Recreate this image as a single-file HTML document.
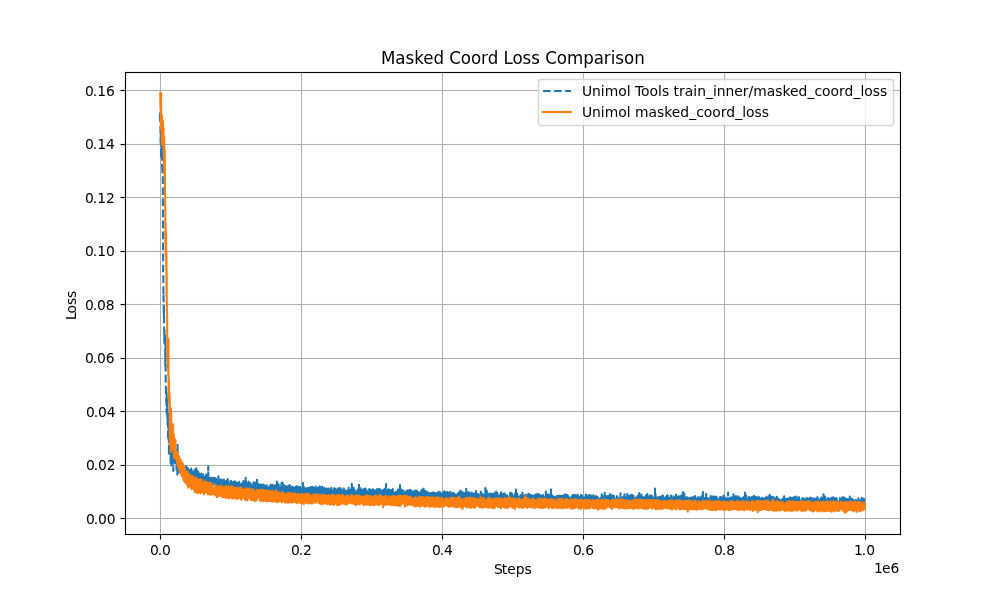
<!DOCTYPE html>
<html lang="en"><head><meta charset="utf-8"><title>Masked Coord Loss Comparison</title>
<style>
html,body{margin:0;padding:0;background:#fff;}
body{width:1000px;height:600px;overflow:hidden;}
svg{display:block;}
text{font-family:"DejaVu Sans","Liberation Sans",sans-serif;font-size:13.889px;fill:#000;white-space:pre;}
.t{font-size:16.667px;}
.g{stroke:#b0b0b0;stroke-width:1.111;fill:none;}
.k{stroke:#000;stroke-width:1.111;fill:none;}
</style></head><body>
<svg width="1000" height="600" viewBox="0 0 1000 600">
<rect x="0" y="0" width="1000" height="600" fill="#fff"/>
<defs><clipPath id="ax"><rect x="125" y="72" width="775" height="462"/></clipPath></defs>
<g fill="#b0b0b0">
<rect x="159.9445" y="72" width="1.111" height="462"/>
<rect x="300.9445" y="72" width="1.111" height="462"/>
<rect x="441.9445" y="72" width="1.111" height="462"/>
<rect x="582.9445" y="72" width="1.111" height="462"/>
<rect x="723.9445" y="72" width="1.111" height="462"/>
<rect x="864.9445" y="72" width="1.111" height="462"/>
<rect x="125" y="89.9445" width="775" height="1.111"/>
<rect x="125" y="143.9445" width="775" height="1.111"/>
<rect x="125" y="196.9445" width="775" height="1.111"/>
<rect x="125" y="250.9445" width="775" height="1.111"/>
<rect x="125" y="303.9445" width="775" height="1.111"/>
<rect x="125" y="357.9445" width="775" height="1.111"/>
<rect x="125" y="410.9445" width="775" height="1.111"/>
<rect x="125" y="464.9445" width="775" height="1.111"/>
<rect x="125" y="517.9445" width="775" height="1.111"/>
</g>
<g clip-path="url(#ax)" fill="none" stroke-width="2.083" stroke-linejoin="round">
<path d="M159.93 120.21L160.07 112.03L160.21 118.19L160.35 124.75L160.49 126.59L160.63 142.78L160.77 138.25L160.91 132.25L161.06 158.65L161.20 155.63L161.34 134.45L161.48 134.28L161.62 136.51L161.76 157.40L161.90 139.61L162.04 164.91L162.18 165.20L162.32 170.87L162.46 174.18L162.61 169.06L162.75 163.80L162.89 200.37L163.03 229.57L163.17 274.56L163.31 274.31L163.45 299.70L163.59 292.83L163.73 311.58L163.87 317.47L164.02 305.87L164.16 327.86L164.30 342.86L164.44 329.22L164.58 341.45L164.72 342.99L164.86 340.52L165.00 334.60L165.14 336.56L165.28 366.11L165.43 360.44L165.57 346.00L165.71 380.45L165.85 383.06L165.99 393.39L166.13 388.15L166.27 400.86L166.41 402.07L166.55 412.48L166.69 393.06L166.83 406.48L166.98 399.28L167.12 402.50L167.26 416.93L167.40 403.88L167.54 413.65L167.68 425.89L167.82 423.90L167.96 415.98L168.10 440.10L168.24 430.26L168.39 424.50L168.53 434.53L168.67 440.01L168.81 414.04L168.95 455.24L169.09 431.42L169.23 431.52L169.37 431.55L169.51 443.04L169.65 427.83L169.80 445.41L169.94 452.75L170.08 449.38L170.22 445.57L170.36 445.50L170.50 430.77L170.64 463.58L170.78 442.54L170.92 439.41L171.06 458.10L171.20 449.33L171.35 454.32L171.49 458.60L171.63 431.64L171.77 467.24L171.91 447.01L172.05 452.99L172.19 457.54L172.33 446.25L172.47 453.95L172.61 441.94L172.76 447.46L172.90 456.28L173.04 455.70L173.18 454.82L173.32 470.97L173.46 453.06L173.60 458.28L173.74 461.22L173.88 450.93L174.02 453.14L174.17 456.54L174.31 455.03L174.45 460.07L174.59 458.54L174.73 451.25L174.87 456.47L175.01 461.68L175.15 456.39L175.29 460.63L175.43 462.82L175.57 463.25L175.72 457.81L175.86 459.27L176.00 461.26L176.14 459.79L176.28 464.73L176.42 464.38L176.56 469.80L176.70 449.18L176.84 464.91L176.98 461.70L177.13 466.11L177.27 465.29L177.41 474.63L177.55 444.80L177.69 460.62L177.83 461.53L177.97 459.59L178.11 461.49L178.25 465.35L178.39 469.05L178.54 464.85L178.68 461.65L178.82 455.45L178.96 470.01L179.10 465.58L179.24 463.40L179.38 472.46L179.52 468.50L179.66 462.70L179.80 465.33L179.94 465.59L180.09 464.56L180.23 468.21L180.37 468.49L180.51 468.67L180.65 469.49L180.79 464.97L180.93 472.20L181.07 464.40L181.21 469.09L181.35 469.05L181.50 471.09L181.64 469.76L181.78 473.48L181.92 475.51L182.06 470.95L182.20 470.28L182.34 472.99L182.48 470.54L182.62 467.70L182.76 467.83L182.91 471.44L183.05 468.93L183.19 467.93L183.33 470.70L183.47 474.70L183.61 476.22L183.75 464.84L183.89 471.99L184.03 467.42L184.17 477.96L184.31 474.48L184.46 477.89L184.60 469.05L184.74 469.64L184.88 476.64L185.02 471.84L185.16 466.51L185.30 471.21L185.44 465.07L185.58 470.92L185.72 475.26L185.87 470.84L186.01 472.83L186.15 471.48L186.29 477.29L186.43 466.60L186.57 471.33L186.71 468.41L186.85 470.66L186.99 472.15L187.13 470.34L187.28 467.90L187.42 475.93L187.56 472.90L187.70 467.64L187.84 468.22L187.98 472.69L188.12 471.54L188.26 473.13L188.40 470.04L188.54 474.52L188.68 471.88L188.83 468.68L188.97 474.16L189.11 474.98L189.25 472.86L189.39 474.21L189.53 476.21L189.67 470.01L189.81 476.26L189.95 473.30L190.09 473.33L190.24 473.28L190.38 469.17L190.52 476.74L190.66 472.83L190.80 476.68L190.94 478.06L191.08 475.53L191.22 468.66L191.36 472.31L191.50 468.38L191.65 477.09L191.79 472.64L191.93 471.80L192.07 470.92L192.21 472.85L192.35 474.28L192.49 472.35L192.63 470.88L192.77 476.04L192.91 473.10L193.06 474.89L193.20 476.23L193.34 472.23L193.48 474.84L193.62 473.65L193.76 476.03L193.90 479.20L194.04 476.15L194.18 480.30L194.32 474.12L194.46 477.42L194.61 477.86L194.75 469.58L194.89 478.09L195.03 473.31L195.17 471.43L195.31 477.37L195.45 472.33L195.59 471.16L195.73 472.89L195.87 473.85L196.02 472.59L196.16 473.38L196.30 478.78L196.44 468.30L196.58 476.79L196.72 479.22L196.86 473.84L197.00 477.24L197.14 477.26L197.28 481.08L197.43 475.42L197.57 472.59L197.71 471.39L197.85 472.90L197.99 480.62L198.13 474.61L198.27 472.13L198.41 474.44L198.55 477.96L198.69 478.62L198.83 473.36L198.98 474.42L199.12 476.93L199.26 478.06L199.40 476.67L199.54 480.67L199.68 477.57L199.82 481.69L199.96 477.27L200.10 481.56L200.24 475.07L200.39 481.37L200.53 481.63L200.67 481.79L200.81 481.67L200.95 474.07L201.09 475.04L201.23 478.05L201.37 475.58L201.51 473.48L201.65 480.52L201.80 475.23L201.94 481.05L202.08 476.10L202.22 482.55L202.36 480.82L202.50 480.94L202.64 474.41L202.78 479.93L202.92 478.01L203.06 480.27L203.20 474.52L203.35 479.06L203.49 477.25L203.63 482.19L203.77 476.16L203.91 482.40L204.05 476.66L204.19 475.84L204.33 480.79L204.47 478.38L204.61 475.57L204.76 477.08L204.90 477.85L205.04 482.93L205.18 483.29L205.32 481.59L205.46 484.28L205.60 477.96L205.74 478.94L205.88 480.09L206.02 474.89L206.17 477.15L206.31 475.62L206.45 474.60L206.59 477.97L206.73 484.04L206.87 476.66L207.01 475.12L207.15 477.44L207.29 484.32L207.43 478.79L207.57 480.25L207.72 481.48L207.86 477.73L208.00 484.18L208.14 483.84L208.28 466.30L208.42 481.14L208.56 478.60L208.70 481.66L208.84 482.46L208.98 481.08L209.13 484.33L209.27 481.40L209.41 478.28L209.55 483.50L209.69 482.32L209.83 478.26L209.97 483.28L210.11 483.94L210.25 485.02L210.39 485.73L210.54 482.05L210.68 481.25L210.82 480.67L210.96 476.16L211.10 476.06L211.24 485.00L211.38 477.42L211.52 480.59L211.66 482.90L211.80 485.00L211.94 476.80L212.09 485.59L212.23 482.24L212.37 478.25L212.51 483.26L212.65 484.04L212.79 478.30L212.93 481.36L213.07 481.63L213.21 482.57L213.35 480.49L213.50 482.23L213.64 481.10L213.78 477.93L213.92 480.03L214.06 482.37L214.20 479.19L214.34 485.56L214.48 479.67L214.62 485.48L214.76 477.81L214.91 479.30L215.05 481.55L215.19 483.58L215.33 484.36L215.47 481.83L215.61 481.81L215.75 485.17L215.89 479.32L216.03 485.74L216.17 480.32L216.31 478.67L216.46 480.70L216.60 481.87L216.74 483.61L216.88 480.25L217.02 485.87L217.16 481.26L217.30 484.78L217.44 484.09L217.58 481.21L217.72 480.10L217.87 485.61L218.01 485.30L218.15 480.95L218.29 482.75L218.43 476.28L218.57 485.29L218.71 484.36L218.85 479.59L218.99 479.01L219.13 480.56L219.28 486.10L219.42 486.27L219.56 485.83L219.70 480.47L219.84 484.67L219.98 487.91L220.12 482.76L220.26 484.36L220.40 481.68L220.54 486.26L220.68 484.12L220.83 478.37L220.97 482.63L221.11 484.47L221.25 478.37L221.39 486.96L221.53 482.16L221.67 481.39L221.81 484.95L221.95 489.33L222.09 484.27L222.24 489.82L222.38 483.44L222.52 479.52L222.66 486.15L222.80 479.26L222.94 485.83L223.08 486.55L223.22 487.64L223.36 484.13L223.50 479.61L223.65 488.14L223.79 482.55L223.93 479.25L224.07 485.72L224.21 486.73L224.35 485.27L224.49 488.52L224.63 482.82L224.77 482.13L224.91 484.34L225.06 487.43L225.20 481.63L225.34 481.05L225.48 485.93L225.62 479.93L225.76 478.80L225.90 482.38L226.04 488.61L226.18 486.75L226.32 484.47L226.46 487.13L226.61 481.34L226.75 488.19L226.89 480.80L227.03 485.31L227.17 486.66L227.31 482.67L227.45 488.62L227.59 483.16L227.73 479.03L227.87 490.02L228.02 483.21L228.16 485.79L228.30 485.64L228.44 484.50L228.58 482.24L228.72 481.56L228.86 484.56L229.00 487.28L229.14 483.55L229.28 486.12L229.43 488.55L229.57 487.81L229.71 489.24L229.85 485.16L229.99 483.21L230.13 483.59L230.27 488.10L230.41 488.32L230.55 485.67L230.69 482.16L230.83 483.78L230.98 480.73L231.12 491.03L231.26 489.53L231.40 487.11L231.54 482.36L231.68 489.00L231.82 482.61L231.96 482.92L232.10 487.39L232.24 484.29L232.39 490.65L232.53 482.46L232.67 488.67L232.81 482.31L232.95 484.16L233.09 483.50L233.23 481.89L233.37 487.19L233.51 482.37L233.65 482.25L233.80 490.06L233.94 487.65L234.08 483.18L234.22 485.10L234.36 486.12L234.50 483.80L234.64 485.50L234.78 483.89L234.92 484.39L235.06 481.20L235.20 483.12L235.35 488.66L235.49 482.44L235.63 490.44L235.77 489.51L235.91 484.73L236.05 484.47L236.19 485.91L236.33 484.82L236.47 488.07L236.61 482.78L236.76 489.17L236.90 486.43L237.04 481.78L237.18 487.12L237.32 484.46L237.46 484.78L237.60 483.06L237.74 488.71L237.88 481.83L238.02 486.66L238.17 484.01L238.31 482.52L238.45 490.52L238.59 486.66L238.73 490.38L238.87 482.56L239.01 481.83L239.15 486.08L239.29 481.73L239.43 483.20L239.57 485.28L239.72 489.57L239.86 487.75L240.00 488.27L240.14 486.51L240.28 483.52L240.42 492.16L240.56 490.64L240.70 490.11L240.84 485.22L240.98 489.24L241.13 484.00L241.27 488.21L241.41 487.81L241.55 484.08L241.69 486.57L241.83 488.28L241.97 487.96L242.11 486.29L242.25 489.94L242.39 488.44L242.54 482.72L242.68 483.24L242.82 486.39L242.96 487.29L243.10 488.24L243.24 491.07L243.38 490.06L243.52 481.15L243.66 486.85L243.80 492.77L243.94 490.05L244.09 485.48L244.23 481.90L244.37 485.28L244.51 485.66L244.65 487.70L244.79 484.94L244.93 489.51L245.07 489.48L245.21 486.75L245.35 485.28L245.50 484.62L245.64 477.75L245.78 489.68L245.92 485.79L246.06 480.97L246.20 487.42L246.34 484.40L246.48 490.62L246.62 484.72L246.76 489.03L246.91 490.22L247.05 483.40L247.19 486.08L247.33 485.03L247.47 488.04L247.61 490.34L247.75 485.65L247.89 490.13L248.03 485.53L248.17 484.81L248.31 491.55L248.46 486.95L248.60 481.48L248.74 482.94L248.88 491.08L249.02 487.02L249.16 491.60L249.30 485.13L249.44 488.12L249.58 492.61L249.72 488.80L249.87 492.11L250.01 484.90L250.15 484.28L250.29 484.85L250.43 483.10L250.57 484.19L250.71 483.79L250.85 487.94L250.99 485.88L251.13 485.21L251.28 488.39L251.42 485.04L251.56 484.50L251.70 492.35L251.84 490.14L251.98 484.92L252.12 490.73L252.26 492.16L252.40 489.08L252.54 487.55L252.68 488.32L252.83 492.78L252.97 483.98L253.11 483.00L253.25 483.84L253.39 490.13L253.53 482.38L253.67 492.59L253.81 490.66L253.95 487.18L254.09 486.67L254.24 485.07L254.38 488.80L254.52 489.29L254.66 487.27L254.80 489.89L254.94 485.10L255.08 487.21L255.22 482.57L255.36 487.62L255.50 486.19L255.65 493.37L255.79 483.33L255.93 483.89L256.07 484.43L256.21 489.51L256.35 484.87L256.49 492.69L256.63 489.50L256.77 487.71L256.91 485.92L257.05 479.80L257.20 486.74L257.34 491.61L257.48 492.30L257.62 487.33L257.76 491.53L257.90 487.96L258.04 483.73L258.18 483.80L258.32 493.06L258.46 490.18L258.61 485.71L258.75 485.31L258.89 490.18L259.03 486.84L259.17 488.07L259.31 486.35L259.45 489.64L259.59 488.08L259.73 482.94L259.87 488.20L260.02 491.31L260.16 489.89L260.30 489.09L260.44 485.14L260.58 486.69L260.72 486.55L260.86 488.22L261.00 482.71L261.14 489.22L261.28 486.97L261.43 491.99L261.57 484.51L261.71 484.40L261.85 488.06L261.99 484.58L262.13 487.61L262.27 489.96L262.41 485.24L262.55 492.81L262.69 491.52L262.83 488.77L262.98 489.72L263.12 486.65L263.26 484.59L263.40 485.20L263.54 492.35L263.68 486.04L263.82 490.00L263.96 491.01L264.10 486.67L264.24 491.73L264.39 485.19L264.53 491.99L264.67 489.37L264.81 486.93L264.95 486.00L265.09 491.18L265.23 491.46L265.37 489.36L265.51 488.04L265.65 490.72L265.80 491.84L265.94 487.73L266.08 488.26L266.22 488.93L266.36 492.83L266.50 489.69L266.64 489.53L266.78 485.30L266.92 488.26L267.06 493.63L267.20 488.74L267.35 487.06L267.49 490.39L267.63 487.84L267.77 491.67L267.91 492.87L268.05 488.13L268.19 488.78L268.33 492.80L268.47 487.86L268.61 491.35L268.76 489.89L268.90 488.76L269.04 487.37L269.18 488.18L269.32 494.07L269.46 486.72L269.60 494.12L269.74 490.87L269.88 493.27L270.02 491.99L270.17 491.30L270.31 484.99L270.45 488.38L270.59 493.72L270.73 490.59L270.87 490.36L271.01 488.07L271.15 487.66L271.29 491.84L271.43 485.76L271.57 489.91L271.72 485.58L271.86 490.66L272.00 484.79L272.14 484.69L272.28 486.57L272.42 489.11L272.56 492.29L272.70 486.88L272.84 488.10L272.98 487.50L273.13 487.80L273.27 494.17L273.41 489.26L273.55 491.78L273.69 491.18L273.83 486.49L273.97 488.67L274.11 485.47L274.25 495.61L274.39 488.79L274.54 486.36L274.68 495.07L274.82 490.72L274.96 492.94L275.10 494.14L275.24 489.17L275.38 489.96L275.52 487.27L275.66 493.99L275.80 485.51L275.94 490.20L276.09 484.89L276.23 488.12L276.37 485.44L276.51 490.64L276.65 494.89L276.79 487.33L276.93 481.50L277.07 489.13L277.21 486.22L277.35 488.02L277.50 490.72L277.64 490.29L277.78 486.44L277.92 490.14L278.06 492.12L278.20 493.58L278.34 493.61L278.48 487.31L278.62 484.41L278.76 490.34L278.91 493.98L279.05 488.26L279.19 493.07L279.33 489.13L279.47 495.22L279.61 490.59L279.75 491.97L279.89 494.28L280.03 491.49L280.17 494.51L280.31 488.39L280.46 487.52L280.60 491.80L280.74 485.76L280.88 487.88L281.02 493.46L281.16 492.80L281.30 491.00L281.44 483.09L281.58 495.03L281.72 494.53L281.87 491.61L282.01 492.77L282.15 492.30L282.29 489.50L282.43 488.70L282.57 482.50L282.71 493.38L282.85 485.04L282.99 492.91L283.13 487.90L283.28 493.36L283.42 487.54L283.56 486.51L283.70 492.66L283.84 485.67L283.98 487.33L284.12 485.17L284.26 493.27L284.40 493.29L284.54 485.62L284.68 485.78L284.83 485.99L284.97 495.35L285.11 492.23L285.25 486.09L285.39 494.57L285.53 486.18L285.67 491.25L285.81 493.66L285.95 488.99L286.09 484.71L286.24 494.73L286.38 491.40L286.52 491.67L286.66 487.33L286.80 496.34L286.94 490.06L287.08 491.86L287.22 486.58L287.36 489.97L287.50 494.68L287.65 487.23L287.79 487.30L287.93 492.28L288.07 492.84L288.21 488.85L288.35 493.74L288.49 487.49L288.63 488.48L288.77 489.58L288.91 486.31L289.05 490.05L289.20 491.81L289.34 485.04L289.48 487.90L289.62 494.18L289.76 493.06L289.90 493.10L290.04 489.94L290.18 487.99L290.32 495.45L290.46 486.38L290.61 494.44L290.75 490.51L290.89 485.72L291.03 491.75L291.17 493.98L291.31 496.33L291.45 490.11L291.59 492.70L291.73 494.76L291.87 493.17L292.02 490.61L292.16 490.15L292.30 490.87L292.44 489.46L292.58 493.40L292.72 486.89L292.86 490.64L293.00 492.42L293.14 492.75L293.28 489.76L293.43 495.46L293.57 494.89L293.71 490.93L293.85 494.46L293.99 493.80L294.13 492.64L294.27 487.47L294.41 488.78L294.55 491.77L294.69 488.15L294.83 495.80L294.98 487.52L295.12 490.38L295.26 495.68L295.40 489.35L295.54 490.91L295.68 496.18L295.82 495.37L295.96 495.31L296.10 485.92L296.24 495.05L296.39 492.10L296.53 487.62L296.67 484.84L296.81 489.08L296.95 497.63L297.09 487.60L297.23 488.62L297.37 490.23L297.51 491.88L297.65 487.42L297.80 493.21L297.94 493.88L298.08 491.20L298.22 495.25L298.36 491.87L298.50 491.84L298.64 487.19L298.78 487.09L298.92 493.73L299.06 495.12L299.20 488.39L299.35 491.12L299.49 488.19L299.63 486.89L299.77 490.54L299.91 492.20L300.05 494.49L300.19 495.81L300.33 487.24L300.47 492.29L300.61 491.61L300.76 492.66L300.90 493.05L301.04 490.50L301.18 488.27L301.32 497.79L301.46 494.69L301.60 488.71L301.74 488.12L301.88 490.41L302.02 488.97L302.17 494.69L302.31 495.49L302.45 493.32L302.59 492.21L302.73 493.21L302.87 487.98L303.01 483.00L303.15 492.16L303.29 492.82L303.43 493.60L303.57 496.33L303.72 486.44L303.86 494.58L304.00 493.12L304.14 486.97L304.28 487.22L304.42 492.56L304.56 490.88L304.70 489.86L304.84 494.96L304.98 490.12L305.13 489.75L305.27 496.26L305.41 493.09L305.55 489.19L305.69 490.59L305.83 493.48L305.97 489.84L306.11 496.17L306.25 488.20L306.39 490.99L306.54 489.80L306.68 495.10L306.82 492.64L306.96 495.48L307.10 493.37L307.24 496.59L307.38 492.08L307.52 491.91L307.66 493.47L307.80 496.57L307.94 489.31L308.09 487.80L308.23 494.37L308.37 493.04L308.51 492.54L308.65 496.75L308.79 496.46L308.93 488.86L309.07 490.28L309.21 491.70L309.35 493.89L309.50 494.67L309.64 487.71L309.78 496.76L309.92 493.88L310.06 492.47L310.20 488.79L310.34 493.34L310.48 487.22L310.62 491.43L310.76 493.87L310.91 490.34L311.05 492.31L311.19 487.25L311.33 493.63L311.47 487.35L311.61 495.75L311.75 487.04L311.89 495.53L312.03 496.13L312.17 490.77L312.31 496.58L312.46 486.68L312.60 491.38L312.74 492.58L312.88 497.02L313.02 494.60L313.16 493.25L313.30 487.66L313.44 489.43L313.58 491.76L313.72 492.07L313.87 487.90L314.01 491.80L314.15 494.13L314.29 488.42L314.43 492.22L314.57 492.22L314.71 490.29L314.85 488.24L314.99 489.58L315.13 496.41L315.28 495.12L315.42 490.59L315.56 486.44L315.70 492.62L315.84 487.74L315.98 494.18L316.12 495.78L316.26 493.89L316.40 494.06L316.54 496.87L316.68 495.33L316.83 488.74L316.97 491.58L317.11 497.00L317.25 496.17L317.39 487.99L317.53 491.95L317.67 496.68L317.81 496.52L317.95 487.75L318.09 489.20L318.24 488.24L318.38 487.76L318.52 488.57L318.66 487.37L318.80 496.31L318.94 494.50L319.08 492.96L319.22 494.26L319.36 496.50L319.50 486.53L319.65 492.09L319.79 489.29L319.93 496.77L320.07 492.73L320.21 494.29L320.35 486.99L320.49 490.23L320.63 488.17L320.77 489.57L320.91 489.93L321.05 491.30L321.20 489.95L321.34 492.99L321.48 488.73L321.62 494.51L321.76 487.33L321.90 495.27L322.04 493.44L322.18 493.18L322.32 486.52L322.46 495.60L322.61 497.51L322.75 488.68L322.89 492.15L323.03 494.85L323.17 495.96L323.31 492.23L323.45 496.65L323.59 497.45L323.73 493.40L323.87 497.46L324.02 489.66L324.16 490.19L324.30 488.16L324.44 496.23L324.58 496.37L324.72 490.37L324.86 489.27L325.00 488.40L325.14 495.25L325.28 495.31L325.42 489.81L325.57 488.71L325.71 489.19L325.85 493.60L325.99 494.68L326.13 492.66L326.27 488.55L326.41 494.21L326.55 492.74L326.69 497.07L326.83 491.14L326.98 496.92L327.12 494.79L327.26 497.05L327.40 492.90L327.54 494.26L327.68 495.41L327.82 494.47L327.96 497.24L328.10 488.51L328.24 495.33L328.39 489.06L328.53 490.93L328.67 488.20L328.81 490.01L328.95 496.83L329.09 489.57L329.23 491.06L329.37 496.83L329.51 493.46L329.65 493.46L329.80 487.84L329.94 493.40L330.08 489.65L330.22 498.69L330.36 495.58L330.50 488.88L330.64 489.17L330.78 497.35L330.92 487.93L331.06 488.15L331.20 490.41L331.35 496.54L331.49 497.43L331.63 492.88L331.77 497.32L331.91 493.75L332.05 493.88L332.19 495.41L332.33 494.06L332.47 490.23L332.61 489.20L332.76 491.25L332.90 496.32L333.04 494.73L333.18 495.94L333.32 494.53L333.46 491.18L333.60 494.98L333.74 488.18L333.88 496.95L334.02 493.56L334.17 493.55L334.31 492.68L334.45 496.17L334.59 495.38L334.73 496.03L334.87 492.79L335.01 497.44L335.15 491.41L335.29 492.68L335.43 493.79L335.57 488.19L335.72 488.03L335.86 495.90L336.00 491.30L336.14 493.27L336.28 491.50L336.42 491.93L336.56 491.46L336.70 490.08L336.84 497.43L336.98 489.33L337.13 496.01L337.27 490.94L337.41 494.44L337.55 494.62L337.69 495.24L337.83 496.70L337.97 492.37L338.11 494.37L338.25 488.36L338.39 493.61L338.54 495.38L338.68 490.31L338.82 487.24L338.96 494.48L339.10 493.85L339.24 496.07L339.38 488.53L339.52 495.03L339.66 491.44L339.80 495.36L339.94 492.53L340.09 491.92L340.23 488.08L340.37 497.74L340.51 488.57L340.65 491.73L340.79 488.29L340.93 492.30L341.07 496.67L341.21 490.14L341.35 490.42L341.50 498.12L341.64 496.27L341.78 490.61L341.92 496.81L342.06 491.61L342.20 497.64L342.34 489.18L342.48 489.78L342.62 496.11L342.76 497.36L342.91 496.55L343.05 497.10L343.19 494.42L343.33 491.53L343.47 492.40L343.61 487.08L343.75 488.69L343.89 496.87L344.03 491.63L344.17 489.00L344.31 497.14L344.46 488.61L344.60 494.14L344.74 492.24L344.88 490.77L345.02 489.47L345.16 494.32L345.30 493.34L345.44 491.65L345.58 499.09L345.72 497.99L345.87 495.45L346.01 490.46L346.15 489.96L346.29 491.41L346.43 491.55L346.57 490.56L346.71 496.74L346.85 498.85L346.99 490.89L347.13 488.65L347.28 493.25L347.42 497.32L347.56 493.03L347.70 496.58L347.84 494.51L347.98 490.76L348.12 495.82L348.26 498.88L348.40 496.17L348.54 489.94L348.68 487.88L348.83 489.90L348.97 491.60L349.11 490.66L349.25 494.69L349.39 491.05L349.53 489.85L349.67 492.56L349.81 493.56L349.95 493.74L350.09 497.05L350.24 492.08L350.38 493.45L350.52 489.81L350.66 491.19L350.80 491.95L350.94 493.79L351.08 497.42L351.22 491.70L351.36 495.39L351.50 491.55L351.65 491.88L351.79 483.76L351.93 496.14L352.07 491.44L352.21 496.81L352.35 494.58L352.49 496.17L352.63 496.50L352.77 490.65L352.91 495.01L353.05 496.30L353.20 490.22L353.34 494.05L353.48 487.58L353.62 493.18L353.76 488.55L353.90 491.81L354.04 490.90L354.18 494.04L354.32 493.06L354.46 489.58L354.61 490.23L354.75 498.55L354.89 496.21L355.03 492.82L355.17 491.66L355.31 496.14L355.45 495.74L355.59 498.17L355.73 490.58L355.87 490.34L356.02 492.47L356.16 491.99L356.30 493.36L356.44 493.37L356.58 493.11L356.72 494.78L356.86 493.23L357.00 495.63L357.14 491.77L357.28 493.23L357.42 492.62L357.57 489.90L357.71 497.21L357.85 494.14L357.99 495.06L358.13 492.50L358.27 494.39L358.41 493.60L358.55 491.25L358.69 495.60L358.83 490.34L358.98 483.00L359.12 490.79L359.26 492.79L359.40 492.61L359.54 492.80L359.68 493.21L359.82 499.30L359.96 496.93L360.10 490.68L360.24 491.80L360.39 497.24L360.53 488.22L360.67 490.94L360.81 494.03L360.95 490.20L361.09 493.68L361.23 490.76L361.37 491.00L361.51 490.45L361.65 496.01L361.80 490.38L361.94 491.97L362.08 493.10L362.22 491.48L362.36 492.72L362.50 496.87L362.64 495.76L362.78 496.36L362.92 498.64L363.06 496.68L363.20 492.47L363.35 489.34L363.49 493.78L363.63 496.40L363.77 490.76L363.91 497.17L364.05 495.45L364.19 498.50L364.33 489.77L364.47 489.06L364.61 497.76L364.76 493.04L364.90 491.58L365.04 499.26L365.18 495.65L365.32 488.45L365.46 492.39L365.60 496.66L365.74 487.69L365.88 496.01L366.02 492.78L366.17 492.64L366.31 490.68L366.45 491.20L366.59 490.37L366.73 494.67L366.87 499.05L367.01 498.83L367.15 493.72L367.29 497.17L367.43 496.52L367.57 491.76L367.72 498.17L367.86 495.81L368.00 496.79L368.14 497.81L368.28 490.38L368.42 490.72L368.56 496.77L368.70 491.95L368.84 493.48L368.98 493.85L369.13 497.55L369.27 488.97L369.41 494.20L369.55 496.04L369.69 490.53L369.83 493.67L369.97 498.43L370.11 498.03L370.25 490.21L370.39 490.81L370.54 491.48L370.68 489.76L370.82 491.55L370.96 492.18L371.10 494.05L371.24 492.21L371.38 496.96L371.52 490.53L371.66 489.98L371.80 491.76L371.94 495.77L372.09 492.55L372.23 491.02L372.37 491.50L372.51 490.42L372.65 491.47L372.79 492.70L372.93 489.22L373.07 493.07L373.21 490.86L373.35 489.65L373.50 498.93L373.64 492.22L373.78 493.47L373.92 498.30L374.06 493.11L374.20 497.46L374.34 498.09L374.48 495.07L374.62 495.16L374.76 490.40L374.91 491.30L375.05 493.44L375.19 497.10L375.33 497.16L375.47 490.53L375.61 495.36L375.75 491.13L375.89 492.96L376.03 494.36L376.17 499.89L376.31 493.21L376.46 497.34L376.60 495.17L376.74 491.02L376.88 489.22L377.02 491.31L377.16 495.42L377.30 497.54L377.44 493.91L377.58 491.12L377.72 495.76L377.87 494.94L378.01 494.56L378.15 489.16L378.29 492.37L378.43 488.91L378.57 496.87L378.71 493.92L378.85 491.64L378.99 495.01L379.13 492.16L379.28 490.11L379.42 494.54L379.56 490.94L379.70 490.49L379.84 499.15L379.98 489.54L380.12 499.23L380.26 489.38L380.40 495.50L380.54 489.71L380.68 496.68L380.83 492.94L380.97 494.26L381.11 499.53L381.25 498.66L381.39 491.83L381.53 496.42L381.67 497.26L381.81 491.89L381.95 494.64L382.09 491.77L382.24 496.90L382.38 499.69L382.52 492.15L382.66 497.66L382.80 494.21L382.94 490.29L383.08 492.79L383.22 493.36L383.36 489.73L383.50 499.34L383.65 494.73L383.79 498.51L383.93 497.26L384.07 496.09L384.21 494.49L384.35 490.20L384.49 491.54L384.63 493.56L384.77 488.82L384.91 491.50L385.05 494.59L385.20 489.77L385.34 494.58L385.48 489.92L385.62 489.83L385.76 491.81L385.90 493.76L386.04 484.00L386.18 500.00L386.32 492.49L386.46 499.62L386.61 494.90L386.75 498.08L386.89 496.13L387.03 490.27L387.17 495.29L387.31 492.38L387.45 496.12L387.59 497.80L387.73 496.00L387.87 498.53L388.02 495.73L388.16 498.71L388.30 489.41L388.44 496.66L388.58 496.07L388.72 491.66L388.86 499.62L389.00 491.22L389.14 489.90L389.28 491.80L389.42 495.16L389.57 496.78L389.71 491.84L389.85 494.96L389.99 493.77L390.13 490.74L390.27 496.16L390.41 491.82L390.55 491.74L390.69 493.85L390.83 490.40L390.98 492.92L391.12 498.70L391.26 493.70L391.40 499.28L391.54 492.44L391.68 490.62L391.82 490.01L391.96 494.15L392.10 489.45L392.24 493.57L392.39 498.03L392.53 494.68L392.67 493.77L392.81 489.03L392.95 495.15L393.09 490.70L393.23 496.65L393.37 498.52L393.51 490.92L393.65 494.75L393.80 492.77L393.94 494.68L394.08 494.38L394.22 491.58L394.36 497.89L394.50 491.94L394.64 497.22L394.78 497.66L394.92 493.44L395.06 495.03L395.20 498.77L395.35 499.34L395.49 492.52L395.63 493.07L395.77 492.12L395.91 500.04L396.05 494.85L396.19 494.08L396.33 494.55L396.47 495.39L396.61 499.92L396.76 489.37L396.90 497.33L397.04 494.51L397.18 494.21L397.32 495.29L397.46 498.32L397.60 494.45L397.74 491.27L397.88 498.97L398.02 497.19L398.17 489.53L398.31 499.00L398.45 493.16L398.59 498.80L398.73 494.97L398.87 497.82L399.01 489.91L399.15 496.32L399.29 494.30L399.43 497.40L399.57 498.47L399.72 493.02L399.86 501.22L400.00 485.00L400.14 490.04L400.28 498.01L400.42 490.43L400.56 498.32L400.70 498.57L400.84 493.82L400.98 490.66L401.13 491.95L401.27 497.54L401.41 498.01L401.55 489.43L401.69 493.13L401.83 497.01L401.97 493.93L402.11 492.51L402.25 492.48L402.39 496.56L402.54 496.91L402.68 491.06L402.82 494.42L402.96 496.25L403.10 495.20L403.24 495.74L403.38 490.61L403.52 493.92L403.66 492.16L403.80 498.51L403.94 496.69L404.09 495.42L404.23 497.76L404.37 493.24L404.51 495.71L404.65 494.62L404.79 497.82L404.93 499.22L405.07 499.20L405.21 499.36L405.35 492.48L405.50 494.45L405.64 492.04L405.78 494.17L405.92 491.62L406.06 499.02L406.20 492.63L406.34 494.53L406.48 492.01L406.62 490.93L406.76 492.95L406.91 494.65L407.05 495.53L407.19 497.78L407.33 493.86L407.47 490.35L407.61 497.14L407.75 498.92L407.89 497.66L408.03 495.22L408.17 496.35L408.31 497.99L408.46 491.04L408.60 491.50L408.74 499.67L408.88 494.48L409.02 490.25L409.16 495.50L409.30 494.36L409.44 492.96L409.58 494.00L409.72 494.95L409.87 492.29L410.01 501.06L410.15 500.17L410.29 489.84L410.43 494.96L410.57 492.32L410.71 490.24L410.85 493.79L410.99 494.52L411.13 492.36L411.28 498.71L411.42 495.21L411.56 494.37L411.70 492.80L411.84 494.52L411.98 499.35L412.12 495.44L412.26 494.06L412.40 491.74L412.54 497.51L412.68 491.21L412.83 495.14L412.97 495.22L413.11 493.40L413.25 495.50L413.39 496.58L413.53 497.84L413.67 493.08L413.81 492.19L413.95 493.70L414.09 492.40L414.24 490.86L414.38 493.13L414.52 491.97L414.66 497.37L414.80 493.37L414.94 490.49L415.08 494.54L415.22 498.35L415.36 498.82L415.50 495.60L415.65 499.41L415.79 501.56L415.93 494.14L416.07 490.83L416.21 491.43L416.35 499.30L416.49 497.23L416.63 495.61L416.77 500.32L416.91 490.73L417.05 498.41L417.20 499.89L417.34 494.79L417.48 493.61L417.62 496.03L417.76 496.02L417.90 494.82L418.04 495.79L418.18 492.89L418.32 499.55L418.46 493.35L418.61 495.38L418.75 499.43L418.89 493.35L419.03 494.97L419.17 495.58L419.31 494.93L419.45 492.20L419.59 494.93L419.73 493.47L419.87 495.64L420.02 500.64L420.16 494.78L420.30 496.98L420.44 494.67L420.58 494.32L420.72 496.45L420.86 494.09L421.00 491.98L421.14 494.69L421.28 491.63L421.42 496.67L421.57 494.07L421.71 489.73L421.85 499.65L421.99 496.22L422.13 491.01L422.27 493.52L422.41 493.50L422.55 498.82L422.69 497.06L422.83 498.37L422.98 495.53L423.12 492.99L423.26 496.56L423.40 493.64L423.54 487.22L423.68 494.06L423.82 500.73L423.96 491.96L424.10 491.90L424.24 499.78L424.39 500.31L424.53 501.40L424.67 491.88L424.81 493.84L424.95 494.60L425.09 490.98L425.23 494.81L425.37 497.89L425.51 496.67L425.65 491.16L425.79 500.04L425.94 495.10L426.08 499.49L426.22 497.06L426.36 491.48L426.50 495.71L426.64 495.74L426.78 500.13L426.92 499.15L427.06 494.42L427.20 498.47L427.35 500.01L427.49 492.59L427.63 494.90L427.77 500.12L427.91 497.68L428.05 501.59L428.19 493.57L428.33 492.56L428.47 492.66L428.61 497.03L428.76 502.07L428.90 499.96L429.04 495.54L429.18 497.34L429.32 495.95L429.46 494.66L429.60 497.42L429.74 502.31L429.88 496.00L430.02 491.86L430.17 493.69L430.31 493.96L430.45 495.17L430.59 492.93L430.73 496.90L430.87 500.97L431.01 497.73L431.15 497.20L431.29 493.09L431.43 498.07L431.57 497.13L431.72 499.14L431.86 495.79L432.00 497.26L432.14 497.44L432.28 493.94L432.42 492.44L432.56 494.84L432.70 491.72L432.84 495.00L432.98 496.71L433.13 494.96L433.27 500.54L433.41 493.45L433.55 492.59L433.69 493.27L433.83 495.32L433.97 494.15L434.11 499.30L434.25 495.50L434.39 499.59L434.54 492.83L434.68 501.69L434.82 499.99L434.96 497.92L435.10 494.78L435.24 497.33L435.38 491.92L435.52 495.90L435.66 501.58L435.80 498.83L435.94 499.38L436.09 493.76L436.23 495.63L436.37 499.16L436.51 495.93L436.65 500.01L436.79 496.41L436.93 499.03L437.07 499.41L437.21 501.43L437.35 496.76L437.50 498.50L437.64 493.11L437.78 493.04L437.92 500.91L438.06 493.42L438.20 496.32L438.34 497.94L438.48 493.71L438.62 491.88L438.76 492.11L438.91 493.97L439.05 498.41L439.19 499.63L439.33 499.89L439.47 498.73L439.61 496.99L439.75 495.72L439.89 498.17L440.03 496.75L440.17 491.43L440.31 496.27L440.46 495.41L440.60 496.06L440.74 500.63L440.88 493.89L441.02 497.83L441.16 496.39L441.30 499.11L441.44 496.60L441.58 493.48L441.72 500.95L441.87 499.50L442.01 501.43L442.15 497.88L442.29 495.77L442.43 499.19L442.57 497.34L442.71 493.39L442.85 498.35L442.99 500.56L443.13 499.20L443.28 492.36L443.42 496.58L443.56 500.90L443.70 494.65L443.84 496.96L443.98 500.00L444.12 501.75L444.26 494.56L444.40 492.70L444.54 491.31L444.68 492.17L444.83 501.92L444.97 495.44L445.11 498.11L445.25 498.44L445.39 500.45L445.53 501.32L445.67 500.09L445.81 492.64L445.95 493.72L446.09 495.85L446.24 492.63L446.38 495.20L446.52 501.84L446.66 499.10L446.80 498.42L446.94 495.69L447.08 495.32L447.22 500.60L447.36 492.10L447.50 493.75L447.65 499.91L447.79 496.25L447.93 498.25L448.07 501.03L448.21 499.64L448.35 501.22L448.49 493.07L448.63 492.70L448.77 501.36L448.91 497.27L449.05 499.40L449.20 493.32L449.34 498.48L449.48 493.09L449.62 494.94L449.76 500.92L449.90 500.72L450.04 499.68L450.18 500.47L450.32 491.98L450.46 492.89L450.61 495.28L450.75 495.12L450.89 496.71L451.03 495.66L451.17 496.96L451.31 500.99L451.45 501.16L451.59 500.58L451.73 499.60L451.87 493.01L452.02 494.26L452.16 499.01L452.30 495.48L452.44 493.82L452.58 498.37L452.72 494.57L452.86 500.23L453.00 499.27L453.14 499.58L453.28 499.69L453.42 499.77L453.57 494.24L453.71 497.60L453.85 492.92L453.99 495.19L454.13 500.67L454.27 497.48L454.41 497.52L454.55 498.43L454.69 494.48L454.83 495.23L454.98 498.28L455.12 500.10L455.26 495.07L455.40 498.84L455.54 498.71L455.68 494.88L455.82 502.22L455.96 501.46L456.10 495.06L456.24 499.06L456.39 503.20L456.53 494.65L456.67 498.33L456.81 499.10L456.95 494.65L457.09 500.95L457.23 499.56L457.37 495.08L457.51 495.18L457.65 495.77L457.79 496.28L457.94 493.78L458.08 493.99L458.22 497.75L458.36 495.47L458.50 494.68L458.64 492.66L458.78 494.11L458.92 500.03L459.06 497.21L459.20 499.11L459.35 499.16L459.49 494.27L459.63 495.30L459.77 493.19L459.91 496.62L460.05 500.81L460.19 499.81L460.33 488.29L460.47 499.34L460.61 496.56L460.76 495.72L460.90 498.83L461.04 498.85L461.18 496.05L461.32 495.35L461.46 498.52L461.60 496.91L461.74 497.94L461.88 493.81L462.02 500.69L462.17 492.09L462.31 498.33L462.45 500.64L462.59 500.49L462.73 493.62L462.87 496.37L463.01 498.07L463.15 495.37L463.29 494.35L463.43 494.31L463.57 493.30L463.72 492.83L463.86 496.36L464.00 498.80L464.14 497.22L464.28 496.62L464.42 495.28L464.56 496.56L464.70 493.87L464.84 493.22L464.98 499.87L465.13 497.35L465.27 496.84L465.41 496.49L465.55 496.38L465.69 498.15L465.83 497.46L465.97 496.25L466.11 499.60L466.25 488.81L466.39 501.50L466.54 497.19L466.68 494.31L466.82 495.28L466.96 501.57L467.10 501.44L467.24 494.51L467.38 496.02L467.52 495.66L467.66 500.36L467.80 498.12L467.94 497.23L468.09 495.67L468.23 492.37L468.37 498.07L468.51 502.08L468.65 494.82L468.79 503.85L468.93 492.38L469.07 496.31L469.21 492.54L469.35 492.68L469.50 499.05L469.64 497.77L469.78 495.69L469.92 498.43L470.06 493.97L470.20 501.29L470.34 495.70L470.48 502.38L470.62 496.53L470.76 501.85L470.91 494.19L471.05 498.89L471.19 494.61L471.33 496.90L471.47 492.49L471.61 495.52L471.75 496.04L471.89 494.34L472.03 494.10L472.17 494.26L472.31 497.57L472.46 498.97L472.60 497.19L472.74 501.47L472.88 497.76L473.02 497.53L473.16 495.34L473.30 493.64L473.44 498.54L473.58 499.31L473.72 501.97L473.87 492.80L474.01 500.87L474.15 493.46L474.29 502.42L474.43 500.59L474.57 500.31L474.71 494.75L474.85 500.45L474.99 502.11L475.13 496.36L475.28 493.69L475.42 501.31L475.56 495.49L475.70 500.63L475.84 493.22L475.98 490.00L476.12 500.58L476.26 503.18L476.40 499.15L476.54 501.97L476.68 502.31L476.83 501.85L476.97 496.64L477.11 499.23L477.25 499.93L477.39 495.00L477.53 497.34L477.67 492.86L477.81 496.50L477.95 500.72L478.09 501.27L478.24 501.95L478.38 497.32L478.52 499.36L478.66 498.75L478.80 501.62L478.94 495.11L479.08 503.29L479.22 496.95L479.36 500.45L479.50 501.23L479.65 500.69L479.79 498.03L479.93 501.22L480.07 501.15L480.21 495.79L480.35 496.05L480.49 494.18L480.63 499.98L480.77 491.49L480.91 494.38L481.05 494.63L481.20 498.63L481.34 501.12L481.48 501.96L481.62 499.48L481.76 499.22L481.90 493.74L482.04 496.57L482.18 498.58L482.32 494.01L482.46 493.11L482.61 499.13L482.75 498.30L482.89 501.75L483.03 494.36L483.17 501.74L483.31 500.93L483.45 496.02L483.59 496.05L483.73 501.70L483.87 496.58L484.02 501.12L484.16 500.67L484.30 496.39L484.44 500.46L484.58 501.14L484.72 497.63L484.86 501.45L485.00 494.97L485.14 498.11L485.28 488.05L485.42 499.71L485.57 500.27L485.71 489.81L485.85 495.08L485.99 495.38L486.13 497.44L486.27 499.01L486.41 496.08L486.55 497.28L486.69 493.12L486.83 491.07L486.98 497.60L487.12 501.79L487.26 500.42L487.40 499.26L487.54 493.83L487.68 498.26L487.82 495.55L487.96 495.78L488.10 501.67L488.24 495.06L488.39 493.08L488.53 495.48L488.67 495.84L488.81 500.82L488.95 494.03L489.09 498.43L489.23 498.29L489.37 498.77L489.51 493.45L489.65 497.32L489.79 499.46L489.94 500.49L490.08 499.87L490.22 501.83L490.36 494.47L490.50 501.17L490.64 493.93L490.78 498.27L490.92 497.44L491.06 501.76L491.20 499.43L491.35 499.41L491.49 493.11L491.63 495.29L491.77 493.86L491.91 498.87L492.05 498.34L492.19 497.14L492.33 501.43L492.47 493.97L492.61 500.05L492.76 494.39L492.90 500.37L493.04 493.78L493.18 502.08L493.32 502.02L493.46 497.55L493.60 493.56L493.74 496.35L493.88 502.50L494.02 501.10L494.16 494.98L494.31 495.96L494.45 493.91L494.59 497.41L494.73 498.10L494.87 495.08L495.01 493.00L495.15 501.43L495.29 502.75L495.43 493.46L495.57 496.46L495.72 494.03L495.86 498.13L496.00 498.08L496.14 491.55L496.28 499.30L496.42 499.82L496.56 501.52L496.70 495.77L496.84 497.20L496.98 500.02L497.13 501.93L497.27 496.27L497.41 492.95L497.55 499.85L497.69 498.71L497.83 497.08L497.97 497.49L498.11 499.76L498.25 498.82L498.39 496.64L498.54 503.09L498.68 500.31L498.82 496.27L498.96 502.47L499.10 498.81L499.24 499.90L499.38 499.16L499.52 502.91L499.66 497.94L499.80 496.16L499.94 500.16L500.09 494.56L500.23 494.91L500.37 495.70L500.51 498.41L500.65 502.99L500.79 495.56L500.93 495.98L501.07 492.38L501.21 498.77L501.35 499.69L501.50 495.67L501.64 501.80L501.78 494.67L501.92 501.91L502.06 500.65L502.20 501.72L502.34 496.79L502.48 501.81L502.62 498.60L502.76 499.58L502.91 493.93L503.05 498.80L503.19 495.12L503.33 495.98L503.47 499.17L503.61 497.13L503.75 495.14L503.89 493.44L504.03 497.29L504.17 500.34L504.31 499.24L504.46 493.38L504.60 497.28L504.74 495.77L504.88 493.60L505.02 493.89L505.16 501.18L505.30 494.85L505.44 501.69L505.58 496.05L505.72 495.40L505.87 502.45L506.01 502.52L506.15 495.50L506.29 492.81L506.43 493.58L506.57 497.45L506.71 500.64L506.85 498.03L506.99 495.22L507.13 502.55L507.28 495.92L507.42 502.75L507.56 497.18L507.70 498.46L507.84 494.97L507.98 502.59L508.12 500.83L508.26 501.95L508.40 496.68L508.54 498.84L508.68 495.70L508.83 496.59L508.97 496.57L509.11 499.97L509.25 500.78L509.39 497.90L509.53 499.97L509.67 502.09L509.81 500.87L509.95 498.79L510.09 493.57L510.24 503.50L510.38 492.53L510.52 502.37L510.66 496.31L510.80 494.47L510.94 500.91L511.08 493.11L511.22 495.11L511.36 501.22L511.50 502.83L511.65 500.37L511.79 499.69L511.93 494.62L512.07 493.87L512.21 501.33L512.35 501.68L512.49 501.98L512.63 501.69L512.77 500.06L512.91 499.56L513.05 498.15L513.20 496.25L513.34 498.22L513.48 499.91L513.62 503.82L513.76 502.97L513.90 498.80L514.04 501.21L514.18 502.78L514.32 501.98L514.46 498.88L514.61 496.09L514.75 500.55L514.89 493.76L515.03 496.65L515.17 498.46L515.31 496.21L515.45 503.73L515.59 501.61L515.73 499.49L515.87 498.44L516.02 489.50L516.16 498.12L516.30 496.45L516.44 502.34L516.58 495.42L516.72 499.29L516.86 501.47L517.00 493.24L517.14 493.68L517.28 495.74L517.42 494.62L517.57 497.39L517.71 502.82L517.85 499.16L517.99 501.52L518.13 500.65L518.27 499.32L518.41 496.28L518.55 500.59L518.69 496.50L518.83 503.28L518.98 496.64L519.12 501.79L519.26 503.14L519.40 498.57L519.54 495.68L519.68 501.09L519.82 500.76L519.96 502.69L520.10 499.91L520.24 500.45L520.39 496.47L520.53 495.91L520.67 495.13L520.81 495.14L520.95 502.21L521.09 500.43L521.23 498.86L521.37 492.66L521.51 493.33L521.65 498.43L521.79 497.98L521.94 503.50L522.08 499.20L522.22 502.40L522.36 498.13L522.50 492.56L522.64 500.18L522.78 497.76L522.92 493.89L523.06 494.50L523.20 497.49L523.35 500.62L523.49 502.25L523.63 496.32L523.77 496.26L523.91 498.77L524.05 497.99L524.19 498.38L524.33 499.44L524.47 499.25L524.61 500.65L524.76 495.70L524.90 502.24L525.04 500.03L525.18 503.99L525.32 494.80L525.46 499.73L525.60 494.64L525.74 501.10L525.88 501.23L526.02 499.62L526.16 495.52L526.31 498.98L526.45 499.69L526.59 501.81L526.73 501.18L526.87 498.77L527.01 500.45L527.15 500.43L527.29 498.40L527.43 496.07L527.57 503.32L527.72 496.44L527.86 498.01L528.00 498.22L528.14 494.37L528.28 499.31L528.42 494.03L528.56 499.36L528.70 501.02L528.84 497.78L528.98 494.13L529.13 498.84L529.27 495.88L529.41 502.36L529.55 497.73L529.69 499.59L529.83 497.30L529.97 494.36L530.11 499.56L530.25 503.83L530.39 496.74L530.54 494.71L530.68 498.44L530.82 503.79L530.96 498.91L531.10 495.34L531.24 497.23L531.38 501.39L531.52 500.40L531.66 495.50L531.80 497.28L531.94 502.81L532.09 496.58L532.23 502.01L532.37 499.92L532.51 499.72L532.65 496.67L532.79 495.86L532.93 498.52L533.07 495.59L533.21 499.43L533.35 499.50L533.50 495.53L533.64 493.70L533.78 499.81L533.92 504.62L534.06 501.55L534.20 494.64L534.34 502.32L534.48 497.55L534.62 500.78L534.76 501.26L534.91 495.02L535.05 498.24L535.19 497.02L535.33 495.42L535.47 494.43L535.61 500.37L535.75 501.45L535.89 501.29L536.03 502.92L536.17 496.42L536.31 498.47L536.46 498.50L536.60 500.07L536.74 503.93L536.88 497.86L537.02 495.73L537.16 497.81L537.30 501.46L537.44 493.72L537.58 496.70L537.72 502.55L537.87 503.75L538.01 495.81L538.15 494.17L538.29 497.53L538.43 499.75L538.57 494.85L538.71 504.30L538.85 502.41L538.99 496.98L539.13 497.53L539.28 500.12L539.42 494.60L539.56 497.41L539.70 498.52L539.84 496.47L539.98 500.26L540.12 500.95L540.26 497.97L540.40 498.00L540.54 501.25L540.68 495.72L540.83 493.72L540.97 497.34L541.11 501.21L541.25 499.03L541.39 499.19L541.53 498.26L541.67 499.27L541.81 496.33L541.95 503.17L542.09 499.20L542.24 498.69L542.38 497.57L542.52 501.06L542.66 499.61L542.80 495.91L542.94 498.53L543.08 495.01L543.22 497.12L543.36 499.64L543.50 498.37L543.65 498.81L543.79 497.65L543.93 503.86L544.07 496.96L544.21 504.84L544.35 496.99L544.49 501.94L544.63 500.83L544.77 501.51L544.91 497.18L545.05 503.46L545.20 501.06L545.34 498.77L545.48 500.79L545.62 501.59L545.76 491.53L545.90 495.69L546.04 495.01L546.18 496.36L546.32 495.88L546.46 497.71L546.61 495.02L546.75 500.69L546.89 502.31L547.03 497.51L547.17 495.70L547.31 496.92L547.45 499.66L547.59 502.70L547.73 499.37L547.87 494.41L548.02 499.05L548.16 502.97L548.30 496.23L548.44 499.49L548.58 496.22L548.72 499.92L548.86 503.50L549.00 498.57L549.14 504.30L549.28 503.03L549.42 500.32L549.57 498.40L549.71 504.51L549.85 496.13L549.99 494.88L550.13 496.37L550.27 498.16L550.41 502.01L550.55 503.85L550.69 496.59L550.83 497.58L550.98 489.50L551.12 498.66L551.26 496.13L551.40 496.60L551.54 503.14L551.68 497.34L551.82 496.75L551.96 497.81L552.10 504.76L552.24 499.48L552.39 495.50L552.53 503.42L552.67 498.53L552.81 497.77L552.95 494.65L553.09 500.30L553.23 500.32L553.37 499.87L553.51 497.53L553.65 503.76L553.79 498.00L553.94 501.18L554.08 502.85L554.22 498.41L554.36 495.08L554.50 498.96L554.64 497.99L554.78 499.39L554.92 495.79L555.06 501.59L555.20 496.76L555.35 498.06L555.49 504.71L555.63 498.09L555.77 503.64L555.91 499.34L556.05 502.24L556.19 502.10L556.33 498.43L556.47 502.09L556.61 498.84L556.76 495.96L556.90 499.64L557.04 503.48L557.18 500.69L557.32 502.50L557.46 504.85L557.60 498.21L557.74 504.06L557.88 501.62L558.02 503.16L558.16 499.00L558.31 502.07L558.45 495.83L558.59 499.27L558.73 500.11L558.87 496.08L559.01 499.47L559.15 500.16L559.29 501.90L559.43 495.89L559.57 498.27L559.72 496.77L559.86 497.15L560.00 500.38L560.14 503.39L560.28 499.19L560.42 498.33L560.56 499.27L560.70 497.77L560.84 503.69L560.98 498.93L561.13 495.74L561.27 503.68L561.41 499.41L561.55 498.72L561.69 501.62L561.83 499.41L561.97 498.87L562.11 497.41L562.25 503.51L562.39 495.72L562.53 496.24L562.68 498.47L562.82 498.16L562.96 495.12L563.10 497.65L563.24 501.07L563.38 497.57L563.52 496.81L563.66 498.83L563.80 504.27L563.94 501.62L564.09 495.12L564.23 498.82L564.37 496.51L564.51 496.30L564.65 496.69L564.79 502.02L564.93 501.55L565.07 498.16L565.21 496.58L565.35 503.80L565.50 494.31L565.64 496.17L565.78 498.11L565.92 502.76L566.06 503.60L566.20 500.21L566.34 500.65L566.48 497.73L566.62 501.47L566.76 504.74L566.91 498.89L567.05 495.44L567.19 497.33L567.33 499.99L567.47 494.95L567.61 503.81L567.75 500.14L567.89 502.32L568.03 501.17L568.17 496.11L568.31 503.25L568.46 498.17L568.60 499.46L568.74 496.94L568.88 499.84L569.02 498.85L569.16 503.63L569.30 501.66L569.44 499.02L569.58 499.23L569.72 500.22L569.87 502.43L570.01 503.71L570.15 503.29L570.29 497.36L570.43 499.82L570.57 498.30L570.71 498.56L570.85 499.80L570.99 501.36L571.13 502.45L571.28 502.70L571.42 499.44L571.56 496.55L571.70 501.44L571.84 500.36L571.98 499.90L572.12 503.65L572.26 497.99L572.40 499.22L572.54 495.29L572.68 496.40L572.83 495.12L572.97 499.96L573.11 504.82L573.25 504.65L573.39 495.24L573.53 498.68L573.67 496.09L573.81 497.29L573.95 503.51L574.09 500.15L574.24 502.54L574.38 494.89L574.52 502.84L574.66 500.95L574.80 502.89L574.94 502.22L575.08 495.41L575.22 501.75L575.36 501.38L575.50 498.98L575.65 499.00L575.79 498.77L575.93 503.04L576.07 495.54L576.21 499.28L576.35 498.65L576.49 503.90L576.63 498.44L576.77 503.32L576.91 501.59L577.05 500.90L577.20 503.41L577.34 496.57L577.48 501.41L577.62 503.16L577.76 494.86L577.90 502.19L578.04 503.46L578.18 503.41L578.32 504.93L578.46 496.64L578.61 498.58L578.75 504.39L578.89 500.12L579.03 504.03L579.17 501.71L579.31 500.13L579.45 497.26L579.59 502.83L579.73 503.42L579.87 496.71L580.02 503.19L580.16 500.43L580.30 503.89L580.44 500.31L580.58 502.48L580.72 499.90L580.86 496.43L581.00 495.09L581.14 502.52L581.28 504.79L581.42 498.04L581.57 502.48L581.71 505.25L581.85 504.13L581.99 501.99L582.13 498.21L582.27 495.74L582.41 500.62L582.55 496.32L582.69 499.58L582.83 501.32L582.98 501.86L583.12 502.34L583.26 500.99L583.40 500.18L583.54 504.44L583.68 498.65L583.82 498.30L583.96 501.63L584.10 496.57L584.24 495.99L584.39 499.28L584.53 500.09L584.67 500.37L584.81 500.40L584.95 499.69L585.09 498.01L585.23 495.71L585.37 500.38L585.51 503.73L585.65 505.19L585.79 494.52L585.94 495.47L586.08 501.98L586.22 502.91L586.36 495.25L586.50 502.13L586.64 498.72L586.78 498.96L586.92 500.95L587.06 497.86L587.20 500.04L587.35 498.12L587.49 498.22L587.63 504.10L587.77 497.22L587.91 500.00L588.05 498.62L588.19 497.16L588.33 500.85L588.47 498.89L588.61 499.25L588.76 495.26L588.90 503.11L589.04 501.81L589.18 499.40L589.32 500.45L589.46 497.23L589.60 505.06L589.74 501.71L589.88 498.90L590.02 495.13L590.16 504.23L590.31 503.01L590.45 497.62L590.59 503.60L590.73 495.24L590.87 496.03L591.01 501.33L591.15 497.78L591.29 498.47L591.43 497.15L591.57 502.44L591.72 497.89L591.86 498.01L592.00 499.34L592.14 503.22L592.28 500.38L592.42 500.95L592.56 497.51L592.70 504.97L592.84 499.69L592.98 504.04L593.13 495.61L593.27 501.41L593.41 495.28L593.55 501.90L593.69 504.41L593.83 502.51L593.97 496.96L594.11 505.18L594.25 499.46L594.39 496.51L594.53 502.96L594.68 505.32L594.82 505.27L594.96 501.12L595.10 500.37L595.24 496.65L595.38 499.52L595.52 496.12L595.66 495.18L595.80 502.65L595.94 496.10L596.09 500.19L596.23 500.04L596.37 500.94L596.51 497.29L596.65 500.46L596.79 496.59L596.93 502.84L597.07 499.06L597.21 495.40L597.35 502.78L597.50 502.28L597.64 499.18L597.78 497.37L597.92 499.21L598.06 504.40L598.20 501.39L598.34 500.14L598.48 498.94L598.62 500.13L598.76 501.89L598.91 503.82L599.05 500.12L599.19 501.69L599.33 504.26L599.47 504.12L599.61 502.37L599.75 500.40L599.89 498.11L600.03 497.87L600.17 498.49L600.31 497.95L600.46 500.31L600.60 500.42L600.74 503.40L600.88 504.21L601.02 500.15L601.16 501.68L601.30 502.53L601.44 497.60L601.58 504.30L601.72 494.36L601.87 502.36L602.01 498.16L602.15 501.92L602.29 499.02L602.43 495.73L602.57 499.21L602.71 501.69L602.85 503.69L602.99 504.19L603.13 498.83L603.28 497.63L603.42 504.99L603.56 500.07L603.70 498.12L603.84 497.73L603.98 499.04L604.12 501.47L604.26 503.37L604.40 497.44L604.54 503.74L604.68 492.90L604.83 498.48L604.97 501.56L605.11 499.05L605.25 500.95L605.39 501.45L605.53 499.41L605.67 502.01L605.81 504.93L605.95 496.96L606.09 499.59L606.24 496.18L606.38 498.97L606.52 500.74L606.66 496.49L606.80 505.53L606.94 496.85L607.08 501.94L607.22 502.59L607.36 505.02L607.50 500.09L607.65 505.68L607.79 503.84L607.93 496.00L608.07 503.18L608.21 501.52L608.35 501.69L608.49 501.16L608.63 500.74L608.77 497.20L608.91 502.73L609.05 500.95L609.20 498.86L609.34 500.55L609.48 495.48L609.62 504.47L609.76 500.58L609.90 502.43L610.04 494.10L610.18 495.96L610.32 505.67L610.46 498.92L610.61 501.88L610.75 496.17L610.89 503.69L611.03 503.92L611.17 504.49L611.31 497.80L611.45 499.67L611.59 504.77L611.73 497.38L611.87 505.52L612.02 495.30L612.16 504.09L612.30 498.16L612.44 505.98L612.58 496.61L612.72 498.52L612.86 504.54L613.00 495.86L613.14 506.48L613.28 499.10L613.42 497.49L613.57 503.28L613.71 501.88L613.85 495.87L613.99 505.84L614.13 505.36L614.27 502.87L614.41 501.75L614.55 498.95L614.69 502.76L614.83 502.95L614.98 497.90L615.12 498.37L615.26 503.68L615.40 502.51L615.54 499.12L615.68 502.73L615.82 501.09L615.96 505.13L616.10 502.84L616.24 502.78L616.39 502.94L616.53 498.10L616.67 497.58L616.81 496.39L616.95 501.71L617.09 501.89L617.23 496.24L617.37 503.82L617.51 502.17L617.65 496.92L617.79 497.45L617.94 501.02L618.08 501.98L618.22 497.04L618.36 496.29L618.50 496.41L618.64 502.73L618.78 498.15L618.92 499.14L619.06 504.47L619.20 501.73L619.35 504.10L619.49 498.92L619.63 498.67L619.77 504.97L619.91 502.20L620.05 501.04L620.19 500.40L620.33 503.18L620.47 493.37L620.61 495.61L620.76 500.18L620.90 499.35L621.04 503.00L621.18 504.22L621.32 505.82L621.46 498.07L621.60 500.50L621.74 497.52L621.88 504.33L622.02 498.46L622.16 506.83L622.31 500.49L622.45 505.07L622.59 501.24L622.73 501.56L622.87 495.68L623.01 497.29L623.15 496.37L623.29 497.87L623.43 502.30L623.57 498.98L623.72 503.82L623.86 498.68L624.00 501.03L624.14 500.38L624.28 495.80L624.42 495.77L624.56 494.34L624.70 505.56L624.84 505.15L624.98 504.18L625.13 499.22L625.27 503.34L625.41 497.51L625.55 503.94L625.69 498.27L625.83 500.19L625.97 499.12L626.11 503.29L626.25 503.95L626.39 497.36L626.53 501.54L626.68 500.72L626.82 502.18L626.96 503.96L627.10 499.67L627.24 493.97L627.38 502.22L627.52 500.91L627.66 496.59L627.80 505.52L627.94 499.54L628.09 495.74L628.23 505.36L628.37 504.01L628.51 496.33L628.65 497.68L628.79 498.04L628.93 499.84L629.07 504.01L629.21 503.30L629.35 497.55L629.50 504.35L629.64 504.16L629.78 497.86L629.92 501.05L630.06 499.75L630.20 495.35L630.34 503.96L630.48 503.90L630.62 497.26L630.76 504.94L630.90 500.90L631.05 505.61L631.19 505.38L631.33 505.04L631.47 499.22L631.61 503.13L631.75 497.28L631.89 500.41L632.03 494.86L632.17 498.00L632.31 499.00L632.46 500.35L632.60 496.86L632.74 499.51L632.88 500.51L633.02 502.86L633.16 503.48L633.30 502.89L633.44 498.57L633.58 496.06L633.72 503.81L633.87 500.68L634.01 499.32L634.15 501.40L634.29 497.79L634.43 502.37L634.57 498.00L634.71 504.08L634.85 499.64L634.99 500.39L635.13 499.65L635.28 504.47L635.42 499.87L635.56 503.07L635.70 505.68L635.84 502.84L635.98 496.79L636.12 504.34L636.26 502.10L636.40 500.39L636.54 501.82L636.68 497.90L636.83 504.17L636.97 505.39L637.11 500.21L637.25 501.84L637.39 497.89L637.53 496.16L637.67 500.32L637.81 504.63L637.95 495.82L638.09 497.04L638.24 502.69L638.38 503.96L638.52 498.58L638.66 497.62L638.80 503.52L638.94 498.25L639.08 496.19L639.22 493.13L639.36 501.74L639.50 500.05L639.65 501.35L639.79 501.94L639.93 498.33L640.07 505.04L640.21 500.41L640.35 498.05L640.49 496.28L640.63 495.66L640.77 498.76L640.91 497.69L641.05 499.22L641.20 504.46L641.34 500.32L641.48 494.42L641.62 500.07L641.76 499.99L641.90 501.94L642.04 501.52L642.18 502.20L642.32 504.17L642.46 504.50L642.61 502.53L642.75 505.26L642.89 496.99L643.03 505.42L643.17 500.47L643.31 504.34L643.45 497.02L643.59 504.03L643.73 505.58L643.87 502.14L644.02 504.78L644.16 503.03L644.30 498.51L644.44 503.91L644.58 496.32L644.72 502.24L644.86 503.90L645.00 499.09L645.14 503.11L645.28 504.41L645.42 500.54L645.57 506.09L645.71 502.42L645.85 495.65L645.99 498.99L646.13 505.93L646.27 498.63L646.41 502.99L646.55 499.55L646.69 501.25L646.83 501.98L646.98 505.97L647.12 503.42L647.26 499.72L647.40 494.14L647.54 500.01L647.68 504.68L647.82 497.01L647.96 505.56L648.10 501.55L648.24 506.29L648.39 497.45L648.53 505.20L648.67 499.99L648.81 504.94L648.95 498.28L649.09 502.24L649.23 496.59L649.37 499.15L649.51 503.27L649.65 496.69L649.79 500.40L649.94 499.99L650.08 499.07L650.22 501.60L650.36 504.01L650.50 495.38L650.64 504.24L650.78 503.59L650.92 505.28L651.06 503.79L651.20 495.90L651.35 499.71L651.49 503.79L651.63 498.96L651.77 499.84L651.91 502.71L652.05 502.69L652.19 496.04L652.33 501.23L652.47 498.32L652.61 505.93L652.76 497.35L652.90 501.95L653.04 500.83L653.18 504.58L653.32 503.09L653.46 499.09L653.60 501.64L653.74 499.16L653.88 501.69L654.02 507.03L654.16 504.16L654.31 499.29L654.45 502.09L654.59 500.79L654.73 502.49L654.87 498.47L655.01 488.50L655.15 501.33L655.29 504.99L655.43 505.70L655.57 494.55L655.72 504.89L655.86 495.24L656.00 502.58L656.14 507.12L656.28 499.50L656.42 498.13L656.56 501.65L656.70 497.92L656.84 500.07L656.98 497.52L657.13 499.53L657.27 499.00L657.41 505.05L657.55 498.20L657.69 503.05L657.83 502.56L657.97 500.11L658.11 501.72L658.25 500.92L658.39 497.64L658.53 503.45L658.68 496.72L658.82 503.80L658.96 497.94L659.10 500.66L659.24 504.00L659.38 504.05L659.52 499.57L659.66 503.22L659.80 503.92L659.94 503.97L660.09 502.74L660.23 500.32L660.37 495.96L660.51 500.27L660.65 496.42L660.79 501.25L660.93 497.98L661.07 497.10L661.21 503.16L661.35 502.36L661.50 499.83L661.64 503.45L661.78 502.84L661.92 500.80L662.06 498.03L662.20 498.31L662.34 504.39L662.48 500.11L662.62 495.58L662.76 501.31L662.90 495.43L663.05 505.22L663.19 498.59L663.33 497.88L663.47 502.84L663.61 498.72L663.75 502.83L663.89 504.55L664.03 500.98L664.17 498.15L664.31 500.65L664.46 503.21L664.60 500.33L664.74 497.77L664.88 501.44L665.02 498.66L665.16 499.28L665.30 505.15L665.44 502.51L665.58 503.16L665.72 499.47L665.87 502.07L666.01 496.88L666.15 498.94L666.29 504.75L666.43 497.72L666.57 505.16L666.71 496.09L666.85 499.06L666.99 505.42L667.13 496.03L667.28 499.52L667.42 495.23L667.56 504.40L667.70 495.37L667.84 503.44L667.98 505.43L668.12 498.58L668.26 499.35L668.40 498.62L668.54 498.91L668.68 497.44L668.83 499.07L668.97 503.58L669.11 501.57L669.25 501.59L669.39 502.85L669.53 499.53L669.67 496.64L669.81 495.45L669.95 497.64L670.09 497.84L670.24 498.33L670.38 501.98L670.52 498.51L670.66 507.40L670.80 501.55L670.94 495.46L671.08 495.80L671.22 500.37L671.36 505.38L671.50 499.19L671.65 500.08L671.79 499.16L671.93 500.54L672.07 503.30L672.21 502.64L672.35 502.31L672.49 502.92L672.63 497.77L672.77 500.59L672.91 496.18L673.05 503.97L673.20 500.14L673.34 500.03L673.48 496.37L673.62 500.20L673.76 503.72L673.90 499.07L674.04 500.90L674.18 500.89L674.32 504.41L674.46 503.07L674.61 501.58L674.75 500.77L674.89 497.52L675.03 506.49L675.17 501.49L675.31 505.17L675.45 496.70L675.59 498.59L675.73 502.94L675.87 500.47L676.02 494.53L676.16 503.51L676.30 503.13L676.44 498.83L676.58 505.43L676.72 497.45L676.86 497.79L677.00 502.32L677.14 503.83L677.28 501.21L677.42 499.77L677.57 505.48L677.71 496.85L677.85 501.07L677.99 505.69L678.13 503.53L678.27 499.86L678.41 502.03L678.55 496.29L678.69 504.62L678.83 503.17L678.98 496.18L679.12 503.61L679.26 502.59L679.40 501.49L679.54 499.88L679.68 503.76L679.82 505.59L679.96 502.88L680.10 502.74L680.24 500.63L680.39 497.85L680.53 497.31L680.67 497.80L680.81 498.78L680.95 506.27L681.09 495.60L681.23 505.79L681.37 505.31L681.51 502.69L681.65 496.11L681.79 498.63L681.94 503.50L682.08 498.60L682.22 502.80L682.36 500.84L682.50 504.07L682.64 499.92L682.78 497.62L682.92 492.03L683.06 505.69L683.20 502.26L683.35 504.51L683.49 502.86L683.63 496.89L683.77 496.77L683.91 498.51L684.05 497.03L684.19 501.97L684.33 493.42L684.47 504.53L684.61 497.55L684.76 496.83L684.90 505.81L685.04 499.09L685.18 501.54L685.32 504.06L685.46 498.94L685.60 502.87L685.74 499.65L685.88 505.08L686.02 502.42L686.16 497.86L686.31 505.10L686.45 503.91L686.59 498.64L686.73 501.24L686.87 505.50L687.01 506.10L687.15 503.52L687.29 497.35L687.43 499.38L687.57 504.76L687.72 505.97L687.86 506.60L688.00 500.88L688.14 504.03L688.28 503.90L688.42 501.65L688.56 498.55L688.70 506.63L688.84 500.43L688.98 502.53L689.13 503.49L689.27 501.66L689.41 499.78L689.55 501.01L689.69 497.91L689.83 498.92L689.97 504.31L690.11 499.10L690.25 503.86L690.39 503.81L690.53 499.36L690.68 497.85L690.82 504.60L690.96 506.23L691.10 503.21L691.24 506.22L691.38 502.03L691.52 504.61L691.66 503.04L691.80 504.44L691.94 505.93L692.09 497.41L692.23 502.36L692.37 500.98L692.51 504.30L692.65 503.85L692.79 500.91L692.93 503.03L693.07 503.88L693.21 505.62L693.35 500.32L693.50 497.76L693.64 497.34L693.78 497.04L693.92 506.61L694.06 497.80L694.20 500.36L694.34 501.63L694.48 504.17L694.62 496.97L694.76 500.26L694.90 496.00L695.05 499.77L695.19 498.97L695.33 496.83L695.47 500.21L695.61 505.07L695.75 502.63L695.89 505.67L696.03 506.49L696.17 504.64L696.31 501.60L696.46 502.85L696.60 504.43L696.74 499.25L696.88 502.43L697.02 501.18L697.16 498.47L697.30 502.86L697.44 498.52L697.58 502.10L697.72 502.77L697.87 503.69L698.01 501.96L698.15 498.86L698.29 501.41L698.43 497.09L698.57 503.42L698.71 501.94L698.85 499.70L698.99 500.13L699.13 503.94L699.28 499.12L699.42 498.80L699.56 497.98L699.70 503.94L699.84 498.54L699.98 498.50L700.12 502.54L700.26 501.60L700.40 503.80L700.54 502.30L700.68 496.59L700.83 506.42L700.97 500.91L701.11 497.23L701.25 496.62L701.39 506.81L701.53 499.30L701.67 499.11L701.81 501.24L701.95 505.05L702.09 500.80L702.24 504.09L702.38 504.36L702.52 495.15L702.66 500.82L702.80 500.53L702.94 492.00L703.08 506.35L703.22 504.25L703.36 499.58L703.50 497.36L703.65 503.45L703.79 504.43L703.93 501.03L704.07 503.58L704.21 498.12L704.35 498.50L704.49 499.61L704.63 500.00L704.77 505.50L704.91 504.11L705.05 501.67L705.20 505.24L705.34 502.13L705.48 497.91L705.62 501.29L705.76 502.02L705.90 499.71L706.04 496.38L706.18 493.79L706.32 502.87L706.46 499.54L706.61 504.12L706.75 498.26L706.89 500.37L707.03 497.71L707.17 501.57L707.31 504.69L707.45 504.79L707.59 504.43L707.73 502.93L707.87 505.65L708.02 497.33L708.16 500.80L708.30 499.12L708.44 499.22L708.58 498.98L708.72 502.26L708.86 501.55L709.00 499.72L709.14 502.82L709.28 500.01L709.42 495.96L709.57 497.65L709.71 502.11L709.85 500.72L709.99 502.98L710.13 500.58L710.27 498.55L710.41 505.31L710.55 499.68L710.69 496.12L710.83 500.99L710.98 497.21L711.12 506.79L711.26 500.11L711.40 505.24L711.54 502.85L711.68 505.16L711.82 503.40L711.96 500.31L712.10 504.17L712.24 498.62L712.39 503.44L712.53 498.22L712.67 496.54L712.81 498.26L712.95 503.95L713.09 499.90L713.23 504.55L713.37 498.64L713.51 503.83L713.65 498.34L713.79 496.70L713.94 497.35L714.08 496.79L714.22 496.98L714.36 500.37L714.50 504.21L714.64 497.37L714.78 498.96L714.92 504.51L715.06 504.61L715.20 500.53L715.35 498.18L715.49 504.64L715.63 498.77L715.77 505.23L715.91 496.58L716.05 507.23L716.19 498.50L716.33 504.74L716.47 503.04L716.61 498.06L716.76 497.36L716.90 499.86L717.04 497.06L717.18 502.14L717.32 503.68L717.46 497.97L717.60 502.64L717.74 498.05L717.88 497.00L718.02 499.36L718.16 500.50L718.31 502.18L718.45 501.42L718.59 499.91L718.73 501.36L718.87 499.77L719.01 503.94L719.15 500.60L719.29 497.71L719.43 504.19L719.57 504.78L719.72 497.90L719.86 500.15L720.00 497.01L720.14 497.51L720.28 505.39L720.42 503.66L720.56 505.74L720.70 503.54L720.84 500.67L720.98 497.04L721.13 503.13L721.27 503.39L721.41 499.61L721.55 502.72L721.69 505.66L721.83 506.65L721.97 499.74L722.11 502.59L722.25 503.51L722.39 507.31L722.53 497.94L722.68 502.64L722.82 500.10L722.96 500.67L723.10 498.98L723.24 497.34L723.38 504.95L723.52 496.95L723.66 493.40L723.80 502.62L723.94 502.30L724.09 498.11L724.23 503.33L724.37 500.10L724.51 504.03L724.65 499.13L724.79 503.90L724.93 499.87L725.07 506.59L725.21 496.66L725.35 498.37L725.50 503.59L725.64 501.95L725.78 500.71L725.92 503.12L726.06 504.19L726.20 503.67L726.34 497.70L726.48 499.09L726.62 501.27L726.76 507.63L726.90 501.19L727.05 505.57L727.19 504.78L727.33 498.90L727.47 504.42L727.61 498.18L727.75 504.89L727.89 506.56L728.03 492.50L728.17 506.22L728.31 498.94L728.46 502.31L728.60 501.87L728.74 498.94L728.88 500.85L729.02 500.96L729.16 502.52L729.30 498.36L729.44 506.69L729.58 499.45L729.72 501.76L729.87 504.30L730.01 502.25L730.15 505.55L730.29 497.98L730.43 504.54L730.57 499.09L730.71 504.41L730.85 501.17L730.99 497.90L731.13 499.83L731.27 504.84L731.42 497.25L731.56 497.26L731.70 505.57L731.84 501.59L731.98 500.84L732.12 499.05L732.26 500.01L732.40 501.76L732.54 500.72L732.68 497.37L732.83 505.27L732.97 501.10L733.11 501.13L733.25 499.28L733.39 503.67L733.53 492.80L733.67 500.68L733.81 502.38L733.95 500.81L734.09 500.99L734.24 498.38L734.38 504.52L734.52 506.22L734.66 499.31L734.80 499.51L734.94 503.83L735.08 498.28L735.22 496.74L735.36 500.66L735.50 497.76L735.65 503.43L735.79 501.46L735.93 496.12L736.07 506.29L736.21 501.02L736.35 497.35L736.49 501.11L736.63 497.41L736.77 500.22L736.91 506.78L737.05 501.11L737.20 501.18L737.34 498.86L737.48 500.57L737.62 496.34L737.76 501.60L737.90 497.97L738.04 505.97L738.18 501.67L738.32 497.94L738.46 496.35L738.61 502.39L738.75 500.87L738.89 501.29L739.03 502.66L739.17 503.57L739.31 504.68L739.45 500.99L739.59 503.71L739.73 501.48L739.87 499.59L740.02 498.11L740.16 505.19L740.30 504.34L740.44 503.62L740.58 506.94L740.72 498.92L740.86 501.29L741.00 502.94L741.14 500.17L741.28 503.04L741.42 502.84L741.57 506.77L741.71 498.70L741.85 500.00L741.99 500.24L742.13 498.19L742.27 503.73L742.41 504.76L742.55 500.13L742.69 500.32L742.83 498.73L742.98 499.85L743.12 501.87L743.26 502.06L743.40 497.35L743.54 501.53L743.68 500.09L743.82 503.38L743.96 504.70L744.10 500.14L744.24 501.60L744.39 499.92L744.53 499.10L744.67 500.27L744.81 501.26L744.95 492.50L745.09 497.28L745.23 501.17L745.37 501.09L745.51 507.38L745.65 503.06L745.79 500.36L745.94 497.41L746.08 495.30L746.22 503.25L746.36 502.57L746.50 503.53L746.64 500.13L746.78 498.48L746.92 500.94L747.06 503.50L747.20 498.68L747.35 497.49L747.49 502.49L747.63 501.52L747.77 503.06L747.91 506.30L748.05 505.04L748.19 498.65L748.33 505.35L748.47 499.82L748.61 502.30L748.76 496.67L748.90 496.79L749.04 502.18L749.18 497.32L749.32 499.72L749.46 497.72L749.60 497.58L749.74 500.45L749.88 500.84L750.02 498.74L750.16 498.36L750.31 504.01L750.45 502.64L750.59 505.49L750.73 502.15L750.87 505.39L751.01 497.80L751.15 504.54L751.29 498.43L751.43 500.25L751.57 497.89L751.72 500.17L751.86 505.39L752.00 497.01L752.14 499.11L752.28 498.16L752.42 499.21L752.56 506.95L752.70 497.70L752.84 500.55L752.98 498.19L753.13 499.43L753.27 497.31L753.41 499.25L753.55 504.74L753.69 502.68L753.83 495.89L753.97 500.28L754.11 505.15L754.25 504.58L754.39 501.44L754.53 501.46L754.68 502.86L754.82 502.43L754.96 497.85L755.10 500.89L755.24 503.54L755.38 505.67L755.52 504.61L755.66 503.54L755.80 497.65L755.94 499.49L756.09 496.77L756.23 505.61L756.37 500.92L756.51 506.66L756.65 502.10L756.79 504.18L756.93 506.45L757.07 498.62L757.21 497.67L757.35 504.34L757.50 501.11L757.64 500.40L757.78 501.29L757.92 504.71L758.06 500.55L758.20 507.13L758.34 508.00L758.48 502.69L758.62 504.11L758.76 501.50L758.90 496.99L759.05 501.45L759.19 504.54L759.33 500.84L759.47 499.13L759.61 499.07L759.75 505.53L759.89 503.34L760.03 499.03L760.17 506.66L760.31 507.76L760.46 506.97L760.60 506.86L760.74 498.81L760.88 504.75L761.02 507.40L761.16 502.53L761.30 505.23L761.44 506.07L761.58 498.70L761.72 498.35L761.87 497.92L762.01 503.96L762.15 503.11L762.29 502.13L762.43 500.91L762.57 508.65L762.71 499.63L762.85 499.01L762.99 502.96L763.13 506.24L763.27 498.19L763.42 502.91L763.56 500.52L763.70 498.86L763.84 506.59L763.98 504.61L764.12 507.26L764.26 504.26L764.40 505.74L764.54 501.54L764.68 501.88L764.83 506.10L764.97 498.25L765.11 505.95L765.25 503.68L765.39 501.38L765.53 506.89L765.67 505.21L765.81 506.07L765.95 502.87L766.09 497.14L766.24 497.79L766.38 499.93L766.52 501.98L766.66 496.45L766.80 506.16L766.94 498.93L767.08 499.26L767.22 505.12L767.36 497.80L767.50 501.55L767.65 504.96L767.79 499.65L767.93 503.53L768.07 499.61L768.21 505.20L768.35 501.73L768.49 503.21L768.63 506.08L768.77 498.61L768.91 504.45L769.05 500.68L769.20 496.56L769.34 495.38L769.48 498.44L769.62 500.31L769.76 498.10L769.90 495.08L770.04 499.91L770.18 506.09L770.32 505.92L770.46 504.47L770.61 504.43L770.75 498.67L770.89 497.05L771.03 499.43L771.17 503.94L771.31 504.51L771.45 498.48L771.59 502.90L771.73 505.88L771.87 503.74L772.02 501.63L772.16 504.88L772.30 496.87L772.44 498.63L772.58 499.63L772.72 506.41L772.86 506.63L773.00 498.49L773.14 504.74L773.28 497.60L773.42 497.20L773.57 504.96L773.71 503.93L773.85 497.61L773.99 504.98L774.13 497.53L774.27 499.44L774.41 501.02L774.55 500.26L774.69 506.95L774.83 506.11L774.98 503.11L775.12 504.89L775.26 499.02L775.40 502.63L775.54 503.58L775.68 500.17L775.82 504.97L775.96 502.48L776.10 501.54L776.24 500.91L776.39 500.24L776.53 504.82L776.67 495.76L776.81 498.27L776.95 507.37L777.09 499.37L777.23 501.50L777.37 500.48L777.51 505.24L777.65 504.41L777.79 504.51L777.94 503.86L778.08 498.65L778.22 504.76L778.36 500.92L778.50 504.19L778.64 497.57L778.78 507.07L778.92 504.05L779.06 505.92L779.20 503.27L779.35 500.36L779.49 502.29L779.63 499.77L779.77 501.15L779.91 504.99L780.05 505.10L780.19 507.82L780.33 501.88L780.47 502.25L780.61 504.90L780.76 501.81L780.90 504.59L781.04 502.72L781.18 506.84L781.32 503.27L781.46 504.27L781.60 500.15L781.74 505.97L781.88 505.85L782.02 500.37L782.16 497.37L782.31 500.17L782.45 499.33L782.59 504.71L782.73 499.93L782.87 504.80L783.01 498.50L783.15 503.65L783.29 505.97L783.43 504.38L783.57 498.28L783.72 502.04L783.86 506.65L784.00 506.19L784.14 496.35L784.28 503.56L784.42 504.36L784.56 498.80L784.70 498.47L784.84 505.17L784.98 504.59L785.13 499.27L785.27 506.36L785.41 504.63L785.55 501.03L785.69 502.78L785.83 503.15L785.97 501.73L786.11 501.66L786.25 507.13L786.39 499.92L786.53 504.62L786.68 507.26L786.82 502.64L786.96 497.45L787.10 498.36L787.24 505.40L787.38 508.22L787.52 498.50L787.66 505.53L787.80 507.10L787.94 504.15L788.09 502.59L788.23 501.49L788.37 505.15L788.51 505.17L788.65 500.27L788.79 501.37L788.93 500.74L789.07 506.50L789.21 498.57L789.35 503.86L789.50 502.98L789.64 503.91L789.78 497.74L789.92 497.33L790.06 505.03L790.20 504.32L790.34 505.40L790.48 496.86L790.62 498.52L790.76 504.05L790.90 503.99L791.05 505.51L791.19 497.94L791.33 498.03L791.47 500.96L791.61 504.45L791.75 503.24L791.89 502.97L792.03 505.85L792.17 498.80L792.31 497.73L792.46 505.10L792.60 502.50L792.74 503.44L792.88 502.76L793.02 505.81L793.16 498.04L793.30 504.85L793.44 500.09L793.58 500.86L793.72 506.83L793.87 499.59L794.01 504.76L794.15 496.87L794.29 504.59L794.43 496.82L794.57 501.17L794.71 498.59L794.85 500.00L794.99 499.85L795.13 500.33L795.27 503.46L795.42 500.02L795.56 501.58L795.70 499.88L795.84 496.62L795.98 500.99L796.12 503.23L796.26 505.74L796.40 500.85L796.54 507.06L796.68 499.49L796.83 506.23L796.97 503.73L797.11 506.62L797.25 502.40L797.39 502.38L797.53 501.79L797.67 505.69L797.81 502.02L797.95 507.31L798.09 504.98L798.24 497.41L798.38 500.13L798.52 502.37L798.66 507.31L798.80 497.09L798.94 502.20L799.08 497.37L799.22 506.13L799.36 499.14L799.50 504.55L799.64 506.90L799.79 504.43L799.93 504.83L800.07 503.70L800.21 501.13L800.35 500.15L800.49 500.24L800.63 505.54L800.77 503.04L800.91 501.88L801.05 505.33L801.20 503.41L801.34 503.19L801.48 501.09L801.62 501.57L801.76 504.51L801.90 499.46L802.04 498.88L802.18 503.38L802.32 506.88L802.46 497.02L802.61 505.34L802.75 505.03L802.89 507.03L803.03 498.04L803.17 507.69L803.31 502.56L803.45 503.61L803.59 498.47L803.73 501.88L803.87 504.85L804.02 504.63L804.16 508.18L804.30 500.63L804.44 499.57L804.58 500.68L804.72 499.44L804.86 505.85L805.00 502.14L805.14 501.61L805.28 507.77L805.42 501.08L805.57 502.32L805.71 506.04L805.85 503.98L805.99 502.95L806.13 500.47L806.27 498.51L806.41 503.68L806.55 505.93L806.69 504.05L806.83 505.54L806.98 502.07L807.12 498.81L807.26 498.08L807.40 499.28L807.54 498.44L807.68 500.17L807.82 500.07L807.96 504.59L808.10 502.07L808.24 499.59L808.39 497.22L808.53 506.15L808.67 501.30L808.81 506.30L808.95 507.20L809.09 498.78L809.23 500.68L809.37 507.52L809.51 498.55L809.65 504.34L809.79 500.67L809.94 500.44L810.08 497.67L810.22 498.82L810.36 500.91L810.50 497.66L810.64 499.62L810.78 498.17L810.92 497.95L811.06 502.53L811.20 498.08L811.35 498.89L811.49 505.06L811.63 505.84L811.77 498.88L811.91 505.30L812.05 500.36L812.19 504.44L812.33 501.58L812.47 498.99L812.61 507.68L812.76 500.37L812.90 496.31L813.04 508.19L813.18 508.04L813.32 505.39L813.46 498.70L813.60 501.69L813.74 501.47L813.88 506.22L814.02 505.27L814.16 504.03L814.31 501.78L814.45 506.02L814.59 500.99L814.73 505.99L814.87 504.69L815.01 497.32L815.15 506.60L815.29 506.51L815.43 499.86L815.57 504.10L815.72 498.98L815.86 503.01L816.00 500.32L816.14 505.15L816.28 502.05L816.42 503.35L816.56 499.56L816.70 504.82L816.84 501.36L816.98 501.58L817.13 502.91L817.27 502.13L817.41 497.14L817.55 507.99L817.69 505.94L817.83 503.71L817.97 498.73L818.11 503.32L818.25 506.14L818.39 505.97L818.53 497.21L818.68 507.53L818.82 505.28L818.96 500.67L819.10 500.20L819.24 506.29L819.38 504.14L819.52 504.70L819.66 502.56L819.80 507.09L819.94 505.89L820.09 500.40L820.23 500.30L820.37 504.64L820.51 500.80L820.65 502.65L820.79 496.79L820.93 496.29L821.07 504.96L821.21 500.44L821.35 497.45L821.50 502.55L821.64 501.93L821.78 506.91L821.92 505.14L822.06 505.59L822.20 508.31L822.34 506.47L822.48 497.53L822.62 501.05L822.76 502.36L822.90 501.32L823.05 504.81L823.19 499.58L823.33 507.49L823.47 494.19L823.61 501.48L823.75 504.82L823.89 503.54L824.03 503.04L824.17 502.51L824.31 503.79L824.46 505.54L824.60 505.47L824.74 501.18L824.88 503.47L825.02 507.12L825.16 496.52L825.30 505.87L825.44 505.84L825.58 500.58L825.72 506.76L825.87 506.63L826.01 503.18L826.15 503.92L826.29 500.75L826.43 501.89L826.57 507.25L826.71 501.21L826.85 503.15L826.99 501.58L827.13 500.48L827.27 496.89L827.42 498.08L827.56 505.85L827.70 504.20L827.84 499.83L827.98 498.14L828.12 500.97L828.26 506.53L828.40 499.67L828.54 504.55L828.68 497.99L828.83 500.98L828.97 504.13L829.11 508.11L829.25 502.52L829.39 498.90L829.53 501.98L829.67 499.42L829.81 501.75L829.95 506.85L830.09 505.92L830.24 504.71L830.38 502.27L830.52 499.61L830.66 501.94L830.80 498.97L830.94 498.78L831.08 499.66L831.22 499.74L831.36 507.29L831.50 497.79L831.64 502.80L831.79 498.18L831.93 498.74L832.07 502.51L832.21 504.61L832.35 498.58L832.49 502.59L832.63 506.19L832.77 504.64L832.91 502.26L833.05 497.26L833.20 506.69L833.34 505.41L833.48 506.22L833.62 498.73L833.76 500.96L833.90 503.59L834.04 498.01L834.18 503.40L834.32 498.45L834.46 503.62L834.61 499.79L834.75 505.71L834.89 498.11L835.03 507.39L835.17 507.76L835.31 504.33L835.45 506.96L835.59 503.53L835.73 500.10L835.87 501.54L836.02 498.62L836.16 502.41L836.30 504.73L836.44 501.84L836.58 503.76L836.72 498.49L836.86 500.95L837.00 504.40L837.14 500.21L837.28 505.28L837.42 503.14L837.57 505.86L837.71 504.84L837.85 505.18L837.99 503.54L838.13 501.81L838.27 502.38L838.41 502.11L838.55 505.04L838.69 504.75L838.83 501.92L838.98 503.12L839.12 500.40L839.26 502.84L839.40 501.83L839.54 506.06L839.68 504.93L839.82 500.97L839.96 498.04L840.10 499.19L840.24 507.58L840.39 505.99L840.53 503.82L840.67 505.01L840.81 501.32L840.95 503.80L841.09 507.43L841.23 503.75L841.37 504.65L841.51 500.18L841.65 499.17L841.79 506.50L841.94 503.00L842.08 505.75L842.22 505.36L842.36 505.54L842.50 497.11L842.64 501.02L842.78 506.79L842.92 501.00L843.06 500.58L843.20 505.40L843.35 503.75L843.49 505.50L843.63 500.42L843.77 506.91L843.91 499.01L844.05 506.55L844.19 507.21L844.33 507.54L844.47 497.50L844.61 506.03L844.76 499.79L844.90 501.53L845.04 506.01L845.18 504.47L845.32 498.76L845.46 506.13L845.60 499.31L845.74 507.35L845.88 508.26L846.02 499.24L846.16 500.44L846.31 500.21L846.45 501.17L846.59 503.69L846.73 499.07L846.87 506.27L847.01 498.07L847.15 504.26L847.29 506.93L847.43 503.27L847.57 501.00L847.72 499.25L847.86 504.81L848.00 503.86L848.14 506.24L848.28 503.54L848.42 505.69L848.56 501.57L848.70 500.66L848.84 505.93L848.98 504.67L849.13 507.53L849.27 505.93L849.41 497.28L849.55 505.27L849.69 499.05L849.83 496.63L849.97 501.30L850.11 501.84L850.25 507.70L850.39 499.30L850.53 500.43L850.68 507.88L850.82 502.88L850.96 498.30L851.10 503.86L851.24 504.05L851.38 506.35L851.52 504.95L851.66 501.98L851.80 508.18L851.94 498.85L852.09 506.92L852.23 503.43L852.37 499.88L852.51 508.10L852.65 507.55L852.79 505.84L852.93 500.28L853.07 500.41L853.21 504.66L853.35 503.21L853.50 500.58L853.64 499.99L853.78 503.11L853.92 500.17L854.06 504.20L854.20 504.20L854.34 502.62L854.48 508.57L854.62 501.45L854.76 505.33L854.90 506.64L855.05 506.98L855.19 500.15L855.33 501.24L855.47 504.12L855.61 500.48L855.75 503.74L855.89 503.71L856.03 505.34L856.17 501.22L856.31 504.36L856.46 506.34L856.60 508.07L856.74 502.35L856.88 500.82L857.02 503.31L857.16 507.75L857.30 501.92L857.44 499.55L857.58 503.46L857.72 503.34L857.87 500.17L858.01 504.28L858.15 507.65L858.29 501.20L858.43 498.29L858.57 501.85L858.71 499.69L858.85 503.68L858.99 504.21L859.13 503.10L859.27 505.57L859.42 507.33L859.56 506.96L859.70 503.69L859.84 503.75L859.98 505.92L860.12 501.50L860.26 504.13L860.40 505.43L860.54 506.74L860.68 500.18L860.83 501.93L860.97 502.43L861.11 503.94L861.25 508.02L861.39 501.04L861.53 498.12L861.67 500.83L861.81 503.93L861.95 502.60L862.09 499.84L862.24 507.38L862.38 505.71L862.52 507.23L862.66 502.23L862.80 501.13L862.94 506.05L863.08 503.84L863.22 507.16L863.36 497.96L863.50 497.15L863.64 499.51L863.79 504.24L863.93 504.71L864.07 503.40L864.21 506.31L864.35 505.19L864.49 499.57L864.63 501.00L864.77 504.51" stroke="#1f77b4" stroke-dasharray="7.708 3.333" stroke-linecap="butt"/>
<path d="M160.23 92.95L160.34 98.96L160.46 107.27L160.58 99.46L160.70 110.53L160.81 117.35L160.93 129.18L161.05 92.95L161.17 116.91L161.28 124.18L161.40 128.06L161.52 114.12L161.64 123.00L161.75 140.28L161.87 127.87L161.99 144.82L162.11 115.93L162.22 121.55L162.34 129.41L162.46 120.96L162.58 137.24L162.69 122.41L162.81 136.81L162.93 121.40L163.05 128.62L163.16 139.97L163.28 144.47L163.40 131.82L163.52 128.44L163.63 148.89L163.75 135.87L163.87 151.80L163.98 164.03L164.10 159.81L164.22 137.07L164.34 172.84L164.45 174.18L164.57 154.26L164.69 158.96L164.81 150.02L164.92 175.99L165.04 185.58L165.16 204.66L165.28 206.64L165.39 243.77L165.51 232.53L165.63 223.59L165.75 255.08L165.86 231.50L165.98 231.86L166.10 234.67L166.22 269.33L166.33 259.04L166.45 251.87L166.57 296.55L166.69 269.52L166.80 303.87L166.92 303.70L167.04 314.61L167.16 313.94L167.27 345.53L167.39 352.23L167.51 362.24L167.63 346.37L167.74 354.77L167.86 367.17L167.98 363.18L168.09 358.91L168.21 365.69L168.33 375.84L168.45 338.99L168.56 374.47L168.68 397.59L168.80 390.60L168.92 399.57L169.03 380.28L169.15 404.01L169.27 396.68L169.39 395.73L169.50 392.91L169.62 395.74L169.74 399.98L169.86 444.45L169.97 408.88L170.09 435.88L170.21 419.56L170.33 418.71L170.44 416.76L170.56 410.66L170.68 412.44L170.80 452.19L170.91 408.34L171.03 443.70L171.15 412.35L171.27 413.69L171.38 442.55L171.50 442.29L171.62 443.32L171.73 439.61L171.85 449.58L171.97 427.02L172.09 431.11L172.20 441.59L172.32 437.19L172.44 424.78L172.56 445.07L172.67 447.31L172.79 437.44L172.91 442.94L173.03 448.12L173.14 424.36L173.26 437.30L173.38 435.51L173.50 441.70L173.61 434.06L173.73 434.49L173.85 446.08L173.97 458.23L174.08 436.74L174.20 457.37L174.32 453.24L174.44 453.96L174.55 456.47L174.67 445.29L174.79 455.95L174.91 439.34L175.02 444.48L175.14 452.08L175.26 455.23L175.38 442.63L175.49 440.10L175.61 454.28L175.73 454.02L175.84 456.72L175.96 452.81L176.08 452.45L176.20 460.09L176.31 454.95L176.43 455.26L176.55 460.42L176.67 458.98L176.78 457.66L176.90 454.83L177.02 461.81L177.14 456.26L177.25 463.87L177.37 451.56L177.49 457.08L177.61 459.13L177.72 466.05L177.84 455.98L177.96 463.43L178.08 463.11L178.19 463.67L178.31 462.61L178.43 467.64L178.55 459.57L178.66 460.53L178.78 458.06L178.90 456.13L179.02 458.84L179.13 469.60L179.25 469.13L179.37 457.75L179.48 465.67L179.60 464.00L179.72 466.77L179.84 467.35L179.95 461.92L180.07 472.58L180.19 465.19L180.31 467.93L180.42 468.43L180.54 461.57L180.66 459.77L180.78 466.71L180.89 471.64L181.01 472.42L181.13 471.94L181.25 462.96L181.36 474.47L181.48 473.48L181.60 475.17L181.72 469.52L181.83 476.34L181.95 462.41L182.07 462.57L182.19 462.82L182.30 466.88L182.42 466.89L182.54 465.88L182.66 472.22L182.77 463.42L182.89 473.91L183.01 466.45L183.13 474.89L183.24 464.80L183.36 469.75L183.48 479.93L183.59 473.38L183.71 477.62L183.83 475.90L183.95 475.13L184.06 468.71L184.18 475.25L184.30 466.98L184.42 479.75L184.53 481.98L184.65 479.94L184.77 468.09L184.89 473.02L185.00 471.99L185.12 469.69L185.24 477.96L185.36 480.63L185.47 471.63L185.59 482.39L185.71 481.60L185.83 471.29L185.94 481.28L186.06 483.31L186.18 473.38L186.30 478.36L186.41 479.86L186.53 479.53L186.65 471.89L186.77 481.22L186.88 480.06L187.00 484.20L187.12 483.18L187.23 477.05L187.35 482.38L187.47 485.48L187.59 485.56L187.70 474.35L187.82 471.83L187.94 482.27L188.06 475.39L188.17 481.14L188.29 487.62L188.41 478.27L188.53 476.41L188.64 479.45L188.76 483.20L188.88 474.29L189.00 479.36L189.11 475.45L189.23 483.53L189.35 486.73L189.47 479.88L189.58 479.36L189.70 481.80L189.82 477.97L189.94 477.91L190.05 479.36L190.17 482.11L190.29 475.02L190.41 486.22L190.52 482.75L190.64 479.19L190.76 475.68L190.88 486.31L190.99 476.25L191.11 476.59L191.23 476.60L191.34 476.52L191.46 489.15L191.58 479.06L191.70 479.71L191.81 487.70L191.93 484.75L192.05 477.59L192.17 482.14L192.28 488.57L192.40 480.88L192.52 486.79L192.64 476.20L192.75 486.54L192.87 488.28L192.99 488.31L193.11 486.41L193.22 481.73L193.34 476.43L193.46 483.51L193.58 488.47L193.69 478.82L193.81 480.45L193.93 484.32L194.05 488.11L194.16 489.90L194.28 477.83L194.40 478.92L194.52 488.74L194.63 486.36L194.75 487.70L194.87 492.30L194.98 491.10L195.10 490.16L195.22 488.62L195.34 483.23L195.45 487.30L195.57 480.47L195.69 488.04L195.81 489.35L195.92 487.61L196.04 482.32L196.16 483.08L196.28 483.88L196.39 477.61L196.51 492.55L196.63 485.99L196.75 483.26L196.86 485.70L196.98 488.86L197.10 483.86L197.22 490.53L197.33 491.48L197.45 483.72L197.57 480.37L197.69 489.63L197.80 493.21L197.92 480.39L198.04 488.48L198.16 490.52L198.27 492.00L198.39 479.99L198.51 479.92L198.63 492.61L198.74 480.31L198.86 480.93L198.98 487.72L199.09 485.56L199.21 489.67L199.33 481.06L199.45 491.57L199.56 482.24L199.68 489.91L199.80 480.05L199.92 485.24L200.03 479.01L200.15 483.63L200.27 483.54L200.39 488.96L200.50 485.43L200.62 480.39L200.74 493.24L200.86 492.11L200.97 492.90L201.09 483.08L201.21 485.10L201.33 482.56L201.44 481.80L201.56 479.64L201.68 486.32L201.80 481.47L201.91 481.73L202.03 492.06L202.15 486.34L202.27 482.65L202.38 489.05L202.50 483.57L202.62 487.26L202.73 483.27L202.85 486.78L202.97 488.54L203.09 488.26L203.20 485.90L203.32 491.21L203.44 491.72L203.56 483.11L203.67 482.70L203.79 482.25L203.91 494.48L204.03 492.59L204.14 483.28L204.26 493.37L204.38 483.07L204.50 487.40L204.61 487.47L204.73 492.78L204.85 481.39L204.97 485.12L205.08 488.99L205.20 481.57L205.32 483.81L205.44 487.45L205.55 492.31L205.67 490.61L205.79 491.89L205.91 490.81L206.02 490.31L206.14 492.08L206.26 490.20L206.38 491.01L206.49 484.88L206.61 483.05L206.73 491.59L206.84 483.26L206.96 492.62L207.08 488.39L207.20 485.66L207.31 493.22L207.43 482.85L207.55 487.78L207.67 482.36L207.78 494.26L207.90 489.04L208.02 491.89L208.14 484.82L208.25 491.86L208.37 490.92L208.49 490.01L208.61 494.27L208.72 487.36L208.84 487.37L208.96 490.84L209.08 492.33L209.19 486.66L209.31 490.61L209.43 484.94L209.55 488.66L209.66 491.45L209.78 482.85L209.90 491.08L210.02 482.56L210.13 494.50L210.25 488.59L210.37 487.64L210.48 491.03L210.60 489.29L210.72 491.40L210.84 483.20L210.95 489.58L211.07 489.53L211.19 494.68L211.31 484.02L211.42 488.46L211.54 491.11L211.66 489.55L211.78 483.74L211.89 490.06L212.01 485.43L212.13 485.75L212.25 494.13L212.36 485.55L212.48 488.39L212.60 493.06L212.72 491.89L212.83 489.82L212.95 493.29L213.07 489.26L213.19 493.56L213.30 494.08L213.42 491.46L213.54 491.26L213.66 489.02L213.77 491.23L213.89 488.21L214.01 492.83L214.13 487.78L214.24 489.16L214.36 492.82L214.48 489.96L214.59 487.53L214.71 494.48L214.83 488.55L214.95 494.37L215.06 495.43L215.18 489.44L215.30 492.48L215.42 484.43L215.53 489.69L215.65 494.93L215.77 491.58L215.89 491.09L216.00 492.47L216.12 492.92L216.24 490.68L216.36 489.16L216.47 486.44L216.59 487.97L216.71 488.61L216.83 490.73L216.94 497.26L217.06 489.10L217.18 490.42L217.30 489.79L217.41 491.59L217.53 496.39L217.65 495.91L217.77 489.58L217.88 487.46L218.00 496.04L218.12 490.47L218.23 493.73L218.35 486.12L218.47 494.99L218.59 489.06L218.70 491.25L218.82 487.28L218.94 490.63L219.06 496.13L219.17 495.62L219.29 490.66L219.41 494.24L219.53 490.48L219.64 489.50L219.76 492.42L219.88 487.85L220.00 489.20L220.11 494.39L220.23 494.91L220.35 486.03L220.47 494.17L220.58 495.32L220.70 490.92L220.82 485.75L220.94 494.49L221.05 488.52L221.17 493.25L221.29 490.48L221.41 493.03L221.52 489.06L221.64 491.45L221.76 492.69L221.88 493.18L221.99 487.93L222.11 497.22L222.23 488.73L222.34 489.47L222.46 488.41L222.58 486.56L222.70 490.66L222.81 495.59L222.93 493.57L223.05 488.24L223.17 487.40L223.28 489.68L223.40 495.01L223.52 492.38L223.64 497.04L223.75 494.03L223.87 493.36L223.99 495.16L224.11 495.11L224.22 490.29L224.34 488.60L224.46 491.07L224.58 491.39L224.69 487.73L224.81 491.02L224.93 493.52L225.05 487.78L225.16 487.59L225.28 488.19L225.40 489.36L225.52 497.95L225.63 486.28L225.75 487.82L225.87 488.07L225.98 491.70L226.10 486.08L226.22 491.74L226.34 487.82L226.45 488.97L226.57 496.21L226.69 488.95L226.81 493.53L226.92 491.46L227.04 489.41L227.16 495.92L227.28 487.78L227.39 497.38L227.51 496.96L227.63 494.23L227.75 486.70L227.86 493.91L227.98 493.84L228.10 495.27L228.22 488.44L228.33 498.23L228.45 497.36L228.57 488.13L228.69 490.15L228.80 486.41L228.92 496.85L229.04 497.46L229.16 498.38L229.27 493.50L229.39 494.61L229.51 493.81L229.63 493.50L229.74 497.32L229.86 494.11L229.98 489.93L230.09 492.90L230.21 487.48L230.33 495.17L230.45 494.50L230.56 492.26L230.68 496.71L230.80 495.31L230.92 491.03L231.03 486.43L231.15 487.59L231.27 488.30L231.39 489.99L231.50 491.29L231.62 498.17L231.74 490.32L231.86 497.53L231.97 494.75L232.09 496.47L232.21 491.70L232.33 486.42L232.44 496.45L232.56 490.00L232.68 488.42L232.80 495.68L232.91 494.73L233.03 489.77L233.15 490.07L233.27 498.67L233.38 489.23L233.50 495.27L233.62 488.28L233.73 496.13L233.85 488.00L233.97 493.43L234.09 487.44L234.20 493.34L234.32 497.25L234.44 488.30L234.56 489.83L234.67 496.28L234.79 494.65L234.91 490.47L235.03 495.02L235.14 492.43L235.26 497.81L235.38 490.84L235.50 496.26L235.61 494.60L235.73 495.75L235.85 491.66L235.97 495.89L236.08 496.00L236.20 491.72L236.32 487.51L236.44 499.33L236.55 495.85L236.67 489.75L236.79 496.53L236.91 490.54L237.02 490.93L237.14 497.83L237.26 492.55L237.38 490.28L237.49 490.38L237.61 488.07L237.73 490.27L237.84 490.86L237.96 489.91L238.08 488.35L238.20 492.67L238.31 489.37L238.43 496.04L238.55 498.35L238.67 490.36L238.78 494.57L238.90 493.19L239.02 488.48L239.14 489.16L239.25 497.45L239.37 492.97L239.49 497.55L239.61 488.53L239.72 494.65L239.84 497.49L239.96 497.66L240.08 487.59L240.19 494.22L240.31 492.12L240.43 496.63L240.55 488.50L240.66 491.01L240.78 496.71L240.90 492.87L241.02 493.05L241.13 499.66L241.25 491.84L241.37 487.86L241.48 492.36L241.60 489.24L241.72 488.52L241.84 494.54L241.95 499.00L242.07 494.46L242.19 495.07L242.31 491.06L242.42 494.53L242.54 496.84L242.66 495.05L242.78 497.11L242.89 494.14L243.01 490.63L243.13 494.95L243.25 494.03L243.36 489.65L243.48 495.02L243.60 497.25L243.72 489.86L243.83 494.03L243.95 496.08L244.07 492.49L244.19 491.62L244.30 492.42L244.42 494.53L244.54 496.23L244.66 494.66L244.77 489.24L244.89 497.29L245.01 499.64L245.13 489.22L245.24 491.47L245.36 489.61L245.48 498.40L245.59 498.54L245.71 488.21L245.83 492.19L245.95 490.81L246.06 494.23L246.18 499.60L246.30 488.94L246.42 490.52L246.53 493.80L246.65 496.20L246.77 497.19L246.89 493.42L247.00 490.25L247.12 491.84L247.24 500.35L247.36 497.01L247.47 490.22L247.59 498.32L247.71 491.64L247.83 497.61L247.94 488.77L248.06 498.43L248.18 490.07L248.30 493.71L248.41 496.52L248.53 494.77L248.65 490.26L248.77 490.40L248.88 492.36L249.00 489.43L249.12 490.81L249.23 489.76L249.35 494.12L249.47 493.04L249.59 495.63L249.70 491.75L249.82 488.65L249.94 492.94L250.06 497.46L250.17 492.28L250.29 493.00L250.41 497.42L250.53 493.22L250.64 499.75L250.76 499.91L250.88 492.17L251.00 496.69L251.11 492.10L251.23 490.42L251.35 493.49L251.47 495.31L251.58 499.89L251.70 490.42L251.82 497.20L251.94 494.52L252.05 490.24L252.17 500.13L252.29 497.22L252.41 490.33L252.52 499.37L252.64 490.32L252.76 489.30L252.88 493.22L252.99 500.03L253.11 489.06L253.23 499.60L253.34 496.52L253.46 489.96L253.58 495.00L253.70 494.00L253.81 495.65L253.93 498.23L254.05 497.20L254.17 500.58L254.28 491.10L254.40 498.53L254.52 493.77L254.64 498.33L254.75 498.72L254.87 500.99L254.99 492.42L255.11 494.26L255.22 499.79L255.34 499.71L255.46 493.61L255.58 500.14L255.69 493.98L255.81 494.17L255.93 497.23L256.05 494.46L256.16 494.18L256.28 494.08L256.40 494.21L256.52 490.61L256.63 490.11L256.75 500.29L256.87 496.41L256.98 497.19L257.10 498.45L257.22 491.87L257.34 491.82L257.45 492.79L257.57 493.21L257.69 498.09L257.81 493.71L257.92 493.66L258.04 496.81L258.16 491.81L258.28 490.36L258.39 497.29L258.51 497.45L258.63 492.47L258.75 496.96L258.86 490.41L258.98 494.12L259.10 495.78L259.22 492.54L259.33 494.00L259.45 496.53L259.57 496.69L259.69 491.41L259.80 497.29L259.92 490.30L260.04 500.64L260.16 492.82L260.27 492.82L260.39 491.94L260.51 501.11L260.63 493.10L260.74 496.49L260.86 500.98L260.98 500.48L261.09 490.57L261.21 496.28L261.33 497.11L261.45 497.69L261.56 493.87L261.68 493.35L261.80 489.58L261.92 490.35L262.03 496.35L262.15 490.78L262.27 492.53L262.39 494.01L262.50 491.04L262.62 490.29L262.74 499.96L262.86 495.54L262.97 492.17L263.09 498.26L263.21 490.34L263.33 492.70L263.44 501.49L263.56 500.39L263.68 497.23L263.80 491.03L263.91 493.36L264.03 490.03L264.15 492.81L264.27 490.31L264.38 491.44L264.50 497.45L264.62 491.22L264.73 492.19L264.85 500.08L264.97 493.81L265.09 494.29L265.20 491.01L265.32 499.36L265.44 498.00L265.56 496.40L265.67 496.62L265.79 491.00L265.91 492.87L266.03 496.40L266.14 501.24L266.26 499.15L266.38 497.08L266.50 495.99L266.61 490.57L266.73 499.72L266.85 491.41L266.97 492.15L267.08 497.93L267.20 499.74L267.32 498.65L267.44 495.32L267.55 492.43L267.67 490.96L267.79 500.33L267.91 501.22L268.02 492.92L268.14 500.20L268.26 495.09L268.38 494.20L268.49 496.07L268.61 490.79L268.73 495.32L268.84 493.05L268.96 498.27L269.08 495.99L269.20 500.63L269.31 500.28L269.43 494.20L269.55 494.01L269.67 500.92L269.78 496.59L269.90 491.64L270.02 491.65L270.14 501.08L270.25 496.67L270.37 491.45L270.49 496.91L270.61 496.90L270.72 495.31L270.84 501.22L270.96 501.04L271.08 491.53L271.19 492.82L271.31 495.23L271.43 500.47L271.55 497.82L271.66 498.70L271.78 496.99L271.90 493.20L272.02 500.02L272.13 491.00L272.25 499.55L272.37 493.21L272.48 495.75L272.60 501.63L272.72 497.29L272.84 491.85L272.95 495.61L273.07 498.01L273.19 491.47L273.31 493.45L273.42 491.17L273.54 497.07L273.66 495.08L273.78 497.16L273.89 494.51L274.01 498.11L274.13 493.07L274.25 501.47L274.36 500.96L274.48 496.63L274.60 497.18L274.72 500.84L274.83 494.09L274.95 499.95L275.07 494.31L275.19 499.99L275.30 494.68L275.42 497.70L275.54 501.14L275.66 491.47L275.77 498.86L275.89 497.10L276.01 495.63L276.13 495.01L276.24 490.37L276.36 494.46L276.48 498.33L276.59 491.93L276.71 499.12L276.83 502.01L276.95 502.20L277.06 500.96L277.18 500.08L277.30 493.24L277.42 501.98L277.53 494.03L277.65 500.58L277.77 501.16L277.89 498.02L278.00 497.33L278.12 493.69L278.24 497.42L278.36 495.38L278.47 493.07L278.59 492.85L278.71 499.98L278.83 501.63L278.94 493.03L279.06 492.20L279.18 494.61L279.30 493.47L279.41 493.55L279.53 497.56L279.65 495.95L279.77 496.43L279.88 493.69L280.00 499.02L280.12 494.15L280.23 495.78L280.35 496.64L280.47 500.69L280.59 494.23L280.70 498.87L280.82 495.10L280.94 501.16L281.06 496.28L281.17 496.90L281.29 500.52L281.41 498.77L281.53 492.99L281.64 493.43L281.76 502.35L281.88 492.72L282.00 495.01L282.11 501.90L282.23 491.89L282.35 493.51L282.47 494.62L282.58 493.08L282.70 496.06L282.82 498.63L282.94 494.70L283.05 493.09L283.17 500.84L283.29 500.49L283.41 498.14L283.52 493.87L283.64 497.86L283.76 498.23L283.88 496.73L283.99 500.85L284.11 495.39L284.23 497.37L284.34 493.59L284.46 498.07L284.58 500.13L284.70 500.37L284.81 495.00L284.93 502.78L285.05 499.79L285.17 497.21L285.28 496.44L285.40 500.71L285.52 494.76L285.64 498.76L285.75 500.07L285.87 497.18L285.99 501.41L286.11 497.43L286.22 496.86L286.34 494.70L286.46 501.81L286.58 495.54L286.69 499.59L286.81 496.72L286.93 502.27L287.05 502.65L287.16 492.94L287.28 502.07L287.40 498.88L287.52 493.40L287.63 497.62L287.75 493.59L287.87 498.20L287.98 494.31L288.10 496.45L288.22 495.11L288.34 499.01L288.45 500.93L288.57 502.66L288.69 496.18L288.81 498.51L288.92 492.77L289.04 496.00L289.16 502.32L289.28 493.97L289.39 501.78L289.51 499.41L289.63 495.90L289.75 500.77L289.86 495.45L289.98 501.83L290.10 493.50L290.22 493.52L290.33 499.76L290.45 497.56L290.57 494.76L290.69 498.43L290.80 495.48L290.92 498.83L291.04 500.80L291.16 501.13L291.27 493.60L291.39 499.36L291.51 502.71L291.63 497.87L291.74 500.34L291.86 493.75L291.98 501.90L292.09 498.65L292.21 501.80L292.33 500.79L292.45 501.22L292.56 494.04L292.68 500.02L292.80 494.81L292.92 495.46L293.03 496.23L293.15 498.53L293.27 499.52L293.39 502.12L293.50 493.43L293.62 494.65L293.74 496.27L293.86 500.81L293.97 498.57L294.09 497.67L294.21 500.87L294.33 499.43L294.44 496.27L294.56 493.84L294.68 497.95L294.80 501.43L294.91 498.64L295.03 493.88L295.15 497.29L295.27 497.30L295.38 498.64L295.50 499.11L295.62 502.23L295.73 495.91L295.85 497.70L295.97 499.15L296.09 502.22L296.20 500.19L296.32 497.25L296.44 501.34L296.56 498.37L296.67 503.11L296.79 496.60L296.91 494.66L297.03 501.34L297.14 496.22L297.26 501.15L297.38 499.50L297.50 498.52L297.61 494.30L297.73 500.71L297.85 494.22L297.97 502.53L298.08 502.30L298.20 496.10L298.32 494.45L298.44 501.85L298.55 497.69L298.67 494.31L298.79 496.57L298.91 494.96L299.02 498.06L299.14 499.75L299.26 502.37L299.38 500.87L299.49 495.09L299.61 498.07L299.73 498.25L299.84 502.49L299.96 494.30L300.08 497.76L300.20 502.22L300.31 497.04L300.43 495.83L300.55 498.76L300.67 496.90L300.78 502.86L300.90 494.37L301.02 495.16L301.14 494.88L301.25 499.91L301.37 496.19L301.49 502.14L301.61 501.90L301.72 503.04L301.84 496.19L301.96 493.97L302.08 497.22L302.19 503.15L302.31 500.89L302.43 494.14L302.55 500.47L302.66 502.57L302.78 503.12L302.90 500.44L303.02 501.41L303.13 501.62L303.25 496.16L303.37 494.51L303.48 500.36L303.60 495.27L303.72 496.42L303.84 503.93L303.95 498.94L304.07 498.14L304.19 502.94L304.31 496.59L304.42 503.45L304.54 503.22L304.66 496.92L304.78 496.96L304.89 494.99L305.01 502.28L305.13 495.62L305.25 494.26L305.36 502.00L305.48 499.65L305.60 500.55L305.72 501.03L305.83 493.62L305.95 494.75L306.07 498.44L306.19 494.69L306.30 498.58L306.42 501.54L306.54 499.68L306.66 499.90L306.77 493.95L306.89 496.70L307.01 502.98L307.13 494.69L307.24 499.21L307.36 494.30L307.48 502.29L307.59 495.13L307.71 497.82L307.83 499.28L307.95 500.63L308.06 502.97L308.18 501.05L308.30 497.31L308.42 494.19L308.53 500.72L308.65 503.41L308.77 493.54L308.89 501.87L309.00 496.10L309.12 498.38L309.24 499.66L309.36 499.54L309.47 503.10L309.59 500.31L309.71 497.45L309.83 501.44L309.94 498.44L310.06 497.90L310.18 497.59L310.30 499.25L310.41 496.72L310.53 496.16L310.65 495.49L310.77 498.64L310.88 496.73L311.00 502.51L311.12 502.24L311.23 497.24L311.35 500.12L311.47 503.36L311.59 497.38L311.70 499.82L311.82 498.48L311.94 500.33L312.06 503.26L312.17 495.65L312.29 503.52L312.41 500.57L312.53 501.92L312.64 499.86L312.76 502.19L312.88 496.85L313.00 500.75L313.11 496.54L313.23 498.84L313.35 500.81L313.47 495.69L313.58 494.60L313.70 501.99L313.82 502.45L313.94 500.52L314.05 497.62L314.17 500.91L314.29 494.58L314.41 500.57L314.52 499.30L314.64 499.93L314.76 498.57L314.88 495.87L314.99 501.30L315.11 498.56L315.23 501.23L315.34 497.85L315.46 494.73L315.58 498.80L315.70 500.17L315.81 502.78L315.93 502.64L316.05 494.36L316.17 501.28L316.28 496.36L316.40 500.46L316.52 497.57L316.64 497.04L316.75 498.92L316.87 500.41L316.99 500.68L317.11 499.81L317.22 500.95L317.34 497.50L317.46 500.44L317.58 497.45L317.69 500.10L317.81 498.69L317.93 499.75L318.05 494.39L318.16 499.44L318.28 496.67L318.40 497.80L318.52 494.92L318.63 500.13L318.75 503.10L318.87 497.63L318.98 495.96L319.10 500.03L319.22 496.05L319.34 502.56L319.45 494.92L319.57 497.50L319.69 499.19L319.81 495.81L319.92 497.09L320.04 497.31L320.16 501.01L320.28 503.64L320.39 497.73L320.51 502.51L320.63 495.77L320.75 500.04L320.86 498.00L320.98 497.20L321.10 502.36L321.22 502.11L321.33 495.37L321.45 496.95L321.57 501.95L321.69 503.70L321.80 500.50L321.92 502.50L322.04 504.30L322.16 501.53L322.27 500.29L322.39 496.32L322.51 497.51L322.63 499.92L322.74 503.72L322.86 497.64L322.98 497.90L323.09 494.50L323.21 501.69L323.33 498.46L323.45 502.19L323.56 496.88L323.68 500.73L323.80 500.87L323.92 496.86L324.03 496.33L324.15 497.81L324.27 501.65L324.39 495.16L324.50 494.90L324.62 499.09L324.74 496.43L324.86 501.29L324.97 501.69L325.09 503.62L325.21 502.77L325.33 500.59L325.44 495.82L325.56 502.37L325.68 501.83L325.80 501.69L325.91 500.73L326.03 502.67L326.15 497.34L326.27 500.95L326.38 499.54L326.50 497.99L326.62 497.66L326.73 495.73L326.85 499.25L326.97 498.16L327.09 499.03L327.20 502.34L327.32 501.08L327.44 500.82L327.56 504.13L327.67 496.50L327.79 498.42L327.91 495.82L328.03 498.15L328.14 503.36L328.26 494.92L328.38 501.53L328.50 502.49L328.61 499.46L328.73 502.34L328.85 498.84L328.97 498.15L329.08 499.21L329.20 496.72L329.32 497.56L329.44 497.74L329.55 504.35L329.67 497.75L329.79 497.28L329.91 503.96L330.02 495.86L330.14 504.55L330.26 503.44L330.38 500.37L330.49 498.02L330.61 496.37L330.73 495.87L330.84 496.01L330.96 498.28L331.08 498.61L331.20 503.91L331.31 500.10L331.43 504.08L331.55 501.70L331.67 496.49L331.78 499.82L331.90 496.05L332.02 494.83L332.14 504.30L332.25 498.22L332.37 496.86L332.49 495.60L332.61 501.01L332.72 499.60L332.84 494.78L332.96 502.03L333.08 497.23L333.19 502.26L333.31 499.66L333.43 500.21L333.55 499.77L333.66 501.16L333.78 504.87L333.90 502.19L334.02 495.17L334.13 498.79L334.25 497.34L334.37 496.30L334.48 496.28L334.60 497.09L334.72 503.94L334.84 501.44L334.95 503.04L335.07 501.64L335.19 497.69L335.31 498.24L335.42 499.12L335.54 497.86L335.66 498.41L335.78 502.22L335.89 495.77L336.01 496.56L336.13 499.57L336.25 501.94L336.36 500.63L336.48 502.28L336.60 495.78L336.72 496.82L336.83 497.79L336.95 497.20L337.07 501.56L337.19 505.24L337.30 500.99L337.42 495.12L337.54 498.24L337.66 502.72L337.77 503.84L337.89 499.93L338.01 498.05L338.13 497.87L338.24 500.39L338.36 503.34L338.48 498.48L338.59 496.50L338.71 494.74L338.83 496.40L338.95 503.41L339.06 500.58L339.18 504.86L339.30 495.94L339.42 498.47L339.53 502.21L339.65 501.50L339.77 495.84L339.89 499.42L340.00 500.88L340.12 502.11L340.24 499.19L340.36 496.96L340.47 504.21L340.59 499.49L340.71 502.37L340.83 499.89L340.94 496.05L341.06 497.17L341.18 495.59L341.30 496.59L341.41 496.99L341.53 498.30L341.65 498.01L341.77 498.84L341.88 503.15L342.00 494.67L342.12 495.63L342.23 502.64L342.35 500.80L342.47 499.10L342.59 497.60L342.70 500.16L342.82 497.27L342.94 502.97L343.06 503.04L343.17 498.30L343.29 495.64L343.41 503.27L343.53 497.37L343.64 502.03L343.76 503.57L343.88 502.96L344.00 502.51L344.11 500.23L344.23 503.82L344.35 499.92L344.47 497.79L344.58 499.98L344.70 499.34L344.82 502.21L344.94 502.93L345.05 496.83L345.17 496.76L345.29 498.04L345.41 498.22L345.52 504.40L345.64 503.82L345.76 504.52L345.88 502.20L345.99 502.00L346.11 497.89L346.23 499.44L346.34 495.75L346.46 502.73L346.58 497.32L346.70 495.91L346.81 498.26L346.93 497.77L347.05 501.83L347.17 495.67L347.28 497.43L347.40 504.11L347.52 503.34L347.64 501.54L347.75 500.33L347.87 497.11L347.99 503.23L348.11 501.80L348.22 499.95L348.34 496.24L348.46 497.08L348.58 498.86L348.69 498.41L348.81 495.90L348.93 498.94L349.05 499.47L349.16 498.34L349.28 498.82L349.40 498.38L349.52 497.95L349.63 500.75L349.75 500.35L349.87 496.79L349.98 502.46L350.10 500.46L350.22 499.17L350.34 502.39L350.45 502.39L350.57 503.14L350.69 502.28L350.81 502.09L350.92 501.50L351.04 496.29L351.16 502.20L351.28 497.23L351.39 497.87L351.51 496.36L351.63 498.94L351.75 495.05L351.86 501.31L351.98 502.51L352.10 502.34L352.22 496.69L352.33 501.48L352.45 503.48L352.57 495.67L352.69 497.30L352.80 497.95L352.92 499.97L353.04 497.03L353.16 500.54L353.27 498.24L353.39 500.94L353.51 500.38L353.63 502.18L353.74 497.30L353.86 501.50L353.98 502.13L354.09 502.32L354.21 496.22L354.33 504.24L354.45 500.40L354.56 497.87L354.68 499.68L354.80 500.23L354.92 500.60L355.03 497.49L355.15 498.13L355.27 499.35L355.39 502.44L355.50 499.19L355.62 495.89L355.74 500.72L355.86 497.41L355.97 495.41L356.09 505.14L356.21 498.08L356.33 499.90L356.44 498.41L356.56 496.29L356.68 503.37L356.80 503.80L356.91 497.39L357.03 499.38L357.15 499.33L357.27 496.56L357.38 501.42L357.50 502.71L357.62 502.19L357.73 501.73L357.85 495.44L357.97 497.84L358.09 500.24L358.20 501.94L358.32 499.22L358.44 500.04L358.56 503.77L358.67 495.66L358.79 497.79L358.91 497.96L359.03 504.42L359.14 497.56L359.26 495.79L359.38 499.92L359.50 501.66L359.61 497.09L359.73 503.87L359.85 496.59L359.97 501.90L360.08 496.83L360.20 503.87L360.32 496.90L360.44 502.69L360.55 503.73L360.67 497.99L360.79 496.50L360.91 500.62L361.02 500.56L361.14 499.76L361.26 502.22L361.38 499.87L361.49 500.30L361.61 499.82L361.73 499.17L361.84 498.88L361.96 496.88L362.08 497.34L362.20 498.29L362.31 498.12L362.43 502.85L362.55 496.86L362.67 497.31L362.78 500.06L362.90 498.62L363.02 497.90L363.14 498.66L363.25 499.73L363.37 501.54L363.49 505.15L363.61 503.49L363.72 500.52L363.84 499.52L363.96 499.61L364.08 497.82L364.19 504.47L364.31 496.37L364.43 497.09L364.55 501.76L364.66 502.29L364.78 497.34L364.90 504.44L365.02 498.96L365.13 500.70L365.25 496.51L365.37 503.93L365.48 496.56L365.60 499.82L365.72 504.00L365.84 504.67L365.95 503.70L366.07 503.68L366.19 497.98L366.31 495.38L366.42 500.01L366.54 496.16L366.66 504.59L366.78 495.56L366.89 499.42L367.01 497.18L367.13 495.47L367.25 500.28L367.36 496.12L367.48 503.46L367.60 502.29L367.72 499.33L367.83 504.14L367.95 502.91L368.07 498.16L368.19 503.83L368.30 504.03L368.42 501.42L368.54 498.70L368.66 504.18L368.77 504.37L368.89 499.05L369.01 495.98L369.13 504.64L369.24 502.13L369.36 497.49L369.48 500.59L369.59 498.37L369.71 504.14L369.83 498.48L369.95 497.86L370.06 496.24L370.18 498.40L370.30 505.18L370.42 497.59L370.53 500.16L370.65 504.60L370.77 496.31L370.89 498.36L371.00 504.08L371.12 496.25L371.24 504.88L371.36 503.48L371.47 497.46L371.59 501.13L371.71 500.47L371.83 501.79L371.94 498.23L372.06 499.41L372.18 497.96L372.30 498.36L372.41 497.57L372.53 504.77L372.65 503.69L372.77 499.33L372.88 502.99L373.00 500.01L373.12 498.02L373.23 499.02L373.35 504.87L373.47 498.62L373.59 501.06L373.70 505.17L373.82 498.71L373.94 503.02L374.06 496.03L374.17 502.19L374.29 504.34L374.41 503.30L374.53 504.61L374.64 502.62L374.76 504.82L374.88 498.08L375.00 500.63L375.11 498.11L375.23 496.46L375.35 500.01L375.47 502.49L375.58 503.57L375.70 495.29L375.82 504.21L375.94 497.75L376.05 499.07L376.17 504.09L376.29 503.76L376.41 502.47L376.52 498.95L376.64 500.03L376.76 503.89L376.88 498.83L376.99 502.72L377.11 503.29L377.23 500.51L377.34 503.64L377.46 498.61L377.58 502.62L377.70 501.07L377.81 498.91L377.93 500.28L378.05 501.66L378.17 500.62L378.28 496.69L378.40 505.33L378.52 504.79L378.64 495.59L378.75 504.97L378.87 500.18L378.99 497.29L379.11 503.26L379.22 499.57L379.34 502.58L379.46 503.68L379.58 500.94L379.69 495.56L379.81 503.19L379.93 502.39L380.05 504.47L380.16 498.17L380.28 503.60L380.40 503.93L380.52 499.35L380.63 499.93L380.75 498.94L380.87 495.60L380.98 498.10L381.10 498.96L381.22 496.88L381.34 502.67L381.45 499.88L381.57 501.63L381.69 498.26L381.81 498.33L381.92 502.78L382.04 500.45L382.16 500.64L382.28 500.25L382.39 501.16L382.51 504.17L382.63 498.30L382.75 501.01L382.86 502.37L382.98 496.71L383.10 507.16L383.22 500.49L383.33 498.26L383.45 503.46L383.57 503.67L383.69 501.49L383.80 504.72L383.92 497.22L384.04 500.61L384.16 502.95L384.27 504.61L384.39 502.13L384.51 501.30L384.63 499.38L384.74 501.83L384.86 501.23L384.98 504.14L385.09 503.88L385.21 502.77L385.33 505.08L385.45 495.75L385.56 503.10L385.68 500.47L385.80 502.46L385.92 498.26L386.03 500.33L386.15 503.61L386.27 495.92L386.39 498.59L386.50 499.89L386.62 503.57L386.74 498.89L386.86 503.37L386.97 498.19L387.09 498.59L387.21 501.31L387.33 502.09L387.44 504.29L387.56 504.55L387.68 498.22L387.80 502.27L387.91 501.57L388.03 499.91L388.15 503.53L388.27 504.25L388.38 499.76L388.50 504.26L388.62 497.66L388.73 497.73L388.85 503.48L388.97 498.10L389.09 500.87L389.20 500.29L389.32 496.66L389.44 503.01L389.56 502.47L389.67 497.29L389.79 498.15L389.91 503.23L390.03 504.72L390.14 504.25L390.26 500.60L390.38 499.14L390.50 500.00L390.61 496.77L390.73 499.83L390.85 497.73L390.97 497.35L391.08 500.01L391.20 496.50L391.32 499.93L391.44 502.27L391.55 501.57L391.67 505.11L391.79 504.23L391.91 501.83L392.02 504.48L392.14 500.39L392.26 503.67L392.38 498.10L392.49 501.12L392.61 504.83L392.73 501.66L392.84 500.68L392.96 503.92L393.08 498.75L393.20 503.73L393.31 495.87L393.43 498.37L393.55 497.60L393.67 498.17L393.78 505.16L393.90 496.75L394.02 499.23L394.14 501.83L394.25 502.37L394.37 504.93L394.49 499.54L394.61 497.33L394.72 504.59L394.84 496.49L394.96 496.58L395.08 497.61L395.19 500.59L395.31 505.15L395.43 503.00L395.55 500.94L395.66 500.61L395.78 502.81L395.90 501.82L396.02 499.10L396.13 497.05L396.25 496.90L396.37 503.44L396.48 502.37L396.60 504.11L396.72 496.51L396.84 504.24L396.95 499.85L397.07 505.39L397.19 501.34L397.31 500.86L397.42 503.66L397.54 501.72L397.66 501.64L397.78 496.57L397.89 501.22L398.01 499.08L398.13 496.75L398.25 496.97L398.36 500.54L398.48 498.87L398.60 504.26L398.72 497.36L398.83 495.68L398.95 505.80L399.07 498.89L399.19 500.90L399.30 498.24L399.42 498.17L399.54 499.31L399.66 503.09L399.77 496.37L399.89 504.19L400.01 506.14L400.13 501.49L400.24 499.24L400.36 497.99L400.48 497.43L400.59 498.58L400.71 503.65L400.83 495.77L400.95 503.51L401.06 502.07L401.18 496.12L401.30 496.51L401.42 502.91L401.53 502.25L401.65 499.05L401.77 504.22L401.89 497.06L402.00 500.14L402.12 497.09L402.24 501.95L402.36 496.85L402.47 497.45L402.59 503.36L402.71 500.47L402.83 502.56L402.94 503.14L403.06 501.30L403.18 497.64L403.30 502.93L403.41 495.92L403.53 498.63L403.65 499.90L403.77 496.86L403.88 497.07L404.00 502.36L404.12 503.12L404.23 499.28L404.35 499.68L404.47 497.84L404.59 500.63L404.70 501.22L404.82 504.71L404.94 495.90L405.06 506.81L405.17 505.81L405.29 499.67L405.41 502.74L405.53 503.70L405.64 502.38L405.76 498.66L405.88 501.93L406.00 504.37L406.11 496.54L406.23 501.11L406.35 495.79L406.47 503.64L406.58 503.82L406.70 496.15L406.82 503.61L406.94 502.84L407.05 497.42L407.17 501.01L407.29 502.23L407.41 498.92L407.52 500.98L407.64 505.44L407.76 501.80L407.88 500.55L407.99 496.46L408.11 497.27L408.23 504.45L408.34 503.57L408.46 504.03L408.58 502.18L408.70 501.92L408.81 501.75L408.93 502.91L409.05 499.52L409.17 501.30L409.28 500.07L409.40 502.84L409.52 498.39L409.64 496.73L409.75 497.09L409.87 498.30L409.99 504.28L410.11 502.90L410.22 503.64L410.34 500.71L410.46 496.74L410.58 501.09L410.69 504.90L410.81 501.46L410.93 502.04L411.05 500.25L411.16 497.85L411.28 502.57L411.40 500.88L411.52 499.42L411.63 498.50L411.75 502.73L411.87 499.62L411.98 501.53L412.10 498.56L412.22 503.62L412.34 499.79L412.45 500.18L412.57 504.97L412.69 503.07L412.81 503.91L412.92 499.79L413.04 504.04L413.16 499.64L413.28 505.65L413.39 505.00L413.51 502.39L413.63 504.46L413.75 501.08L413.86 503.49L413.98 497.95L414.10 504.94L414.22 504.03L414.33 497.81L414.45 498.85L414.57 501.92L414.69 503.67L414.80 497.90L414.92 505.64L415.04 499.74L415.16 506.48L415.27 503.97L415.39 501.38L415.51 499.68L415.63 497.18L415.74 497.62L415.86 502.11L415.98 504.20L416.09 504.69L416.21 500.66L416.33 505.87L416.45 499.11L416.56 505.32L416.68 504.59L416.80 497.94L416.92 505.14L417.03 503.44L417.15 503.13L417.27 505.25L417.39 501.83L417.50 501.50L417.62 499.92L417.74 505.01L417.86 506.05L417.97 498.21L418.09 503.37L418.21 499.24L418.33 498.94L418.44 498.83L418.56 501.87L418.68 499.35L418.80 498.38L418.91 497.72L419.03 499.38L419.15 503.82L419.27 496.59L419.38 500.97L419.50 505.15L419.62 497.56L419.73 499.32L419.85 505.33L419.97 506.72L420.09 504.67L420.20 498.09L420.32 503.67L420.44 501.48L420.56 498.32L420.67 501.25L420.79 505.36L420.91 504.76L421.03 500.73L421.14 497.00L421.26 505.13L421.38 505.56L421.50 501.21L421.61 498.66L421.73 501.73L421.85 502.86L421.97 501.11L422.08 500.03L422.20 498.19L422.32 499.75L422.44 497.09L422.55 498.71L422.67 505.78L422.79 496.95L422.91 503.71L423.02 504.32L423.14 500.63L423.26 502.68L423.38 498.41L423.49 502.97L423.61 503.69L423.73 503.83L423.84 501.13L423.96 506.00L424.08 504.86L424.20 502.29L424.31 502.78L424.43 498.89L424.55 505.37L424.67 502.96L424.78 506.24L424.90 498.27L425.02 506.67L425.14 497.84L425.25 502.46L425.37 498.02L425.49 498.69L425.61 504.55L425.72 497.08L425.84 499.79L425.96 498.30L426.08 505.51L426.19 497.97L426.31 500.18L426.43 505.03L426.55 503.43L426.66 503.78L426.78 506.12L426.90 497.39L427.02 502.96L427.13 504.52L427.25 503.99L427.37 503.47L427.48 497.53L427.60 497.43L427.72 504.32L427.84 502.21L427.95 499.31L428.07 497.07L428.19 502.21L428.31 497.70L428.42 504.57L428.54 499.68L428.66 504.66L428.78 497.74L428.89 501.73L429.01 497.87L429.13 504.96L429.25 502.38L429.36 498.95L429.48 507.11L429.60 503.58L429.72 500.20L429.83 505.55L429.95 500.48L430.07 506.02L430.19 500.20L430.30 506.10L430.42 497.51L430.54 505.38L430.66 500.48L430.77 501.12L430.89 503.15L431.01 497.90L431.13 498.73L431.24 497.86L431.36 503.93L431.48 498.53L431.59 500.91L431.71 500.13L431.83 499.70L431.95 506.33L432.06 502.43L432.18 502.45L432.30 503.85L432.42 505.48L432.53 499.38L432.65 497.47L432.77 501.76L432.89 498.80L433.00 497.58L433.12 506.00L433.24 503.62L433.36 501.40L433.47 498.59L433.59 504.37L433.71 502.56L433.83 498.65L433.94 506.97L434.06 506.73L434.18 506.44L434.30 504.72L434.41 502.48L434.53 500.24L434.65 503.79L434.77 498.16L434.88 502.96L435.00 497.86L435.12 497.86L435.23 503.93L435.35 500.86L435.47 504.02L435.59 505.42L435.70 506.27L435.82 502.65L435.94 505.32L436.06 503.71L436.17 506.63L436.29 506.14L436.41 497.63L436.53 499.45L436.64 501.06L436.76 499.70L436.88 499.48L437.00 506.03L437.11 497.10L437.23 498.29L437.35 504.50L437.47 499.59L437.58 499.50L437.70 506.47L437.82 505.09L437.94 501.93L438.05 498.09L438.17 500.08L438.29 506.85L438.41 504.91L438.52 498.25L438.64 504.38L438.76 501.86L438.88 504.39L438.99 499.99L439.11 498.49L439.23 497.85L439.34 500.92L439.46 505.89L439.58 506.17L439.70 504.08L439.81 504.46L439.93 499.33L440.05 500.43L440.17 506.34L440.28 507.08L440.40 501.77L440.52 504.61L440.64 506.33L440.75 506.84L440.87 500.41L440.99 503.66L441.11 501.35L441.22 502.27L441.34 502.36L441.46 499.81L441.58 497.56L441.69 504.48L441.81 504.61L441.93 505.28L442.05 499.44L442.16 499.62L442.28 503.59L442.40 506.33L442.52 501.98L442.63 499.50L442.75 503.27L442.87 506.68L442.98 506.10L443.10 506.58L443.22 501.78L443.34 499.90L443.45 505.27L443.57 505.16L443.69 504.76L443.81 501.55L443.92 500.53L444.04 499.46L444.16 506.13L444.28 506.17L444.39 501.54L444.51 505.71L444.63 500.96L444.75 501.66L444.86 503.11L444.98 499.36L445.10 500.94L445.22 500.03L445.33 500.70L445.45 502.46L445.57 498.46L445.69 504.86L445.80 499.03L445.92 502.03L446.04 504.19L446.16 498.98L446.27 501.25L446.39 503.11L446.51 502.64L446.63 505.28L446.74 505.22L446.86 498.20L446.98 505.42L447.09 502.94L447.21 504.02L447.33 499.10L447.45 502.71L447.56 504.70L447.68 505.83L447.80 505.47L447.92 499.82L448.03 506.26L448.15 502.91L448.27 504.20L448.39 505.89L448.50 501.67L448.62 506.71L448.74 506.18L448.86 505.71L448.97 501.04L449.09 502.92L449.21 498.99L449.33 505.35L449.44 506.58L449.56 499.16L449.68 504.67L449.80 504.35L449.91 498.24L450.03 505.98L450.15 501.96L450.27 500.61L450.38 497.92L450.50 504.77L450.62 500.19L450.73 502.49L450.85 498.98L450.97 503.58L451.09 501.50L451.20 506.08L451.32 503.68L451.44 504.86L451.56 499.72L451.67 497.98L451.79 506.10L451.91 506.41L452.03 504.52L452.14 506.55L452.26 504.25L452.38 504.33L452.50 501.48L452.61 501.02L452.73 502.36L452.85 499.60L452.97 502.04L453.08 503.01L453.20 497.60L453.32 501.35L453.44 500.34L453.55 503.35L453.67 505.09L453.79 503.51L453.91 503.81L454.02 503.74L454.14 500.48L454.26 501.42L454.38 505.95L454.49 506.52L454.61 499.29L454.73 497.99L454.84 507.18L454.96 505.98L455.08 503.77L455.20 505.52L455.31 503.07L455.43 506.55L455.55 499.95L455.67 501.45L455.78 504.49L455.90 499.97L456.02 504.88L456.14 500.13L456.25 505.09L456.37 505.66L456.49 502.18L456.61 507.06L456.72 503.73L456.84 505.48L456.96 497.97L457.08 498.87L457.19 505.12L457.31 507.23L457.43 503.90L457.55 507.20L457.66 497.86L457.78 506.33L457.90 506.03L458.02 504.33L458.13 502.45L458.25 504.40L458.37 500.19L458.48 504.53L458.60 504.64L458.72 503.08L458.84 500.64L458.95 496.66L459.07 499.73L459.19 505.44L459.31 499.81L459.42 498.52L459.54 500.06L459.66 503.04L459.78 503.69L459.89 506.55L460.01 506.19L460.13 507.21L460.25 505.97L460.36 499.93L460.48 498.90L460.60 507.11L460.72 499.99L460.83 503.79L460.95 500.55L461.07 505.58L461.19 500.12L461.30 502.23L461.42 499.63L461.54 506.54L461.66 503.68L461.77 503.66L461.89 500.76L462.01 499.12L462.13 506.19L462.24 505.59L462.36 504.40L462.48 508.92L462.59 503.42L462.71 499.79L462.83 503.92L462.95 500.76L463.06 502.63L463.18 502.57L463.30 503.38L463.42 506.97L463.53 505.75L463.65 501.76L463.77 505.70L463.89 506.33L464.00 505.65L464.12 502.53L464.24 506.08L464.36 502.05L464.47 498.71L464.59 500.26L464.71 504.25L464.83 501.41L464.94 502.38L465.06 501.53L465.18 499.49L465.30 498.50L465.41 498.25L465.53 504.39L465.65 500.83L465.77 501.96L465.88 506.41L466.00 503.96L466.12 505.49L466.23 504.88L466.35 506.96L466.47 498.64L466.59 502.26L466.70 507.55L466.82 502.06L466.94 506.84L467.06 499.02L467.17 497.82L467.29 505.88L467.41 502.15L467.53 502.73L467.64 506.40L467.76 499.79L467.88 507.03L468.00 501.49L468.11 500.77L468.23 499.51L468.35 502.73L468.47 502.47L468.58 506.58L468.70 497.67L468.82 498.40L468.94 498.96L469.05 503.54L469.17 504.89L469.29 502.78L469.41 504.85L469.52 504.42L469.64 498.01L469.76 499.70L469.88 507.79L469.99 501.50L470.11 506.65L470.23 502.97L470.34 499.47L470.46 497.53L470.58 500.07L470.70 500.55L470.81 502.40L470.93 502.70L471.05 503.22L471.17 502.65L471.28 498.79L471.40 500.67L471.52 507.61L471.64 498.68L471.75 504.64L471.87 503.25L471.99 505.13L472.11 501.19L472.22 501.78L472.34 503.02L472.46 506.77L472.58 500.78L472.69 498.65L472.81 498.22L472.93 506.79L473.05 501.13L473.16 499.25L473.28 503.65L473.40 506.50L473.52 502.91L473.63 499.12L473.75 502.18L473.87 500.39L473.98 498.35L474.10 507.77L474.22 502.65L474.34 498.78L474.45 506.40L474.57 507.05L474.69 505.97L474.81 500.76L474.92 499.73L475.04 503.19L475.16 503.52L475.28 507.06L475.39 507.32L475.51 506.80L475.63 501.46L475.75 503.96L475.86 499.41L475.98 502.96L476.10 498.69L476.22 499.23L476.33 499.36L476.45 500.77L476.57 500.78L476.69 504.69L476.80 498.88L476.92 498.92L477.04 503.94L477.16 504.35L477.27 504.66L477.39 505.12L477.51 504.20L477.63 503.18L477.74 505.75L477.86 498.94L477.98 499.74L478.09 505.53L478.21 499.74L478.33 502.84L478.45 500.73L478.56 501.69L478.68 506.00L478.80 504.55L478.92 502.54L479.03 500.47L479.15 505.58L479.27 504.30L479.39 502.65L479.50 505.77L479.62 504.94L479.74 507.54L479.86 504.86L479.97 506.29L480.09 503.70L480.21 504.56L480.33 506.22L480.44 496.65L480.56 501.77L480.68 503.83L480.80 498.72L480.91 505.90L481.03 504.70L481.15 506.64L481.27 501.85L481.38 502.43L481.50 507.14L481.62 502.47L481.73 505.98L481.85 502.03L481.97 501.05L482.09 500.03L482.20 500.10L482.32 502.43L482.44 499.95L482.56 505.99L482.67 508.02L482.79 498.81L482.91 498.57L483.03 497.91L483.14 506.86L483.26 498.67L483.38 504.36L483.50 500.84L483.61 500.06L483.73 500.46L483.85 504.34L483.97 498.40L484.08 506.10L484.20 503.67L484.32 500.35L484.44 499.43L484.55 504.01L484.67 504.43L484.79 500.91L484.91 501.06L485.02 502.38L485.14 506.85L485.26 503.43L485.38 506.04L485.49 504.79L485.61 503.28L485.73 502.62L485.84 504.55L485.96 502.86L486.08 505.54L486.20 500.61L486.31 501.07L486.43 506.41L486.55 502.09L486.67 506.14L486.78 507.38L486.90 503.29L487.02 499.35L487.14 504.63L487.25 504.66L487.37 501.11L487.49 507.21L487.61 502.42L487.72 498.87L487.84 498.97L487.96 499.97L488.08 504.04L488.19 505.64L488.31 498.66L488.43 497.81L488.55 504.00L488.66 501.68L488.78 501.65L488.90 506.08L489.02 506.35L489.13 507.62L489.25 505.67L489.37 497.86L489.48 499.02L489.60 503.44L489.72 506.83L489.84 498.76L489.95 502.93L490.07 502.75L490.19 501.31L490.31 500.49L490.42 500.90L490.54 500.75L490.66 499.56L490.78 503.10L490.89 502.67L491.01 503.99L491.13 504.19L491.25 507.56L491.36 501.62L491.48 506.12L491.60 501.54L491.72 503.74L491.83 505.60L491.95 501.47L492.07 502.50L492.19 503.93L492.30 499.39L492.42 503.20L492.54 498.93L492.66 500.89L492.77 504.51L492.89 507.02L493.01 508.20L493.13 500.90L493.24 499.99L493.36 503.27L493.48 501.76L493.59 501.65L493.71 504.69L493.83 504.48L493.95 503.30L494.06 504.54L494.18 503.74L494.30 504.72L494.42 507.30L494.53 506.93L494.65 507.93L494.77 506.48L494.89 498.83L495.00 502.29L495.12 505.57L495.24 501.19L495.36 504.46L495.47 498.58L495.59 500.03L495.71 502.61L495.83 499.92L495.94 502.85L496.06 500.43L496.18 506.31L496.30 501.46L496.41 501.92L496.53 505.59L496.65 504.00L496.77 499.51L496.88 499.97L497.00 503.76L497.12 499.91L497.23 500.12L497.35 504.43L497.47 502.43L497.59 500.99L497.70 503.68L497.82 504.52L497.94 498.05L498.06 500.86L498.17 501.23L498.29 506.92L498.41 498.80L498.53 501.32L498.64 500.44L498.76 505.33L498.88 506.44L499.00 498.48L499.11 506.66L499.23 504.56L499.35 500.22L499.47 507.24L499.58 500.51L499.70 506.72L499.82 499.34L499.94 502.31L500.05 502.86L500.17 506.78L500.29 506.18L500.41 503.03L500.52 498.65L500.64 501.80L500.76 501.60L500.88 508.38L500.99 504.72L501.11 501.97L501.23 502.26L501.34 505.69L501.46 499.35L501.58 505.86L501.70 505.03L501.81 502.28L501.93 505.34L502.05 502.26L502.17 500.20L502.28 502.57L502.40 498.72L502.52 498.70L502.64 502.34L502.75 505.90L502.87 500.72L502.99 502.88L503.11 506.83L503.22 506.30L503.34 507.16L503.46 504.39L503.58 504.14L503.69 503.36L503.81 504.09L503.93 502.65L504.05 501.81L504.16 500.68L504.28 498.65L504.40 502.07L504.52 505.45L504.63 503.59L504.75 500.32L504.87 505.73L504.98 498.69L505.10 507.73L505.22 504.94L505.34 503.35L505.45 502.00L505.57 506.35L505.69 498.11L505.81 498.45L505.92 502.78L506.04 501.34L506.16 501.56L506.28 503.46L506.39 498.94L506.51 507.45L506.63 504.22L506.75 498.79L506.86 504.68L506.98 504.00L507.10 504.19L507.22 504.89L507.33 507.88L507.45 499.44L507.57 508.17L507.69 503.31L507.80 500.38L507.92 501.85L508.04 501.59L508.16 506.79L508.27 503.64L508.39 499.16L508.51 505.35L508.63 502.48L508.74 505.82L508.86 498.52L508.98 506.38L509.09 506.47L509.21 496.61L509.33 503.24L509.45 500.12L509.56 503.19L509.68 499.14L509.80 506.82L509.92 500.08L510.03 504.41L510.15 504.84L510.27 500.69L510.39 500.21L510.50 506.40L510.62 498.94L510.74 500.27L510.86 501.05L510.97 503.91L511.09 501.50L511.21 499.49L511.33 503.65L511.44 505.93L511.56 504.64L511.68 502.73L511.80 501.48L511.91 498.49L512.03 503.59L512.15 504.24L512.27 502.89L512.38 507.62L512.50 500.75L512.62 505.64L512.73 505.30L512.85 506.85L512.97 507.31L513.09 500.29L513.20 507.43L513.32 501.74L513.44 505.15L513.56 507.64L513.67 503.41L513.79 504.07L513.91 498.38L514.03 504.26L514.14 500.12L514.26 502.05L514.38 501.89L514.50 507.08L514.61 503.81L514.73 505.46L514.85 499.87L514.97 501.67L515.08 508.89L515.20 500.51L515.32 507.52L515.44 503.08L515.55 502.23L515.67 503.33L515.79 502.81L515.91 502.62L516.02 502.21L516.14 505.66L516.26 500.97L516.37 499.59L516.49 502.73L516.61 498.96L516.73 502.70L516.84 503.52L516.96 506.33L517.08 500.10L517.20 502.61L517.31 506.07L517.43 501.84L517.55 506.48L517.67 505.25L517.78 499.63L517.90 502.07L518.02 506.31L518.14 503.40L518.25 505.26L518.37 506.85L518.49 504.91L518.61 503.42L518.72 507.04L518.84 503.07L518.96 498.34L519.08 501.02L519.19 504.43L519.31 507.57L519.43 504.26L519.55 501.51L519.66 507.43L519.78 502.84L519.90 500.80L520.02 502.71L520.13 501.43L520.25 499.52L520.37 506.04L520.48 505.04L520.60 507.18L520.72 500.27L520.84 507.27L520.95 506.05L521.07 501.27L521.19 502.91L521.31 504.44L521.42 501.85L521.54 499.69L521.66 506.78L521.78 499.95L521.89 503.76L522.01 502.17L522.13 506.59L522.25 503.99L522.36 502.44L522.48 507.85L522.60 501.88L522.72 505.36L522.83 500.38L522.95 505.81L523.07 506.11L523.19 506.08L523.30 503.79L523.42 501.20L523.54 504.23L523.66 507.44L523.77 501.10L523.89 498.70L524.01 499.92L524.12 507.19L524.24 497.97L524.36 499.01L524.48 499.12L524.59 506.68L524.71 501.50L524.83 505.12L524.95 505.91L525.06 502.54L525.18 505.44L525.30 502.53L525.42 503.53L525.53 501.17L525.65 496.04L525.77 503.87L525.89 500.91L526.00 501.29L526.12 506.76L526.24 502.10L526.36 500.00L526.47 504.86L526.59 503.52L526.71 498.51L526.83 501.82L526.94 504.39L527.06 501.58L527.18 507.95L527.30 507.11L527.41 503.24L527.53 507.46L527.65 498.60L527.77 500.36L527.88 507.12L528.00 503.47L528.12 500.45L528.23 502.87L528.35 505.88L528.47 504.82L528.59 499.51L528.70 499.25L528.82 502.40L528.94 498.96L529.06 499.85L529.17 504.33L529.29 502.98L529.41 499.60L529.53 506.83L529.64 502.72L529.76 506.70L529.88 504.02L530.00 504.45L530.11 502.40L530.23 505.42L530.35 500.34L530.47 500.59L530.58 506.97L530.70 500.81L530.82 501.85L530.94 506.10L531.05 501.07L531.17 502.44L531.29 506.88L531.41 500.41L531.52 501.54L531.64 506.96L531.76 501.00L531.87 501.83L531.99 507.60L532.11 501.69L532.23 507.75L532.34 506.44L532.46 506.17L532.58 498.49L532.70 500.49L532.81 505.95L532.93 506.25L533.05 500.93L533.17 500.99L533.28 501.49L533.40 499.36L533.52 502.60L533.64 502.98L533.75 504.79L533.87 499.27L533.99 500.46L534.11 499.58L534.22 500.86L534.34 499.82L534.46 507.80L534.58 502.11L534.69 499.99L534.81 505.04L534.93 508.09L535.05 506.79L535.16 504.70L535.28 502.46L535.40 501.89L535.52 501.38L535.63 506.00L535.75 506.00L535.87 503.68L535.98 506.81L536.10 504.83L536.22 505.15L536.34 501.13L536.45 500.88L536.57 500.60L536.69 507.07L536.81 506.05L536.92 507.07L537.04 505.76L537.16 506.27L537.28 502.78L537.39 506.03L537.51 499.88L537.63 504.53L537.75 499.39L537.86 507.51L537.98 507.12L538.10 500.02L538.22 505.50L538.33 505.93L538.45 498.90L538.57 503.86L538.69 502.23L538.80 505.01L538.92 507.03L539.04 505.19L539.16 501.22L539.27 504.21L539.39 503.73L539.51 498.48L539.62 499.90L539.74 500.13L539.86 499.91L539.98 501.36L540.09 504.93L540.21 508.03L540.33 502.98L540.45 504.96L540.56 506.09L540.68 505.49L540.80 505.49L540.92 499.42L541.03 506.45L541.15 500.37L541.27 500.68L541.39 503.53L541.50 504.55L541.62 505.27L541.74 501.49L541.86 507.95L541.97 504.64L542.09 506.28L542.21 503.28L542.33 499.50L542.44 498.54L542.56 505.22L542.68 502.57L542.80 502.54L542.91 501.86L543.03 500.22L543.15 503.14L543.27 501.25L543.38 506.98L543.50 500.66L543.62 507.93L543.73 507.24L543.85 502.03L543.97 506.03L544.09 504.31L544.20 503.25L544.32 505.65L544.44 506.19L544.56 500.80L544.67 507.46L544.79 499.12L544.91 498.92L545.03 503.74L545.14 501.50L545.26 502.49L545.38 503.80L545.50 503.39L545.61 507.23L545.73 507.13L545.85 502.60L545.97 501.41L546.08 504.64L546.20 501.11L546.32 502.05L546.44 505.47L546.55 499.10L546.67 505.93L546.79 505.49L546.91 502.59L547.02 500.73L547.14 503.79L547.26 501.84L547.37 506.11L547.49 504.82L547.61 501.63L547.73 506.34L547.84 504.34L547.96 500.28L548.08 502.54L548.20 503.49L548.31 508.08L548.43 502.27L548.55 502.51L548.67 508.41L548.78 502.66L548.90 506.66L549.02 499.80L549.14 502.62L549.25 500.37L549.37 507.29L549.49 504.36L549.61 500.70L549.72 499.72L549.84 503.07L549.96 500.14L550.08 503.50L550.19 505.75L550.31 501.93L550.43 500.32L550.55 502.36L550.66 500.33L550.78 506.61L550.90 498.97L551.02 505.15L551.13 502.12L551.25 505.91L551.37 506.21L551.48 500.18L551.60 505.82L551.72 507.87L551.84 504.02L551.95 504.89L552.07 502.41L552.19 500.04L552.31 505.61L552.42 506.44L552.54 500.16L552.66 499.55L552.78 502.54L552.89 504.90L553.01 502.25L553.13 508.31L553.25 505.92L553.36 508.07L553.48 504.46L553.60 505.72L553.72 508.11L553.83 499.43L553.95 504.32L554.07 500.62L554.19 505.67L554.30 500.36L554.42 505.80L554.54 502.34L554.66 504.69L554.77 505.25L554.89 506.82L555.01 506.50L555.12 502.97L555.24 505.56L555.36 500.88L555.48 500.26L555.59 505.28L555.71 507.28L555.83 507.45L555.95 503.38L556.06 504.67L556.18 505.71L556.30 504.21L556.42 502.61L556.53 506.97L556.65 502.22L556.77 506.52L556.89 506.63L557.00 506.64L557.12 506.85L557.24 508.21L557.36 508.27L557.47 504.02L557.59 502.28L557.71 505.72L557.83 507.58L557.94 504.72L558.06 498.92L558.18 499.04L558.30 502.58L558.41 506.22L558.53 507.53L558.65 501.40L558.77 504.19L558.88 503.70L559.00 499.61L559.12 499.09L559.23 503.73L559.35 503.61L559.47 507.45L559.59 500.72L559.70 506.99L559.82 501.40L559.94 503.91L560.06 505.20L560.17 500.29L560.29 507.46L560.41 508.23L560.53 507.87L560.64 499.27L560.76 505.38L560.88 505.54L561.00 506.89L561.11 501.43L561.23 499.49L561.35 506.96L561.47 500.55L561.58 499.30L561.70 499.83L561.82 504.72L561.94 503.22L562.05 505.39L562.17 506.54L562.29 498.45L562.41 507.84L562.52 507.53L562.64 508.09L562.76 506.19L562.87 502.54L562.99 501.17L563.11 508.38L563.23 503.31L563.34 503.74L563.46 505.58L563.58 505.75L563.70 504.76L563.81 505.08L563.93 503.52L564.05 505.31L564.17 503.06L564.28 501.19L564.40 507.56L564.52 506.58L564.64 505.52L564.75 501.15L564.87 499.58L564.99 507.68L565.11 507.19L565.22 501.87L565.34 504.62L565.46 499.38L565.58 502.33L565.69 505.66L565.81 502.57L565.93 505.98L566.05 507.57L566.16 500.02L566.28 505.83L566.40 502.65L566.52 500.69L566.63 503.33L566.75 503.79L566.87 507.18L566.98 506.42L567.10 499.22L567.22 500.06L567.34 507.87L567.45 504.88L567.57 504.52L567.69 502.20L567.81 506.48L567.92 504.10L568.04 505.20L568.16 501.45L568.28 505.86L568.39 501.01L568.51 500.44L568.63 504.92L568.75 506.63L568.86 501.86L568.98 502.89L569.10 500.43L569.22 504.68L569.33 505.77L569.45 500.59L569.57 503.86L569.69 504.70L569.80 500.51L569.92 504.26L570.04 501.44L570.16 500.83L570.27 508.03L570.39 499.98L570.51 502.15L570.62 505.42L570.74 502.87L570.86 499.28L570.98 506.94L571.09 501.64L571.21 503.27L571.33 507.27L571.45 508.77L571.56 507.66L571.68 503.33L571.80 506.61L571.92 506.43L572.03 501.12L572.15 508.35L572.27 500.49L572.39 505.45L572.50 501.69L572.62 500.60L572.74 500.08L572.86 507.98L572.97 499.62L573.09 507.33L573.21 500.61L573.33 502.30L573.44 501.41L573.56 508.29L573.68 499.73L573.80 506.72L573.91 502.06L574.03 508.09L574.15 506.17L574.27 501.64L574.38 503.88L574.50 500.17L574.62 502.89L574.73 499.68L574.85 505.03L574.97 504.76L575.09 501.91L575.20 500.11L575.32 507.75L575.44 500.24L575.56 501.77L575.67 499.04L575.79 502.14L575.91 502.25L576.03 504.32L576.14 502.15L576.26 501.59L576.38 505.83L576.50 501.05L576.61 501.62L576.73 504.25L576.85 502.10L576.97 505.38L577.08 500.01L577.20 502.22L577.32 502.72L577.44 501.35L577.55 507.22L577.67 502.70L577.79 503.37L577.91 503.62L578.02 506.85L578.14 501.40L578.26 506.74L578.37 508.47L578.49 501.74L578.61 500.96L578.73 506.40L578.84 501.86L578.96 501.30L579.08 499.84L579.20 504.56L579.31 508.07L579.43 507.98L579.55 504.72L579.67 503.21L579.78 507.91L579.90 504.77L580.02 508.18L580.14 505.73L580.25 505.33L580.37 505.68L580.49 500.11L580.61 502.06L580.72 499.90L580.84 507.92L580.96 508.92L581.08 504.01L581.19 500.83L581.31 500.50L581.43 503.24L581.55 502.84L581.66 501.49L581.78 499.87L581.90 504.95L582.02 507.10L582.13 500.21L582.25 502.28L582.37 502.31L582.48 504.26L582.60 504.70L582.72 502.98L582.84 507.29L582.95 502.70L583.07 501.51L583.19 506.23L583.31 507.07L583.42 507.25L583.54 501.08L583.66 501.20L583.78 503.85L583.89 508.16L584.01 504.90L584.13 505.19L584.25 502.60L584.36 508.18L584.48 500.69L584.60 504.87L584.72 505.28L584.83 506.82L584.95 506.56L585.07 502.92L585.19 502.28L585.30 508.82L585.42 503.91L585.54 501.40L585.66 499.44L585.77 506.84L585.89 507.59L586.01 504.61L586.12 502.73L586.24 507.00L586.36 507.93L586.48 504.83L586.59 506.96L586.71 507.79L586.83 506.47L586.95 503.60L587.06 500.86L587.18 505.37L587.30 507.54L587.42 508.53L587.53 500.72L587.65 500.37L587.77 505.22L587.89 506.64L588.00 500.24L588.12 505.11L588.24 501.94L588.36 508.45L588.47 501.79L588.59 500.05L588.71 505.99L588.83 501.53L588.94 503.95L589.06 500.39L589.18 502.31L589.30 500.49L589.41 501.42L589.53 505.18L589.65 501.46L589.77 505.60L589.88 507.35L590.00 505.05L590.12 499.94L590.23 508.11L590.35 500.67L590.47 502.80L590.59 504.50L590.70 505.23L590.82 502.39L590.94 503.60L591.06 504.81L591.17 503.62L591.29 502.09L591.41 503.04L591.53 502.55L591.64 501.97L591.76 504.54L591.88 503.63L592.00 503.49L592.11 505.78L592.23 506.59L592.35 505.11L592.47 502.65L592.58 507.78L592.70 500.12L592.82 506.80L592.94 503.28L593.05 502.70L593.17 506.68L593.29 505.80L593.41 508.13L593.52 507.78L593.64 500.69L593.76 503.95L593.87 506.29L593.99 500.74L594.11 504.12L594.23 508.27L594.34 501.31L594.46 500.44L594.58 501.73L594.70 502.59L594.81 501.59L594.93 503.53L595.05 507.09L595.17 504.19L595.28 504.56L595.40 500.88L595.52 500.73L595.64 507.99L595.75 502.32L595.87 508.23L595.99 502.41L596.11 505.28L596.22 505.65L596.34 499.81L596.46 500.35L596.58 503.09L596.69 500.18L596.81 502.00L596.93 501.74L597.05 502.08L597.16 503.74L597.28 501.96L597.40 502.72L597.52 503.97L597.63 506.03L597.75 499.92L597.87 509.79L597.98 502.72L598.10 507.91L598.22 499.82L598.34 500.07L598.45 500.44L598.57 507.91L598.69 503.50L598.81 506.81L598.92 505.73L599.04 500.44L599.16 502.84L599.28 502.15L599.39 502.90L599.51 506.40L599.63 500.50L599.75 508.42L599.86 503.94L599.98 502.50L600.10 505.94L600.22 501.96L600.33 505.69L600.45 502.76L600.57 503.19L600.69 500.98L600.80 501.20L600.92 507.29L601.04 504.71L601.16 503.40L601.27 507.15L601.39 507.71L601.51 501.42L601.62 508.24L601.74 499.40L601.86 504.87L601.98 501.28L602.09 502.37L602.21 504.07L602.33 505.22L602.45 504.06L602.56 506.11L602.68 508.65L602.80 500.24L602.92 502.11L603.03 505.13L603.15 503.04L603.27 502.75L603.39 504.09L603.50 507.68L603.62 507.05L603.74 508.63L603.86 506.02L603.97 502.69L604.09 508.05L604.21 506.16L604.33 500.90L604.44 508.04L604.56 501.56L604.68 505.78L604.80 505.78L604.91 507.28L605.03 505.04L605.15 508.80L605.27 499.65L605.38 499.50L605.50 502.13L605.62 504.45L605.73 502.92L605.85 499.96L605.97 501.64L606.09 504.51L606.20 503.14L606.32 505.63L606.44 503.55L606.56 507.48L606.67 506.41L606.79 504.53L606.91 502.96L607.03 500.49L607.14 501.63L607.26 502.45L607.38 502.72L607.50 501.20L607.61 504.05L607.73 499.99L607.85 506.61L607.97 504.80L608.08 500.08L608.20 501.70L608.32 501.54L608.44 500.82L608.55 503.48L608.67 500.81L608.79 501.30L608.91 505.51L609.02 503.55L609.14 505.70L609.26 503.68L609.37 504.94L609.49 501.91L609.61 504.32L609.73 503.58L609.84 502.57L609.96 507.13L610.08 502.19L610.20 501.82L610.31 502.57L610.43 506.54L610.55 507.63L610.67 505.22L610.78 502.66L610.90 505.87L611.02 507.24L611.14 501.88L611.25 505.22L611.37 505.55L611.49 503.27L611.61 499.94L611.72 504.90L611.84 501.65L611.96 502.34L612.08 505.08L612.19 508.86L612.31 500.56L612.43 500.24L612.55 504.42L612.66 507.92L612.78 499.86L612.90 505.57L613.02 500.45L613.13 504.61L613.25 500.73L613.37 505.60L613.48 502.63L613.60 505.74L613.72 501.78L613.84 499.96L613.95 501.50L614.07 501.45L614.19 500.94L614.31 501.28L614.42 504.49L614.54 503.04L614.66 506.74L614.78 504.07L614.89 504.71L615.01 505.99L615.13 507.25L615.25 504.61L615.36 499.98L615.48 502.81L615.60 500.16L615.72 505.43L615.83 500.23L615.95 504.17L616.07 501.47L616.19 507.12L616.30 500.97L616.42 505.50L616.54 505.73L616.66 502.06L616.77 504.76L616.89 502.57L617.01 502.17L617.12 501.91L617.24 499.65L617.36 505.72L617.48 500.45L617.59 501.44L617.71 500.64L617.83 507.11L617.95 504.54L618.06 504.13L618.18 504.93L618.30 507.35L618.42 505.43L618.53 504.59L618.65 502.43L618.77 503.84L618.89 508.41L619.00 504.83L619.12 504.11L619.24 507.67L619.36 500.69L619.47 499.81L619.59 506.18L619.71 508.11L619.83 499.91L619.94 499.92L620.06 500.01L620.18 505.82L620.30 500.48L620.41 504.38L620.53 505.65L620.65 499.33L620.77 507.27L620.88 502.42L621.00 504.67L621.12 502.88L621.23 503.18L621.35 502.75L621.47 499.78L621.59 503.55L621.70 502.19L621.82 502.58L621.94 501.03L622.06 502.69L622.17 506.26L622.29 508.32L622.41 501.70L622.53 506.79L622.64 505.40L622.76 500.89L622.88 499.54L623.00 507.58L623.11 501.83L623.23 500.78L623.35 506.04L623.47 506.15L623.58 507.70L623.70 504.16L623.82 502.63L623.94 502.86L624.05 501.66L624.17 505.26L624.29 508.10L624.41 500.23L624.52 502.92L624.64 502.74L624.76 500.26L624.87 505.35L624.99 508.18L625.11 502.26L625.23 505.89L625.34 508.12L625.46 502.28L625.58 508.45L625.70 506.67L625.81 505.21L625.93 501.51L626.05 502.03L626.17 500.49L626.28 507.47L626.40 506.93L626.52 500.57L626.64 504.61L626.75 502.52L626.87 506.59L626.99 504.95L627.11 508.24L627.22 506.22L627.34 500.57L627.46 503.14L627.58 504.88L627.69 508.22L627.81 503.25L627.93 501.16L628.05 502.32L628.16 502.11L628.28 501.07L628.40 502.79L628.52 501.98L628.63 504.58L628.75 507.88L628.87 508.18L628.98 501.20L629.10 505.32L629.22 505.52L629.34 501.38L629.45 504.49L629.57 502.84L629.69 503.27L629.81 502.72L629.92 507.09L630.04 501.39L630.16 504.48L630.28 505.74L630.39 502.88L630.51 508.06L630.63 502.78L630.75 502.75L630.86 505.71L630.98 504.22L631.10 506.49L631.22 500.68L631.33 501.06L631.45 505.51L631.57 502.74L631.69 507.80L631.80 502.32L631.92 502.59L632.04 507.15L632.16 503.04L632.27 500.69L632.39 502.15L632.51 506.85L632.62 502.23L632.74 505.02L632.86 507.18L632.98 505.64L633.09 506.48L633.21 508.98L633.33 502.58L633.45 507.79L633.56 504.41L633.68 501.12L633.80 500.49L633.92 502.94L634.03 500.35L634.15 507.23L634.27 504.74L634.39 499.78L634.50 507.85L634.62 504.79L634.74 503.84L634.86 501.02L634.97 504.47L635.09 508.40L635.21 505.41L635.33 503.82L635.44 505.73L635.56 504.78L635.68 505.50L635.80 501.79L635.91 501.28L636.03 499.52L636.15 507.55L636.27 499.35L636.38 502.31L636.50 505.10L636.62 504.38L636.73 507.61L636.85 502.11L636.97 500.84L637.09 501.59L637.20 504.10L637.32 502.25L637.44 503.99L637.56 506.40L637.67 502.32L637.79 505.66L637.91 499.88L638.03 504.70L638.14 507.89L638.26 508.64L638.38 505.26L638.50 508.73L638.61 502.28L638.73 502.90L638.85 503.71L638.97 504.22L639.08 507.49L639.20 504.62L639.32 499.53L639.44 505.98L639.55 502.15L639.67 507.56L639.79 502.09L639.91 502.63L640.02 500.71L640.14 502.46L640.26 505.43L640.37 502.00L640.49 500.53L640.61 505.28L640.73 506.41L640.84 501.01L640.96 503.60L641.08 500.59L641.20 499.72L641.31 503.75L641.43 502.40L641.55 508.17L641.67 500.74L641.78 506.25L641.90 506.51L642.02 503.72L642.14 504.41L642.25 502.24L642.37 501.91L642.49 499.79L642.61 508.18L642.72 500.19L642.84 501.67L642.96 507.04L643.08 503.59L643.19 504.22L643.31 502.84L643.43 501.77L643.55 507.16L643.66 501.06L643.78 501.98L643.90 507.46L644.02 502.38L644.13 508.69L644.25 501.63L644.37 504.39L644.48 505.07L644.60 504.93L644.72 506.90L644.84 500.41L644.95 505.08L645.07 507.38L645.19 500.69L645.31 504.57L645.42 503.60L645.54 503.41L645.66 503.89L645.78 505.13L645.89 506.22L646.01 507.82L646.13 505.59L646.25 509.24L646.36 506.06L646.48 502.66L646.60 501.23L646.72 500.46L646.83 502.09L646.95 501.12L647.07 505.51L647.19 505.88L647.30 505.68L647.42 503.70L647.54 504.13L647.66 501.92L647.77 508.43L647.89 499.87L648.01 502.82L648.12 504.81L648.24 502.22L648.36 508.17L648.48 504.03L648.59 502.93L648.71 500.53L648.83 502.73L648.95 505.71L649.06 502.50L649.18 499.98L649.30 505.31L649.42 502.82L649.53 507.08L649.65 506.14L649.77 506.39L649.89 507.68L650.00 507.37L650.12 503.32L650.24 505.46L650.36 502.04L650.47 501.62L650.59 502.09L650.71 500.90L650.83 502.05L650.94 502.77L651.06 505.21L651.18 502.06L651.30 500.16L651.41 503.79L651.53 502.40L651.65 506.18L651.77 501.92L651.88 505.09L652.00 501.51L652.12 504.49L652.23 508.68L652.35 502.53L652.47 504.71L652.59 503.95L652.70 499.96L652.82 500.42L652.94 507.60L653.06 502.44L653.17 506.12L653.29 503.81L653.41 507.29L653.53 502.16L653.64 504.20L653.76 504.48L653.88 507.46L654.00 500.27L654.11 503.36L654.23 503.79L654.35 504.89L654.47 500.99L654.58 504.90L654.70 506.25L654.82 507.12L654.94 502.59L655.05 504.07L655.17 502.71L655.29 504.19L655.41 503.35L655.52 508.91L655.64 500.03L655.76 508.57L655.87 500.28L655.99 500.54L656.11 502.06L656.23 502.38L656.34 507.76L656.46 507.79L656.58 509.20L656.70 502.95L656.81 500.25L656.93 505.94L657.05 508.07L657.17 501.35L657.28 507.72L657.40 500.27L657.52 506.55L657.64 504.46L657.75 508.20L657.87 507.64L657.99 500.58L658.11 504.23L658.22 501.97L658.34 503.60L658.46 501.07L658.58 503.17L658.69 503.49L658.81 500.41L658.93 504.24L659.05 508.28L659.16 500.60L659.28 508.74L659.40 504.59L659.52 501.29L659.63 509.34L659.75 504.72L659.87 503.57L659.98 503.81L660.10 507.99L660.22 501.34L660.34 502.46L660.45 503.02L660.57 501.02L660.69 508.40L660.81 504.90L660.92 505.36L661.04 507.69L661.16 504.88L661.28 502.06L661.39 504.81L661.51 504.53L661.63 502.61L661.75 502.69L661.86 503.48L661.98 506.70L662.10 501.94L662.22 508.99L662.33 502.68L662.45 503.30L662.57 501.23L662.69 503.64L662.80 503.90L662.92 505.65L663.04 507.82L663.16 502.06L663.27 506.92L663.39 502.95L663.51 503.94L663.62 501.32L663.74 508.21L663.86 503.85L663.98 506.85L664.09 500.84L664.21 506.41L664.33 502.23L664.45 504.75L664.56 506.39L664.68 502.17L664.80 504.78L664.92 507.70L665.03 501.46L665.15 504.40L665.27 502.00L665.39 501.35L665.50 505.27L665.62 503.82L665.74 506.29L665.86 507.57L665.97 506.67L666.09 502.99L666.21 504.62L666.33 506.31L666.44 507.50L666.56 505.96L666.68 504.51L666.80 501.43L666.91 508.31L667.03 503.30L667.15 503.30L667.27 508.35L667.38 501.94L667.50 508.46L667.62 502.41L667.73 501.29L667.85 505.00L667.97 507.39L668.09 504.39L668.20 507.92L668.32 503.81L668.44 507.96L668.56 500.89L668.67 502.49L668.79 501.84L668.91 506.85L669.03 503.89L669.14 506.43L669.26 502.81L669.38 506.62L669.50 508.77L669.61 500.96L669.73 503.26L669.85 507.90L669.97 507.63L670.08 508.29L670.20 502.49L670.32 504.82L670.44 500.68L670.55 504.05L670.67 505.26L670.79 502.68L670.91 504.25L671.02 504.20L671.14 501.17L671.26 501.21L671.37 506.80L671.49 500.09L671.61 509.52L671.73 507.89L671.84 509.63L671.96 507.55L672.08 500.37L672.20 501.31L672.31 502.79L672.43 501.58L672.55 500.68L672.67 508.42L672.78 508.91L672.90 506.88L673.02 502.38L673.14 507.41L673.25 507.74L673.37 503.23L673.49 501.83L673.61 502.18L673.72 504.18L673.84 507.53L673.96 501.09L674.08 504.29L674.19 503.50L674.31 508.01L674.43 501.82L674.55 505.84L674.66 503.22L674.78 506.06L674.90 506.89L675.02 507.97L675.13 508.66L675.25 502.86L675.37 502.63L675.48 501.76L675.60 502.22L675.72 501.43L675.84 507.49L675.95 500.60L676.07 502.06L676.19 507.19L676.31 507.09L676.42 509.35L676.54 503.53L676.66 500.58L676.78 507.41L676.89 503.12L677.01 507.21L677.13 500.27L677.25 500.80L677.36 505.10L677.48 505.91L677.60 505.54L677.72 505.79L677.83 505.60L677.95 501.68L678.07 500.50L678.19 503.58L678.30 505.39L678.42 502.82L678.54 501.76L678.66 505.06L678.77 503.77L678.89 503.32L679.01 508.39L679.12 509.15L679.24 501.27L679.36 505.45L679.48 502.51L679.59 502.89L679.71 500.95L679.83 500.90L679.95 500.36L680.06 501.36L680.18 505.96L680.30 501.38L680.42 508.46L680.53 507.88L680.65 503.14L680.77 506.53L680.89 509.23L681.00 501.88L681.12 506.09L681.24 504.69L681.36 503.15L681.47 502.73L681.59 501.09L681.71 506.27L681.83 502.31L681.94 503.81L682.06 508.67L682.18 503.52L682.30 503.11L682.41 508.65L682.53 505.83L682.65 505.27L682.77 502.62L682.88 505.88L683.00 503.95L683.12 504.99L683.23 504.44L683.35 501.45L683.47 508.82L683.59 506.42L683.70 508.66L683.82 502.80L683.94 502.94L684.06 502.06L684.17 503.47L684.29 503.64L684.41 501.73L684.53 503.23L684.64 503.38L684.76 508.03L684.88 503.67L685.00 507.61L685.11 500.90L685.23 502.72L685.35 509.15L685.47 500.93L685.58 501.66L685.70 505.68L685.82 503.24L685.94 502.46L686.05 506.41L686.17 505.76L686.29 502.34L686.41 505.23L686.52 503.42L686.64 508.30L686.76 501.51L686.87 503.24L686.99 505.87L687.11 501.21L687.23 508.08L687.34 508.75L687.46 503.28L687.58 507.64L687.70 502.58L687.81 511.81L687.93 502.85L688.05 500.53L688.17 501.74L688.28 504.89L688.40 501.44L688.52 509.31L688.64 506.49L688.75 505.60L688.87 506.20L688.99 503.59L689.11 509.17L689.22 507.02L689.34 504.54L689.46 502.83L689.58 501.80L689.69 503.57L689.81 503.33L689.93 501.15L690.05 508.53L690.16 502.96L690.28 505.73L690.40 501.29L690.52 505.45L690.63 506.06L690.75 500.76L690.87 509.37L690.98 502.56L691.10 502.87L691.22 507.20L691.34 503.47L691.45 508.11L691.57 503.09L691.69 503.66L691.81 506.34L691.92 507.93L692.04 509.00L692.16 502.90L692.28 505.37L692.39 503.96L692.51 506.80L692.63 502.39L692.75 507.96L692.86 506.66L692.98 502.82L693.10 504.31L693.22 503.72L693.33 509.21L693.45 504.92L693.57 506.17L693.69 508.97L693.80 504.07L693.92 509.41L694.04 502.85L694.16 500.47L694.27 501.79L694.39 506.39L694.51 504.61L694.62 508.05L694.74 505.50L694.86 507.26L694.98 503.80L695.09 505.97L695.21 506.73L695.33 504.21L695.45 505.30L695.56 507.95L695.68 509.23L695.80 504.13L695.92 501.41L696.03 507.98L696.15 504.99L696.27 509.84L696.39 507.36L696.50 503.36L696.62 508.08L696.74 505.60L696.86 507.52L696.97 509.03L697.09 506.12L697.21 508.98L697.33 504.51L697.44 504.08L697.56 506.09L697.68 503.72L697.80 507.38L697.91 504.91L698.03 507.78L698.15 508.87L698.27 505.80L698.38 508.63L698.50 507.50L698.62 508.17L698.73 500.99L698.85 501.17L698.97 506.15L699.09 503.58L699.20 508.33L699.32 504.61L699.44 507.72L699.56 502.63L699.67 506.26L699.79 508.86L699.91 507.86L700.03 503.82L700.14 505.09L700.26 505.05L700.38 503.88L700.50 505.08L700.61 509.20L700.73 508.98L700.85 503.23L700.97 507.01L701.08 509.17L701.20 504.34L701.32 508.09L701.44 508.10L701.55 508.91L701.67 501.86L701.79 509.57L701.91 509.04L702.02 502.87L702.14 506.06L702.26 501.87L702.37 506.61L702.49 507.01L702.61 507.52L702.73 508.89L702.84 503.44L702.96 501.74L703.08 507.54L703.20 500.73L703.31 503.17L703.43 502.38L703.55 507.82L703.67 504.80L703.78 508.28L703.90 507.03L704.02 508.08L704.14 508.29L704.25 508.52L704.37 503.58L704.49 503.76L704.61 506.50L704.72 505.89L704.84 508.32L704.96 507.69L705.08 503.29L705.19 502.34L705.31 507.71L705.43 506.94L705.55 503.17L705.66 500.85L705.78 500.88L705.90 503.12L706.02 503.64L706.13 502.95L706.25 501.72L706.37 502.44L706.48 503.69L706.60 501.49L706.72 503.15L706.84 504.76L706.95 508.89L707.07 508.09L707.19 504.26L707.31 501.65L707.42 503.30L707.54 506.59L707.66 504.01L707.78 505.90L707.89 506.65L708.01 506.52L708.13 508.67L708.25 501.18L708.36 503.45L708.48 500.81L708.60 505.37L708.72 506.41L708.83 503.24L708.95 500.41L709.07 504.72L709.19 502.83L709.30 502.67L709.42 504.02L709.54 509.77L709.66 503.92L709.77 507.86L709.89 504.45L710.01 504.43L710.12 501.91L710.24 502.20L710.36 507.49L710.48 504.59L710.59 503.85L710.71 509.77L710.83 508.70L710.95 503.35L711.06 504.63L711.18 505.50L711.30 501.82L711.42 505.16L711.53 503.30L711.65 508.68L711.77 502.34L711.89 509.86L712.00 503.22L712.12 503.70L712.24 501.48L712.36 509.09L712.47 508.30L712.59 501.97L712.71 505.57L712.83 504.67L712.94 506.35L713.06 504.09L713.18 510.09L713.30 502.29L713.41 508.64L713.53 503.05L713.65 506.77L713.77 504.59L713.88 505.43L714.00 505.09L714.12 505.58L714.23 502.21L714.35 501.70L714.47 509.52L714.59 502.51L714.70 504.31L714.82 503.57L714.94 506.83L715.06 509.14L715.17 504.32L715.29 503.86L715.41 504.00L715.53 501.51L715.64 501.35L715.76 501.09L715.88 502.94L716.00 510.13L716.11 502.38L716.23 505.67L716.35 502.13L716.47 501.52L716.58 507.93L716.70 501.59L716.82 501.43L716.94 507.75L717.05 502.75L717.17 502.30L717.29 509.76L717.41 502.89L717.52 508.40L717.64 503.45L717.76 505.97L717.87 503.23L717.99 504.09L718.11 508.96L718.23 508.89L718.34 502.59L718.46 507.11L718.58 501.67L718.70 503.95L718.81 500.93L718.93 506.29L719.05 507.03L719.17 507.37L719.28 507.83L719.40 503.33L719.52 502.33L719.64 501.44L719.75 505.29L719.87 509.62L719.99 504.92L720.11 506.53L720.22 508.97L720.34 508.09L720.46 507.70L720.58 506.63L720.69 503.11L720.81 507.65L720.93 504.98L721.05 507.39L721.16 503.33L721.28 509.24L721.40 501.77L721.52 508.22L721.63 509.25L721.75 502.02L721.87 508.80L721.98 506.99L722.10 505.40L722.22 504.09L722.34 504.16L722.45 502.98L722.57 504.50L722.69 506.21L722.81 508.68L722.92 507.18L723.04 504.31L723.16 503.73L723.28 507.70L723.39 509.94L723.51 502.61L723.63 504.63L723.75 503.36L723.86 509.89L723.98 501.40L724.10 508.92L724.22 508.36L724.33 503.77L724.45 506.94L724.57 504.31L724.69 506.60L724.80 505.06L724.92 508.18L725.04 504.45L725.16 507.50L725.27 506.65L725.39 504.61L725.51 509.42L725.62 502.86L725.74 508.51L725.86 509.69L725.98 509.14L726.09 506.70L726.21 507.33L726.33 509.15L726.45 505.28L726.56 508.43L726.68 508.06L726.80 508.80L726.92 505.22L727.03 507.33L727.15 501.84L727.27 501.77L727.39 501.92L727.50 507.71L727.62 503.90L727.74 509.52L727.86 501.95L727.97 502.66L728.09 508.52L728.21 504.52L728.33 502.64L728.44 507.63L728.56 502.83L728.68 510.09L728.80 503.63L728.91 508.22L729.03 504.98L729.15 509.90L729.27 504.27L729.38 509.64L729.50 504.49L729.62 504.80L729.73 506.86L729.85 505.78L729.97 507.85L730.09 507.44L730.20 503.58L730.32 501.24L730.44 507.29L730.56 506.41L730.67 505.29L730.79 505.34L730.91 509.03L731.03 503.99L731.14 509.72L731.26 502.65L731.38 506.93L731.50 509.13L731.61 502.70L731.73 507.88L731.85 503.41L731.97 501.20L732.08 505.02L732.20 507.41L732.32 503.89L732.44 509.27L732.55 501.07L732.67 502.96L732.79 504.21L732.91 504.40L733.02 503.63L733.14 501.58L733.26 502.50L733.37 503.97L733.49 507.27L733.61 504.67L733.73 507.67L733.84 504.80L733.96 503.94L734.08 502.84L734.20 503.13L734.31 509.30L734.43 505.05L734.55 504.20L734.67 503.28L734.78 508.51L734.90 508.12L735.02 507.71L735.14 508.62L735.25 503.38L735.37 507.65L735.49 502.04L735.61 507.99L735.72 503.96L735.84 506.66L735.96 503.12L736.08 504.30L736.19 507.47L736.31 509.12L736.43 504.01L736.55 502.51L736.66 502.57L736.78 507.54L736.90 509.22L737.02 501.64L737.13 504.25L737.25 502.66L737.37 508.89L737.48 501.98L737.60 501.32L737.72 508.18L737.84 510.12L737.95 507.69L738.07 502.15L738.19 504.73L738.31 505.92L738.42 509.00L738.54 507.63L738.66 502.08L738.78 505.09L738.89 508.48L739.01 505.69L739.13 507.03L739.25 509.70L739.36 509.58L739.48 508.90L739.60 505.79L739.72 503.97L739.83 501.80L739.95 502.87L740.07 506.90L740.19 508.47L740.30 509.56L740.42 509.10L740.54 503.72L740.66 503.68L740.77 502.73L740.89 506.04L741.01 509.66L741.12 508.22L741.24 505.23L741.36 502.90L741.48 508.47L741.59 509.25L741.71 507.68L741.83 503.70L741.95 503.68L742.06 506.35L742.18 509.41L742.30 503.16L742.42 504.77L742.53 501.08L742.65 500.94L742.77 503.12L742.89 508.50L743.00 507.38L743.12 505.27L743.24 504.78L743.36 503.65L743.47 507.72L743.59 505.89L743.71 502.49L743.83 506.92L743.94 509.92L744.06 501.88L744.18 510.53L744.30 502.49L744.41 503.45L744.53 510.05L744.65 509.65L744.77 502.66L744.88 507.73L745.00 506.86L745.12 504.64L745.23 507.91L745.35 506.80L745.47 502.83L745.59 506.18L745.70 507.00L745.82 506.97L745.94 506.09L746.06 507.81L746.17 502.01L746.29 501.38L746.41 501.35L746.53 506.57L746.64 505.00L746.76 508.73L746.88 509.76L747.00 502.34L747.11 504.84L747.23 504.76L747.35 506.35L747.47 509.38L747.58 506.38L747.70 504.09L747.82 507.54L747.94 504.03L748.05 505.54L748.17 502.34L748.29 506.61L748.41 505.10L748.52 506.95L748.64 506.45L748.76 505.52L748.87 508.10L748.99 502.64L749.11 508.24L749.23 507.33L749.34 507.02L749.46 505.12L749.58 502.75L749.70 508.71L749.81 508.51L749.93 510.23L750.05 505.09L750.17 508.52L750.28 509.15L750.40 506.21L750.52 509.05L750.64 508.62L750.75 502.44L750.87 502.75L750.99 505.02L751.11 505.57L751.22 506.97L751.34 505.49L751.46 508.73L751.58 508.48L751.69 502.31L751.81 504.25L751.93 509.21L752.05 507.33L752.16 500.89L752.28 506.45L752.40 502.13L752.52 505.54L752.63 510.94L752.75 502.23L752.87 508.28L752.98 505.34L753.10 509.85L753.22 508.76L753.34 501.60L753.45 506.30L753.57 509.39L753.69 503.96L753.81 507.80L753.92 503.54L754.04 503.22L754.16 504.08L754.28 503.16L754.39 509.96L754.51 503.34L754.63 504.59L754.75 504.82L754.86 507.86L754.98 509.63L755.10 506.69L755.22 508.76L755.33 502.99L755.45 506.68L755.57 502.13L755.69 508.22L755.80 506.93L755.92 502.27L756.04 508.13L756.16 505.99L756.27 505.59L756.39 501.38L756.51 509.57L756.62 505.86L756.74 509.23L756.86 501.40L756.98 507.12L757.09 504.28L757.21 506.13L757.33 506.70L757.45 508.36L757.56 512.29L757.68 502.54L757.80 509.41L757.92 502.57L758.03 501.06L758.15 503.31L758.27 503.88L758.39 508.47L758.50 506.73L758.62 504.89L758.74 508.57L758.86 509.52L758.97 506.80L759.09 508.30L759.21 509.47L759.33 503.42L759.44 510.40L759.56 502.99L759.68 501.00L759.80 508.63L759.91 503.01L760.03 504.87L760.15 506.48L760.27 502.12L760.38 504.98L760.50 504.29L760.62 502.09L760.73 507.04L760.85 504.98L760.97 502.63L761.09 508.22L761.20 504.70L761.32 501.29L761.44 509.91L761.56 505.59L761.67 502.59L761.79 503.29L761.91 503.68L762.03 502.48L762.14 504.41L762.26 502.53L762.38 503.40L762.50 507.32L762.61 502.55L762.73 501.53L762.85 503.04L762.97 503.88L763.08 502.75L763.20 506.35L763.32 509.28L763.44 509.10L763.55 505.59L763.67 508.38L763.79 507.98L763.91 507.46L764.02 508.19L764.14 504.96L764.26 507.98L764.37 506.33L764.49 508.39L764.61 507.92L764.73 500.78L764.84 508.18L764.96 501.24L765.08 504.85L765.20 506.78L765.31 509.51L765.43 502.02L765.55 507.37L765.67 504.90L765.78 501.56L765.90 504.61L766.02 507.28L766.14 501.33L766.25 509.40L766.37 502.28L766.49 503.34L766.61 504.56L766.72 502.03L766.84 509.68L766.96 510.02L767.08 509.94L767.19 502.87L767.31 508.74L767.43 504.67L767.55 504.25L767.66 508.17L767.78 501.85L767.90 500.85L768.02 510.23L768.13 503.99L768.25 508.45L768.37 502.84L768.48 502.73L768.60 505.66L768.72 502.42L768.84 502.01L768.95 501.92L769.07 504.33L769.19 503.20L769.31 504.74L769.42 510.20L769.54 508.57L769.66 507.72L769.78 503.56L769.89 507.80L770.01 507.52L770.13 506.67L770.25 503.60L770.36 503.59L770.48 505.15L770.60 503.64L770.72 509.57L770.83 505.27L770.95 507.68L771.07 509.47L771.19 506.93L771.30 502.68L771.42 503.91L771.54 510.31L771.66 501.18L771.77 503.42L771.89 506.56L772.01 509.52L772.12 508.81L772.24 508.13L772.36 507.96L772.48 504.88L772.59 501.92L772.71 507.31L772.83 502.09L772.95 508.53L773.06 502.40L773.18 499.45L773.30 510.31L773.42 502.66L773.53 507.16L773.65 501.36L773.77 511.00L773.89 501.26L774.00 507.90L774.12 509.13L774.24 503.99L774.36 501.57L774.47 502.24L774.59 501.82L774.71 508.30L774.83 506.02L774.94 510.35L775.06 507.59L775.18 507.22L775.30 503.19L775.41 502.72L775.53 510.58L775.65 509.54L775.77 505.16L775.88 509.05L776.00 507.81L776.12 503.65L776.23 502.42L776.35 508.53L776.47 510.42L776.59 510.30L776.70 504.76L776.82 501.35L776.94 503.96L777.06 502.03L777.17 510.83L777.29 504.16L777.41 510.62L777.53 503.44L777.64 510.66L777.76 505.67L777.88 509.18L778.00 507.06L778.11 508.27L778.23 502.00L778.35 501.50L778.47 504.45L778.58 509.53L778.70 510.03L778.82 508.41L778.94 506.74L779.05 501.94L779.17 509.95L779.29 507.21L779.41 506.80L779.52 509.17L779.64 503.53L779.76 506.86L779.87 508.67L779.99 508.39L780.11 502.44L780.23 508.05L780.34 510.75L780.46 506.43L780.58 502.79L780.70 509.99L780.81 502.70L780.93 503.46L781.05 508.99L781.17 507.39L781.28 504.70L781.40 508.77L781.52 507.31L781.64 502.34L781.75 503.56L781.87 508.33L781.99 508.98L782.11 501.81L782.22 506.39L782.34 508.14L782.46 504.02L782.58 502.39L782.69 505.51L782.81 509.79L782.93 507.82L783.05 503.09L783.16 509.39L783.28 508.05L783.40 503.74L783.52 503.58L783.63 503.18L783.75 505.12L783.87 504.70L783.98 503.97L784.10 509.44L784.22 509.10L784.34 506.31L784.45 510.28L784.57 508.11L784.69 510.96L784.81 509.27L784.92 507.42L785.04 507.70L785.16 508.68L785.28 508.55L785.39 510.02L785.51 504.21L785.63 504.20L785.75 503.49L785.86 510.16L785.98 509.16L786.10 505.44L786.22 504.84L786.33 502.20L786.45 510.59L786.57 508.09L786.69 509.96L786.80 507.39L786.92 506.14L787.04 508.64L787.16 509.72L787.27 509.10L787.39 504.92L787.51 506.28L787.62 509.92L787.74 505.43L787.86 508.68L787.98 506.38L788.09 509.49L788.21 501.79L788.33 501.22L788.45 501.57L788.56 505.31L788.68 504.86L788.80 510.22L788.92 510.75L789.03 502.28L789.15 508.93L789.27 506.26L789.39 508.77L789.50 504.85L789.62 509.08L789.74 501.19L789.86 505.61L789.97 504.21L790.09 503.28L790.21 503.99L790.33 504.88L790.44 505.97L790.56 506.13L790.68 507.92L790.80 509.20L790.91 510.82L791.03 507.97L791.15 503.68L791.27 506.83L791.38 505.15L791.50 503.49L791.62 504.73L791.73 503.78L791.85 506.93L791.97 501.45L792.09 507.05L792.20 505.39L792.32 501.94L792.44 503.97L792.56 511.01L792.67 506.85L792.79 501.59L792.91 506.95L793.03 507.87L793.14 502.61L793.26 505.36L793.38 503.65L793.50 506.74L793.61 509.51L793.73 503.09L793.85 503.08L793.97 502.39L794.08 507.23L794.20 501.87L794.32 505.97L794.44 509.38L794.55 508.30L794.67 507.55L794.79 501.96L794.91 504.69L795.02 503.09L795.14 506.60L795.26 502.66L795.37 502.92L795.49 510.43L795.61 509.59L795.73 502.53L795.84 509.02L795.96 501.79L796.08 504.67L796.20 510.47L796.31 509.84L796.43 505.25L796.55 508.39L796.67 505.68L796.78 509.88L796.90 504.16L797.02 503.15L797.14 502.40L797.25 507.39L797.37 507.06L797.49 509.97L797.61 502.76L797.72 507.94L797.84 510.50L797.96 508.10L798.08 502.38L798.19 502.96L798.31 502.25L798.43 504.82L798.55 509.17L798.66 501.96L798.78 505.13L798.90 502.37L799.02 508.04L799.13 502.07L799.25 508.88L799.37 507.25L799.48 503.57L799.60 507.96L799.72 504.72L799.84 505.93L799.95 507.23L800.07 504.14L800.19 505.22L800.31 508.46L800.42 509.67L800.54 509.84L800.66 507.64L800.78 510.43L800.89 502.60L801.01 510.69L801.13 501.48L801.25 510.19L801.36 508.73L801.48 505.34L801.60 509.10L801.72 510.74L801.83 502.63L801.95 508.04L802.07 501.37L802.19 507.36L802.30 501.98L802.42 507.88L802.54 501.68L802.66 505.61L802.77 510.15L802.89 505.15L803.01 510.69L803.12 504.10L803.24 502.25L803.36 511.07L803.48 502.90L803.59 507.57L803.71 510.39L803.83 510.65L803.95 506.98L804.06 503.24L804.18 506.03L804.30 503.21L804.42 504.64L804.53 504.42L804.65 503.28L804.77 502.23L804.89 508.77L805.00 501.63L805.12 506.27L805.24 505.01L805.36 507.58L805.47 507.36L805.59 505.86L805.71 508.48L805.83 506.85L805.94 510.72L806.06 506.76L806.18 510.32L806.30 509.69L806.41 507.52L806.53 504.82L806.65 506.95L806.77 502.36L806.88 508.04L807.00 507.58L807.12 509.00L807.23 503.26L807.35 502.87L807.47 506.83L807.59 508.78L807.70 502.31L807.82 501.38L807.94 504.36L808.06 504.69L808.17 502.56L808.29 502.20L808.41 503.15L808.53 501.92L808.64 502.65L808.76 501.33L808.88 504.97L809.00 508.95L809.11 507.88L809.23 507.14L809.35 506.47L809.47 503.75L809.58 501.36L809.70 502.84L809.82 510.26L809.94 509.22L810.05 507.01L810.17 507.34L810.29 508.67L810.41 509.54L810.52 503.34L810.64 508.43L810.76 507.82L810.87 504.58L810.99 504.31L811.11 502.98L811.23 506.94L811.34 510.69L811.46 508.62L811.58 502.94L811.70 502.90L811.81 504.30L811.93 503.30L812.05 502.67L812.17 508.73L812.28 505.01L812.40 506.82L812.52 504.35L812.64 511.41L812.75 507.23L812.87 502.42L812.99 508.83L813.11 504.74L813.22 506.00L813.34 504.91L813.46 506.43L813.58 504.55L813.69 504.95L813.81 502.80L813.93 511.13L814.05 503.46L814.16 504.13L814.28 505.59L814.40 502.47L814.52 503.31L814.63 505.11L814.75 507.31L814.87 506.78L814.98 505.09L815.10 508.28L815.22 508.39L815.34 503.92L815.45 504.39L815.57 507.21L815.69 505.93L815.81 509.43L815.92 501.79L816.04 506.82L816.16 504.79L816.28 503.60L816.39 510.23L816.51 503.37L816.63 508.80L816.75 510.06L816.86 510.72L816.98 502.58L817.10 502.96L817.22 502.18L817.33 503.99L817.45 510.24L817.57 507.58L817.69 502.55L817.80 502.35L817.92 508.85L818.04 508.15L818.16 501.36L818.27 507.67L818.39 503.20L818.51 504.53L818.62 502.42L818.74 511.37L818.86 505.99L818.98 507.36L819.09 502.97L819.21 505.50L819.33 507.26L819.45 508.54L819.56 510.91L819.68 504.01L819.80 503.89L819.92 505.48L820.03 504.61L820.15 509.34L820.27 505.25L820.39 505.10L820.50 506.28L820.62 507.16L820.74 505.18L820.86 501.75L820.97 508.99L821.09 503.31L821.21 510.41L821.33 503.97L821.44 503.64L821.56 507.13L821.68 510.37L821.80 505.50L821.91 506.08L822.03 505.86L822.15 502.26L822.27 504.41L822.38 509.96L822.50 511.35L822.62 503.94L822.73 509.74L822.85 502.16L822.97 508.85L823.09 502.29L823.20 505.30L823.32 505.69L823.44 506.24L823.56 510.61L823.67 505.12L823.79 501.68L823.91 502.54L824.03 509.30L824.14 502.55L824.26 502.16L824.38 503.67L824.50 511.06L824.61 506.18L824.73 502.33L824.85 508.35L824.97 504.83L825.08 506.86L825.20 511.11L825.32 508.52L825.44 506.70L825.55 511.11L825.67 506.72L825.79 506.69L825.91 509.62L826.02 510.64L826.14 508.36L826.26 504.71L826.37 505.07L826.49 501.52L826.61 504.16L826.73 508.94L826.84 506.05L826.96 509.85L827.08 507.81L827.20 508.01L827.31 509.93L827.43 506.43L827.55 507.48L827.67 506.15L827.78 504.70L827.90 508.71L828.02 501.54L828.14 510.89L828.25 510.70L828.37 509.41L828.49 505.69L828.61 506.09L828.72 505.21L828.84 505.28L828.96 503.40L829.08 509.62L829.19 510.55L829.31 506.07L829.43 509.81L829.55 504.62L829.66 510.25L829.78 510.88L829.90 508.20L830.02 510.79L830.13 508.02L830.25 508.64L830.37 506.17L830.48 502.33L830.60 501.25L830.72 509.33L830.84 503.20L830.95 508.38L831.07 502.73L831.19 509.46L831.31 511.66L831.42 506.83L831.54 502.31L831.66 508.61L831.78 506.44L831.89 510.08L832.01 503.00L832.13 504.65L832.25 510.57L832.36 510.25L832.48 510.55L832.60 506.18L832.72 508.11L832.83 510.68L832.95 507.83L833.07 502.06L833.19 503.80L833.30 501.63L833.42 502.70L833.54 501.34L833.66 505.56L833.77 507.58L833.89 510.37L834.01 506.18L834.12 502.98L834.24 510.21L834.36 510.93L834.48 511.50L834.59 501.98L834.71 507.62L834.83 507.65L834.95 506.82L835.06 503.47L835.18 509.85L835.30 507.11L835.42 502.27L835.53 504.69L835.65 508.52L835.77 503.72L835.89 509.44L836.00 503.69L836.12 505.70L836.24 504.63L836.36 502.93L836.47 509.90L836.59 504.85L836.71 508.83L836.83 510.54L836.94 503.95L837.06 501.43L837.18 506.62L837.30 503.95L837.41 510.96L837.53 503.20L837.65 509.03L837.77 502.17L837.88 504.74L838.00 504.16L838.12 510.14L838.23 507.15L838.35 507.95L838.47 502.98L838.59 505.40L838.70 510.78L838.82 508.45L838.94 509.27L839.06 506.26L839.17 503.70L839.29 510.65L839.41 504.55L839.53 503.62L839.64 507.68L839.76 502.91L839.88 508.91L840.00 508.69L840.11 505.62L840.23 506.92L840.35 506.59L840.47 502.22L840.58 502.41L840.70 505.43L840.82 501.58L840.94 503.08L841.05 504.36L841.17 507.79L841.29 506.39L841.41 503.37L841.52 508.70L841.64 509.26L841.76 508.00L841.87 508.70L841.99 503.85L842.11 509.43L842.23 507.41L842.34 503.69L842.46 508.03L842.58 507.97L842.70 507.22L842.81 506.44L842.93 508.51L843.05 508.82L843.17 507.33L843.28 502.41L843.40 503.71L843.52 511.18L843.64 504.86L843.75 507.84L843.87 503.44L843.99 507.32L844.11 507.64L844.22 509.23L844.34 511.61L844.46 505.90L844.58 504.23L844.69 502.87L844.81 504.72L844.93 506.05L845.05 511.37L845.16 506.42L845.28 512.95L845.40 509.15L845.52 502.20L845.63 503.70L845.75 507.22L845.87 502.20L845.98 503.00L846.10 508.99L846.22 507.97L846.34 502.46L846.45 502.36L846.57 509.66L846.69 506.41L846.81 504.92L846.92 509.01L847.04 507.95L847.16 511.38L847.28 502.21L847.39 508.85L847.51 506.55L847.63 504.08L847.75 507.22L847.86 502.14L847.98 502.76L848.10 502.53L848.22 507.74L848.33 509.07L848.45 504.43L848.57 505.95L848.69 509.96L848.80 505.61L848.92 504.75L849.04 510.32L849.16 506.89L849.27 506.95L849.39 507.16L849.51 502.36L849.62 505.95L849.74 509.07L849.86 507.98L849.98 509.91L850.09 505.10L850.21 506.05L850.33 501.64L850.45 502.85L850.56 502.25L850.68 503.06L850.80 503.69L850.92 506.23L851.03 505.30L851.15 508.87L851.27 509.29L851.39 507.04L851.50 507.76L851.62 506.77L851.74 504.98L851.86 507.35L851.97 506.92L852.09 510.50L852.21 509.95L852.33 502.46L852.44 507.88L852.56 502.21L852.68 507.98L852.80 509.84L852.91 509.03L853.03 503.29L853.15 506.19L853.27 502.99L853.38 508.30L853.50 509.29L853.62 509.58L853.73 505.66L853.85 507.98L853.97 503.50L854.09 511.34L854.20 511.57L854.32 502.19L854.44 507.43L854.56 508.71L854.67 504.07L854.79 501.96L854.91 501.93L855.03 508.59L855.14 501.33L855.26 505.31L855.38 509.69L855.50 502.34L855.61 509.17L855.73 506.30L855.85 506.01L855.97 506.46L856.08 505.57L856.20 509.93L856.32 508.07L856.44 505.86L856.55 503.02L856.67 506.41L856.79 511.86L856.91 510.99L857.02 502.69L857.14 505.70L857.26 506.68L857.37 506.05L857.49 502.57L857.61 502.93L857.73 506.87L857.84 507.67L857.96 508.57L858.08 507.94L858.20 508.39L858.31 501.60L858.43 503.90L858.55 504.74L858.67 504.18L858.78 506.09L858.90 505.31L859.02 504.48L859.14 502.36L859.25 510.50L859.37 511.11L859.49 507.65L859.61 504.54L859.72 506.05L859.84 511.03L859.96 507.53L860.08 508.37L860.19 508.82L860.31 511.09L860.43 508.38L860.55 502.42L860.66 506.53L860.78 510.86L860.90 502.79L861.02 502.62L861.13 502.24L861.25 502.53L861.37 502.69L861.48 509.52L861.60 507.68L861.72 508.24L861.84 507.32L861.95 505.36L862.07 509.23L862.19 503.06L862.31 504.81L862.42 505.86L862.54 508.45L862.66 509.16L862.78 508.04L862.89 507.73L863.01 504.59L863.13 507.04L863.25 510.15L863.36 506.41L863.48 508.83L863.60 507.50L863.72 506.61L863.83 507.79L863.95 503.03L864.07 503.76L864.19 502.50L864.30 507.33L864.42 507.57L864.54 509.16L864.66 503.44L864.77 504.88" stroke="#ff7f0e" stroke-linecap="square"/>
</g>
<g fill="#000">
<rect x="159.9445" y="534.5" width="1.111" height="5"/>
<rect x="300.9445" y="534.5" width="1.111" height="5"/>
<rect x="441.9445" y="534.5" width="1.111" height="5"/>
<rect x="582.9445" y="534.5" width="1.111" height="5"/>
<rect x="723.9445" y="534.5" width="1.111" height="5"/>
<rect x="864.9445" y="534.5" width="1.111" height="5"/>
<rect x="120.5" y="89.9445" width="5" height="1.111"/>
<rect x="120.5" y="143.9445" width="5" height="1.111"/>
<rect x="120.5" y="196.9445" width="5" height="1.111"/>
<rect x="120.5" y="250.9445" width="5" height="1.111"/>
<rect x="120.5" y="303.9445" width="5" height="1.111"/>
<rect x="120.5" y="357.9445" width="5" height="1.111"/>
<rect x="120.5" y="410.9445" width="5" height="1.111"/>
<rect x="120.5" y="464.9445" width="5" height="1.111"/>
<rect x="120.5" y="517.9445" width="5" height="1.111"/>
<rect x="124.9445" y="71.9445" width="1.111" height="463.1110"/>
<rect x="899.9445" y="71.9445" width="1.111" height="463.1110"/>
<rect x="124.9445" y="71.9445" width="776.1110" height="1.111"/>
<rect x="124.9445" y="533.9445" width="776.1110" height="1.111"/>
</g>
<text x="149.9 157.65 162.025" y="554.722">0.0</text>
<text x="290.9 298.65 303.025" y="554.722">0.2</text>
<text x="431.9 439.65 444.025" y="554.722">0.4</text>
<text x="573 580.75 585.125" y="554.722">0.6</text>
<text x="714 721.75 726.125" y="554.722">0.8</text>
<text x="853.9 861.775 866.15" y="554.722">1.0</text>
<text x="85 92.75 97.125 106" y="95.950">0.16</text>
<text x="85 92.75 97.125 106" y="149.450">0.14</text>
<text x="85 92.75 97.125 106" y="202.950">0.12</text>
<text x="85 92.75 97.125 106" y="256.450">0.10</text>
<text x="84.9 92.65 97.025 105.775" y="309.950">0.08</text>
<text x="84.9 92.65 97.025 105.775" y="363.450">0.06</text>
<text x="85.9 93.65 98.025 106.775" y="416.950">0.04</text>
<text x="85.9 93.65 98.025 106.775" y="470.450">0.02</text>
<text x="85.9 93.65 98.025 106.775" y="523.950">0.00</text>
<text x="874 881.875 890.375" y="572.889">1e6</text>
<text x="493.9 501.65 507.15 515.65 524.525" y="574.278">Steps</text>
<text transform="translate(75.500 320.000) rotate(-90)" x="0 6.5 15 22.125" y="0">Loss</text>
<text class="t" transform="translate(0 63.667) scale(1 1.07)" x="380.9 395.275 405.4 414.15 423.275 433.525 444.025 449.275 460.775 470.9 481.025 487.65 498.15 503.4 512.4 522.525 531.275 540.025 545.275 556.775 566.9 583.15 593.65 603.775 610.65 615.275 624.025 634.15" y="0">Masked Coord Loss Comparison</text>
<rect x="538.5" y="79.5" width="355" height="46" rx="2.78" ry="2.78" fill="#fff" fill-opacity="0.8" stroke="#ccc" stroke-opacity="0.8" stroke-width="1.389"/>
<g fill="#1f77b4">
<rect x="543" y="89.9585" width="7.708" height="2.083"/>
<rect x="554.041" y="89.9585" width="7.708" height="2.083"/>
<rect x="565.082" y="89.9585" width="5.918" height="2.083"/>
</g>
<rect x="541.9585" y="110.9585" width="30.083" height="2.083" fill="#ff7f0e"/>
<text x="581.9 592.025 600.775 604.65 618.15 626.65 630.525 634.9 641.025 649.525 658.025 661.9 669.025 673.4 678.9 684.65 693.275 697.15 705.9 712.9 716.775 725.525 734.275 742.775 748.525 753.15 766.65 775.275 782.4 790.025 798.525 807.4 814.4 822.025 830.525 839.025 844.525 853.4 860.4 864.275 872.775 879.9" y="95.500">Unimol Tools train_inner/masked_coord_loss</text>
<text x="581.9 592.025 600.775 604.65 618.15 626.65 630.525 634.9 648.4 657.025 664.15 671.775 680.275 689.15 696.15 703.775 712.275 720.775 726.275 735.15 742.15 746.025 754.525 761.65" y="116.585">Unimol masked_coord_loss</text>
</svg></body></html>
